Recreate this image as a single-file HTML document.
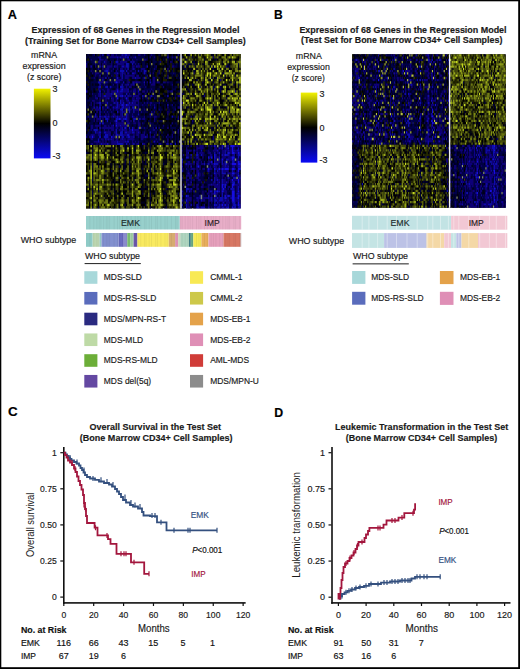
<!DOCTYPE html>
<html><head><meta charset="utf-8"><style>
html,body{margin:0;padding:0;background:#fff;width:520px;height:669px;overflow:hidden}
svg{display:block}
text{font-family:"Liberation Sans", sans-serif}
</style></head><body>
<svg width="520" height="669" viewBox="0 0 520 669" font-family="'Liberation Sans', sans-serif" fill="#1a1a1a" shape-rendering="auto">
<defs><linearGradient id="cb" x1="0" y1="0" x2="0" y2="1">
<stop offset="0" stop-color="#f2f200"/><stop offset="0.5" stop-color="#000"/><stop offset="1" stop-color="#0a0af5"/>
</linearGradient></defs>
<rect width="520" height="669" fill="#fff"/>
<text x="7.8" y="18.7" font-size="13.4" font-weight="bold" fill="#000" textLength="9.2" lengthAdjust="spacingAndGlyphs" stroke="#000" stroke-width="0.16">A</text>
<text x="31.6" y="33.1" font-size="9" font-weight="bold" textLength="207.8" lengthAdjust="spacingAndGlyphs" stroke="#1a1a1a" stroke-width="0.16">Expression of 68 Genes in the Regression Model</text>
<text x="24.9" y="43.5" font-size="9" font-weight="bold" textLength="220.8" lengthAdjust="spacingAndGlyphs" stroke="#1a1a1a" stroke-width="0.16">(Training Set for Bone Marrow CD34+ Cell Samples)</text>
<text x="31.1" y="57.9" font-size="8.85" textLength="26" lengthAdjust="spacingAndGlyphs" stroke="#1a1a1a" stroke-width="0.16">mRNA</text>
<text x="22.5" y="68.7" font-size="8.85" textLength="43.1" lengthAdjust="spacingAndGlyphs" stroke="#1a1a1a" stroke-width="0.16">expression</text>
<text x="27" y="79.8" font-size="8.85" textLength="34.4" lengthAdjust="spacingAndGlyphs" stroke="#1a1a1a" stroke-width="0.16">(z score)</text>
<rect x="33.9" y="88.7" width="16.6" height="69.7" fill="url(#cb)"/>
<text x="52.5" y="92.4" font-size="9" stroke="#1a1a1a" stroke-width="0.16">3</text>
<text x="52.5" y="126.3" font-size="9" stroke="#1a1a1a" stroke-width="0.16">0</text>
<text x="52.5" y="159.2" font-size="9" stroke="#1a1a1a" stroke-width="0.16">-3</text>
<filter id="hb11" x="0" y="0" width="1" height="1"><feGaussianBlur stdDeviation="0.5"/></filter>
<g filter="url(#hb11)">
<rect x="86.00" y="54.00" width="154.70" height="154.40" fill="#000"/>
<path d="M86.0 55.1h1.48M89.0 55.1h2.95M103.7 55.1h1.48M109.6 55.1h1.48M130.3 55.1h1.48M136.2 55.1h1.48M146.5 55.1h1.48M159.8 55.1h1.48M174.6 55.1h1.48M179.0 55.1h1.48M87.5 57.4h1.48M128.8 57.4h1.48M145.1 57.4h1.48M151.0 57.4h1.48M155.4 57.4h1.48M158.4 57.4h2.95M162.8 57.4h4.43M168.7 57.4h1.48M177.5 57.4h1.48M86.0 59.7h1.48M89.0 59.7h1.48M97.8 59.7h1.48M114.1 59.7h1.48M120.0 59.7h1.48M149.5 59.7h2.95M155.4 59.7h1.48M158.4 59.7h1.48M164.3 59.7h1.48M168.7 59.7h1.48M89.0 62.0h1.48M127.3 62.0h2.95M137.7 62.0h4.43M145.1 62.0h1.48M156.9 62.0h1.48M164.3 62.0h1.48M89.0 64.2h2.95M100.8 64.2h1.48M112.6 64.2h1.48M145.1 64.2h1.48M156.9 64.2h1.48M168.7 64.2h1.48M174.6 64.2h1.48M177.5 64.2h1.48M87.5 66.5h2.95M96.3 66.5h1.48M130.3 66.5h1.48M149.5 66.5h1.48M152.4 66.5h1.48M161.3 66.5h1.48M167.2 66.5h1.48M177.5 66.5h1.48M87.5 68.8h1.48M93.4 68.8h2.95M100.8 68.8h1.48M114.1 68.8h1.48M118.5 68.8h1.48M128.8 68.8h1.48M136.2 68.8h1.48M139.2 68.8h1.48M151.0 68.8h1.48M158.4 68.8h1.48M168.7 68.8h1.48M171.6 68.8h1.48M174.6 68.8h1.48M179.0 68.8h1.48M86.0 71.1h1.48M89.0 71.1h1.48M97.8 71.1h1.48M136.2 71.1h1.48M146.5 71.1h1.48M151.0 71.1h1.48M174.6 71.1h1.48M90.4 73.3h1.48M125.9 73.3h1.48M130.3 73.3h1.48M148.0 73.3h1.48M151.0 73.3h1.48M153.9 73.3h1.48M168.7 73.3h1.48M176.1 73.3h2.95M87.5 75.6h1.48M90.4 75.6h1.48M108.1 75.6h2.95M134.7 75.6h1.48M142.1 75.6h2.95M151.0 75.6h1.48M153.9 75.6h1.48M161.3 75.6h2.95M170.2 75.6h1.48M173.1 75.6h1.48M179.0 75.6h1.48M87.5 77.9h1.48M96.3 77.9h1.48M106.7 77.9h1.48M111.1 77.9h1.48M130.3 77.9h1.48M140.6 77.9h1.48M149.5 77.9h1.48M159.8 77.9h1.48M165.7 77.9h1.48M171.6 77.9h2.95M177.5 77.9h1.48M87.5 80.2h5.91M96.3 80.2h1.48M130.3 80.2h4.43M137.7 80.2h1.48M140.6 80.2h1.48M151.0 80.2h1.48M155.4 80.2h1.48M159.8 80.2h1.48M167.2 80.2h1.48M171.6 80.2h2.95M177.5 80.2h2.95M89.0 82.4h1.48M124.4 82.4h1.48M145.1 82.4h1.48M159.8 82.4h1.48M174.6 82.4h1.48M89.0 84.7h1.48M91.9 84.7h1.48M94.9 84.7h4.43M108.1 84.7h2.95M114.1 84.7h1.48M118.5 84.7h1.48M139.2 84.7h1.48M145.1 84.7h1.48M158.4 84.7h1.48M162.8 84.7h4.43M168.7 84.7h1.48M174.6 84.7h1.48M179.0 84.7h1.48M86.0 87.0h1.48M89.0 87.0h1.48M108.1 87.0h1.48M131.8 87.0h1.48M134.7 87.0h1.48M146.5 87.0h2.95M155.4 87.0h2.95M161.3 87.0h1.48M165.7 87.0h5.91M173.1 87.0h1.48M89.0 89.3h1.48M93.4 89.3h1.48M112.6 89.3h2.95M128.8 89.3h1.48M142.1 89.3h1.48M155.4 89.3h1.48M164.3 89.3h1.48M167.2 89.3h1.48M179.0 89.3h1.48M87.5 91.5h4.43M94.9 91.5h1.48M100.8 91.5h1.48M140.6 91.5h1.48M148.0 91.5h1.48M151.0 91.5h1.48M153.9 91.5h1.48M174.6 91.5h2.95M86.0 93.8h1.48M90.4 93.8h1.48M136.2 93.8h1.48M142.1 93.8h1.48M156.9 93.8h1.48M164.3 93.8h1.48M173.1 93.8h1.48M87.5 96.1h1.48M90.4 96.1h1.48M140.6 96.1h1.48M148.0 96.1h1.48M159.8 96.1h1.48M165.7 96.1h1.48M170.2 96.1h1.48M176.1 96.1h1.48M97.8 98.4h1.48M109.6 98.4h1.48M118.5 98.4h1.48M128.8 98.4h2.95M143.6 98.4h1.48M151.0 98.4h1.48M162.8 98.4h1.48M165.7 98.4h2.95M171.6 98.4h1.48M177.5 98.4h2.95M118.5 100.6h1.48M139.2 100.6h1.48M143.6 100.6h1.48M149.5 100.6h2.95M153.9 100.6h1.48M161.3 100.6h1.48M168.7 100.6h1.48M87.5 102.9h2.95M91.9 102.9h1.48M142.1 102.9h1.48M159.8 102.9h1.48M162.8 102.9h4.43M168.7 102.9h4.43M174.6 102.9h2.95M87.5 105.2h1.48M91.9 105.2h1.48M94.9 105.2h1.48M97.8 105.2h1.48M161.3 105.2h2.95M168.7 105.2h1.48M176.1 105.2h2.95M109.6 107.5h1.48M130.3 107.5h1.48M136.2 107.5h1.48M140.6 107.5h1.48M145.1 107.5h1.48M148.0 107.5h1.48M152.4 107.5h1.48M161.3 107.5h1.48M168.7 107.5h2.95M86.0 109.7h1.48M89.0 109.7h1.48M106.7 109.7h1.48M170.2 109.7h2.95M97.8 112.0h1.48M114.1 112.0h1.48M139.2 112.0h1.48M148.0 112.0h2.95M162.8 112.0h1.48M165.7 112.0h1.48M176.1 112.0h1.48M91.9 114.3h1.48M97.8 114.3h1.48M100.8 114.3h1.48M103.7 114.3h1.48M109.6 114.3h1.48M115.5 114.3h1.48M118.5 114.3h1.48M122.9 114.3h1.48M140.6 114.3h2.95M146.5 114.3h2.95M155.4 114.3h1.48M159.8 114.3h1.48M164.3 114.3h1.48M177.5 114.3h2.95M97.8 116.6h1.48M145.1 116.6h1.48M161.3 116.6h1.48M165.7 116.6h1.48M170.2 116.6h1.48M94.9 118.8h1.48M103.7 118.8h1.48M109.6 118.8h1.48M114.1 118.8h1.48M146.5 118.8h1.48M151.0 118.8h1.48M156.9 118.8h1.48M162.8 118.8h1.48M168.7 118.8h4.43M94.9 121.1h1.48M108.1 121.1h1.48M131.8 121.1h1.48M140.6 121.1h2.95M151.0 121.1h2.95M167.2 121.1h1.48M171.6 121.1h5.91M93.4 123.4h1.48M111.1 123.4h1.48M140.6 123.4h1.48M145.1 123.4h2.95M153.9 123.4h2.95M159.8 123.4h2.95M164.3 123.4h5.91M173.1 123.4h1.48M86.0 125.7h1.48M89.0 125.7h1.48M100.8 125.7h1.48M114.1 125.7h1.48M131.8 125.7h1.48M136.2 125.7h1.48M140.6 125.7h1.48M143.6 125.7h2.95M148.0 125.7h1.48M156.9 125.7h1.48M159.8 125.7h2.95M164.3 125.7h2.95M173.1 125.7h2.95M177.5 125.7h2.95M87.5 127.9h1.48M127.3 127.9h1.48M130.3 127.9h1.48M134.7 127.9h2.95M148.0 127.9h1.48M153.9 127.9h1.48M159.8 127.9h1.48M164.3 127.9h2.95M176.1 127.9h2.95M100.8 130.2h1.48M140.6 130.2h2.95M146.5 130.2h1.48M158.4 130.2h1.48M164.3 130.2h2.95M168.7 130.2h2.95M179.0 130.2h1.48M90.4 132.5h1.48M111.1 132.5h1.48M118.5 132.5h1.48M146.5 132.5h2.95M164.3 132.5h4.43M176.1 132.5h1.48M179.0 132.5h1.48M100.8 134.8h1.48M111.1 134.8h1.48M145.1 134.8h1.48M152.4 134.8h1.48M162.8 134.8h2.95M170.2 134.8h1.48M179.0 134.8h1.48M87.5 137.0h1.48M100.8 137.0h1.48M134.7 137.0h1.48M148.0 137.0h1.48M155.4 137.0h2.95M161.3 137.0h1.48M173.1 137.0h1.48M176.1 137.0h1.48M118.5 139.3h1.48M139.2 139.3h1.48M146.5 139.3h2.95M161.3 139.3h5.91M171.6 139.3h2.95M176.1 139.3h1.48M179.0 139.3h1.48M106.7 141.6h1.48M143.6 141.6h1.48M148.0 141.6h1.48M159.8 141.6h1.48M165.7 141.6h1.48M87.5 143.9h2.95M139.2 143.9h1.48M152.4 143.9h1.48M162.8 143.9h1.48M168.7 143.9h1.48M187.4 55.1h1.48M211.1 55.1h2.96M215.5 55.1h1.48M222.9 55.1h1.48M227.4 55.1h1.48M231.8 55.1h1.48M196.3 57.4h1.48M203.7 57.4h1.48M218.5 57.4h1.48M225.9 57.4h1.48M184.5 59.7h1.48M211.1 59.7h1.48M214.1 59.7h1.48M228.9 59.7h2.96M237.7 59.7h1.48M183.0 62.0h1.48M191.9 62.0h1.48M196.3 62.0h1.48M208.1 62.0h1.48M221.5 62.0h1.48M234.8 62.0h1.48M190.4 64.2h1.48M196.3 64.2h1.48M202.2 64.2h2.96M208.1 64.2h1.48M221.5 64.2h1.48M187.4 66.5h1.48M227.4 66.5h1.48M237.7 66.5h1.48M183.0 68.8h1.48M188.9 68.8h4.44M196.3 68.8h1.48M200.7 68.8h1.48M203.7 68.8h1.48M208.1 68.8h1.48M215.5 68.8h1.48M220.0 68.8h1.48M224.4 68.8h1.48M228.9 68.8h1.48M237.7 68.8h1.48M194.8 71.1h1.48M199.3 71.1h1.48M205.2 71.1h1.48M211.1 71.1h1.48M217.0 71.1h1.48M227.4 71.1h1.48M221.5 73.3h1.48M234.8 73.3h2.96M181.5 75.6h1.48M188.9 75.6h1.48M203.7 75.6h1.48M185.9 77.9h1.48M188.9 77.9h1.48M193.3 77.9h1.48M203.7 77.9h1.48M224.4 77.9h1.48M181.5 80.2h4.44M191.9 80.2h1.48M203.7 80.2h1.48M208.1 80.2h2.96M212.6 80.2h1.48M218.5 80.2h1.48M222.9 80.2h1.48M237.7 80.2h1.48M183.0 82.4h1.48M228.9 82.4h1.48M234.8 82.4h1.48M193.3 84.7h1.48M202.2 84.7h1.48M208.1 84.7h1.48M214.1 84.7h1.48M221.5 84.7h2.96M193.3 87.0h1.48M202.2 87.0h1.48M205.2 87.0h1.48M208.1 87.0h1.48M221.5 87.0h1.48M227.4 87.0h1.48M230.3 87.0h1.48M237.7 87.0h1.48M193.3 89.3h1.48M196.3 89.3h1.48M215.5 89.3h1.48M218.5 89.3h1.48M221.5 89.3h1.48M228.9 89.3h1.48M236.3 89.3h1.48M183.0 91.5h1.48M197.8 91.5h1.48M225.9 91.5h1.48M237.7 91.5h1.48M221.5 93.8h1.48M230.3 93.8h2.96M187.4 96.1h1.48M193.3 96.1h1.48M202.2 96.1h1.48M209.6 96.1h1.48M212.6 96.1h1.48M227.4 96.1h1.48M185.9 98.4h2.96M212.6 98.4h1.48M215.5 98.4h1.48M237.7 98.4h1.48M197.8 100.6h1.48M205.2 100.6h1.48M212.6 100.6h1.48M222.9 100.6h1.48M227.4 100.6h1.48M208.1 102.9h2.96M200.7 105.2h1.48M212.6 105.2h1.48M237.7 105.2h1.48M185.9 107.5h1.48M190.4 107.5h1.48M203.7 107.5h1.48M214.1 107.5h2.96M220.0 107.5h1.48M222.9 107.5h1.48M239.2 107.5h1.48M183.0 109.7h1.48M190.4 109.7h2.96M199.3 109.7h1.48M228.9 109.7h1.48M214.1 112.0h1.48M218.5 112.0h1.48M214.1 114.3h1.48M230.3 114.3h1.48M237.7 114.3h1.48M208.1 116.6h1.48M212.6 116.6h1.48M218.5 116.6h2.96M225.9 116.6h1.48M231.8 116.6h1.48M197.8 118.8h1.48M218.5 118.8h1.48M193.3 121.1h1.48M200.7 121.1h1.48M211.1 121.1h1.48M221.5 121.1h1.48M224.4 121.1h1.48M183.0 123.4h1.48M190.4 123.4h1.48M193.3 123.4h1.48M205.2 123.4h1.48M208.1 123.4h1.48M217.0 123.4h1.48M184.5 125.7h1.48M190.4 125.7h1.48M218.5 125.7h1.48M193.3 127.9h1.48M212.6 127.9h1.48M215.5 127.9h1.48M220.0 127.9h1.48M230.3 127.9h1.48M233.3 127.9h2.96M190.4 130.2h1.48M193.3 130.2h1.48M196.3 130.2h1.48M200.7 130.2h1.48M211.1 130.2h2.96M225.9 130.2h1.48M188.9 132.5h1.48M202.2 132.5h2.96M225.9 132.5h1.48M187.4 134.8h1.48M193.3 134.8h1.48M212.6 134.8h2.96M185.9 137.0h1.48M194.8 137.0h1.48M202.2 137.0h1.48M234.8 137.0h1.48M184.5 139.3h1.48M193.3 139.3h1.48M199.3 139.3h1.48M211.1 139.3h1.48M234.8 139.3h2.96M181.5 141.6h1.48M185.9 141.6h1.48M191.9 141.6h1.48M196.3 141.6h1.48M202.2 141.6h1.48M208.1 141.6h1.48M214.1 141.6h1.48M218.5 141.6h1.48M224.4 141.6h1.48M194.8 143.9h1.48M212.6 143.9h1.48M225.9 143.9h1.48" stroke="rgb(2, 1, 30)" stroke-width="2.32" fill="none"/>
<path d="M118.5 146.1h1.48M124.4 146.1h2.95M134.7 146.1h1.48M140.6 146.1h2.95M151.0 146.1h1.48M91.9 148.4h1.48M114.1 148.4h1.48M118.5 148.4h1.48M124.4 148.4h1.48M133.2 148.4h2.95M142.1 148.4h1.48M145.1 148.4h2.95M165.7 148.4h1.48M105.2 150.7h1.48M111.1 150.7h1.48M133.2 150.7h2.95M145.1 150.7h1.48M149.5 150.7h1.48M87.5 152.9h1.48M91.9 152.9h1.48M97.8 152.9h1.48M103.7 152.9h1.48M109.6 152.9h2.95M118.5 152.9h1.48M125.9 152.9h1.48M142.1 152.9h2.95M146.5 152.9h1.48M149.5 152.9h1.48M153.9 152.9h2.95M164.3 152.9h2.95M91.9 155.2h1.48M111.1 155.2h1.48M114.1 155.2h1.48M140.6 155.2h1.48M145.1 155.2h1.48M149.5 155.2h1.48M153.9 155.2h1.48M156.9 155.2h1.48M165.7 155.2h1.48M179.0 155.2h1.48M124.4 157.5h2.95M128.8 157.5h1.48M134.7 157.5h1.48M142.1 157.5h1.48M109.6 159.7h1.48M142.1 159.7h1.48M164.3 159.7h2.95M91.9 162.0h1.48M149.5 162.0h1.48M162.8 162.0h4.43M174.6 162.0h1.48M97.8 164.2h1.48M109.6 164.2h2.95M114.1 164.2h1.48M117.0 164.2h1.48M122.9 164.2h1.48M142.1 164.2h2.95M164.3 164.2h1.48M170.2 164.2h2.95M89.0 166.5h1.48M97.8 166.5h1.48M111.1 166.5h1.48M114.1 166.5h1.48M120.0 166.5h1.48M122.9 166.5h2.95M128.8 166.5h1.48M142.1 166.5h1.48M149.5 166.5h1.48M153.9 166.5h1.48M162.8 166.5h1.48M89.0 168.8h1.48M91.9 168.8h1.48M100.8 168.8h1.48M114.1 168.8h1.48M122.9 168.8h2.95M128.8 168.8h1.48M140.6 168.8h1.48M145.1 168.8h1.48M153.9 168.8h1.48M170.2 168.8h1.48M91.9 171.0h1.48M118.5 171.0h1.48M121.4 171.0h1.48M128.8 171.0h2.95M134.7 171.0h1.48M142.1 171.0h1.48M145.1 171.0h1.48M153.9 171.0h1.48M91.9 173.3h1.48M114.1 173.3h1.48M142.1 173.3h1.48M145.1 173.3h1.48M149.5 173.3h1.48M164.3 173.3h1.48M91.9 175.6h1.48M105.2 175.6h1.48M125.9 175.6h1.48M128.8 175.6h1.48M143.6 175.6h1.48M149.5 175.6h1.48M164.3 175.6h1.48M86.0 177.8h1.48M103.7 177.8h1.48M114.1 177.8h1.48M120.0 177.8h1.48M133.2 177.8h2.95M140.6 177.8h1.48M143.6 177.8h2.95M153.9 177.8h1.48M162.8 177.8h4.43M170.2 177.8h2.95M177.5 177.8h2.95M114.1 180.1h1.48M124.4 180.1h1.48M133.2 180.1h1.48M142.1 180.1h1.48M145.1 180.1h1.48M149.5 180.1h1.48M162.8 180.1h1.48M165.7 180.1h1.48M179.0 180.1h1.48M91.9 182.4h1.48M103.7 182.4h1.48M111.1 182.4h1.48M114.1 182.4h1.48M117.0 182.4h1.48M125.9 182.4h1.48M128.8 182.4h1.48M131.8 182.4h1.48M139.2 182.4h4.43M149.5 182.4h1.48M167.2 182.4h1.48M89.0 184.6h1.48M122.9 184.6h1.48M134.7 184.6h1.48M145.1 184.6h1.48M149.5 184.6h1.48M162.8 184.6h1.48M86.0 186.9h1.48M89.0 186.9h1.48M91.9 186.9h1.48M97.8 186.9h1.48M103.7 186.9h1.48M111.1 186.9h1.48M142.1 186.9h1.48M149.5 186.9h1.48M153.9 186.9h1.48M162.8 186.9h2.95M177.5 186.9h2.95M91.9 189.2h1.48M97.8 189.2h1.48M111.1 189.2h1.48M114.1 189.2h1.48M118.5 189.2h1.48M128.8 189.2h1.48M140.6 189.2h4.43M146.5 189.2h1.48M149.5 189.2h1.48M167.2 189.2h1.48M86.0 191.4h2.95M114.1 191.4h1.48M142.1 191.4h1.48M149.5 191.4h1.48M153.9 191.4h1.48M162.8 191.4h2.95M109.6 193.7h1.48M114.1 193.7h1.48M117.0 193.7h1.48M122.9 193.7h1.48M152.4 193.7h2.95M162.8 193.7h1.48M91.9 195.9h1.48M103.7 195.9h1.48M118.5 195.9h1.48M124.4 195.9h1.48M134.7 195.9h1.48M145.1 195.9h1.48M165.7 195.9h1.48M91.9 198.2h1.48M105.2 198.2h1.48M111.1 198.2h1.48M115.5 198.2h1.48M124.4 198.2h1.48M128.8 198.2h1.48M140.6 198.2h1.48M145.1 198.2h1.48M91.9 200.5h1.48M128.8 200.5h1.48M145.1 200.5h1.48M149.5 200.5h1.48M162.8 200.5h2.95M177.5 200.5h1.48M91.9 202.7h1.48M118.5 202.7h1.48M124.4 202.7h1.48M140.6 202.7h4.43M156.9 202.7h1.48M164.3 202.7h1.48M177.5 202.7h1.48M118.5 205.0h1.48M149.5 205.0h1.48M165.7 205.0h1.48M89.0 207.3h1.48M114.1 207.3h1.48M118.5 207.3h1.48M124.4 207.3h1.48M130.3 207.3h1.48M134.7 207.3h1.48M142.1 207.3h1.48M145.1 207.3h1.48M153.9 207.3h1.48M164.3 207.3h1.48M183.0 146.1h2.96M188.9 146.1h1.48M194.8 146.1h1.48M203.7 146.1h1.48M183.0 148.4h1.48M187.4 148.4h2.96M217.0 148.4h1.48M236.3 148.4h1.48M183.0 150.7h2.96M191.9 150.7h1.48M183.0 152.9h1.48M205.2 152.9h1.48M206.7 155.2h1.48M212.6 155.2h1.48M220.0 155.2h1.48M234.8 155.2h1.48M183.0 157.5h2.96M199.3 157.5h1.48M203.7 157.5h1.48M206.7 157.5h1.48M220.0 157.5h1.48M183.0 159.7h1.48M187.4 159.7h2.96M193.3 159.7h1.48M203.7 159.7h1.48M212.6 159.7h1.48M194.8 162.0h1.48M202.2 162.0h1.48M205.2 162.0h1.48M220.0 164.2h1.48M188.9 166.5h1.48M191.9 166.5h1.48M194.8 166.5h1.48M200.7 166.5h2.96M205.2 166.5h1.48M220.0 166.5h1.48M184.5 168.8h1.48M200.7 168.8h1.48M205.2 168.8h1.48M212.6 168.8h1.48M236.3 168.8h1.48M184.5 171.0h1.48M205.2 171.0h1.48M212.6 171.0h1.48M234.8 171.0h1.48M181.5 173.3h1.48M184.5 173.3h1.48M190.4 173.3h1.48M205.2 173.3h1.48M209.6 173.3h1.48M239.2 173.3h1.48M191.9 175.6h1.48M205.2 175.6h2.96M224.4 175.6h1.48M187.4 177.8h1.48M203.7 177.8h2.96M209.6 177.8h1.48M212.6 177.8h1.48M183.0 180.1h2.96M194.8 180.1h1.48M212.6 180.1h1.48M181.5 182.4h2.96M228.9 182.4h1.48M181.5 184.6h1.48M194.8 184.6h1.48M203.7 184.6h2.96M227.4 184.6h1.48M183.0 186.9h1.48M188.9 186.9h2.96M194.8 186.9h1.48M199.3 186.9h1.48M209.6 186.9h1.48M212.6 186.9h1.48M225.9 186.9h1.48M183.0 189.2h2.96M193.3 189.2h2.96M199.3 189.2h1.48M205.2 189.2h1.48M215.5 189.2h1.48M228.9 189.2h1.48M191.9 191.4h1.48M185.9 193.7h1.48M188.9 193.7h1.48M199.3 193.7h1.48M205.2 193.7h1.48M228.9 193.7h1.48M183.0 195.9h1.48M191.9 195.9h1.48M206.7 195.9h1.48M212.6 195.9h1.48M220.0 195.9h1.48M191.9 198.2h1.48M191.9 200.5h1.48M206.7 200.5h1.48M200.7 202.7h1.48M203.7 202.7h1.48M206.7 202.7h1.48M209.6 202.7h1.48M212.6 202.7h1.48M191.9 205.0h1.48M194.8 205.0h1.48M206.7 205.0h1.48" stroke="rgb(2, 1, 30)" stroke-width="2.31" fill="none"/>
<path d="M87.5 55.1h1.48M91.9 55.1h1.48M96.3 55.1h1.48M100.8 55.1h1.48M114.1 55.1h1.48M117.0 55.1h4.43M131.8 55.1h4.43M140.6 55.1h2.95M145.1 55.1h1.48M149.5 55.1h1.48M152.4 55.1h2.95M158.4 55.1h1.48M171.6 55.1h1.48M86.0 57.4h1.48M89.0 57.4h8.86M100.8 57.4h5.91M108.1 57.4h1.48M131.8 57.4h1.48M136.2 57.4h8.86M146.5 57.4h1.48M152.4 57.4h1.48M170.2 57.4h1.48M173.1 57.4h1.48M91.9 59.7h5.91M103.7 59.7h1.48M106.7 59.7h1.48M109.6 59.7h4.43M115.5 59.7h1.48M118.5 59.7h1.48M124.4 59.7h2.95M133.2 59.7h2.95M137.7 59.7h4.43M146.5 59.7h1.48M152.4 59.7h2.95M162.8 59.7h1.48M167.2 59.7h1.48M171.6 59.7h1.48M174.6 59.7h1.48M86.0 62.0h2.95M90.4 62.0h2.95M100.8 62.0h2.95M106.7 62.0h2.95M112.6 62.0h1.48M118.5 62.0h1.48M134.7 62.0h2.95M142.1 62.0h2.95M149.5 62.0h1.48M152.4 62.0h4.43M158.4 62.0h1.48M167.2 62.0h1.48M171.6 62.0h1.48M179.0 62.0h1.48M91.9 64.2h2.95M96.3 64.2h2.95M103.7 64.2h1.48M106.7 64.2h4.43M114.1 64.2h2.95M124.4 64.2h1.48M128.8 64.2h1.48M133.2 64.2h1.48M136.2 64.2h1.48M139.2 64.2h1.48M142.1 64.2h2.95M146.5 64.2h1.48M149.5 64.2h1.48M152.4 64.2h2.95M158.4 64.2h1.48M167.2 64.2h1.48M171.6 64.2h2.95M176.1 64.2h1.48M179.0 64.2h1.48M91.9 66.5h1.48M100.8 66.5h1.48M105.2 66.5h1.48M112.6 66.5h1.48M118.5 66.5h2.95M128.8 66.5h1.48M134.7 66.5h1.48M142.1 66.5h4.43M151.0 66.5h1.48M153.9 66.5h1.48M164.3 66.5h1.48M168.7 66.5h1.48M174.6 66.5h2.95M179.0 66.5h1.48M90.4 68.8h2.95M96.3 68.8h1.48M99.3 68.8h1.48M103.7 68.8h1.48M109.6 68.8h2.95M115.5 68.8h1.48M122.9 68.8h1.48M125.9 68.8h1.48M130.3 68.8h1.48M134.7 68.8h1.48M137.7 68.8h1.48M145.1 68.8h1.48M149.5 68.8h1.48M152.4 68.8h1.48M155.4 68.8h1.48M162.8 68.8h1.48M91.9 71.1h2.95M96.3 71.1h1.48M100.8 71.1h2.95M109.6 71.1h1.48M112.6 71.1h1.48M117.0 71.1h2.95M124.4 71.1h1.48M127.3 71.1h2.95M131.8 71.1h2.95M139.2 71.1h1.48M142.1 71.1h1.48M149.5 71.1h1.48M152.4 71.1h2.95M162.8 71.1h1.48M171.6 71.1h1.48M87.5 73.3h2.95M93.4 73.3h1.48M99.3 73.3h1.48M103.7 73.3h2.95M109.6 73.3h4.43M118.5 73.3h1.48M128.8 73.3h1.48M136.2 73.3h1.48M139.2 73.3h1.48M142.1 73.3h1.48M156.9 73.3h1.48M161.3 73.3h1.48M164.3 73.3h1.48M167.2 73.3h1.48M170.2 73.3h2.95M174.6 73.3h1.48M179.0 73.3h1.48M89.0 75.6h1.48M93.4 75.6h1.48M96.3 75.6h2.95M102.2 75.6h4.43M112.6 75.6h1.48M122.9 75.6h1.48M140.6 75.6h1.48M145.1 75.6h1.48M152.4 75.6h1.48M156.9 75.6h1.48M171.6 75.6h1.48M174.6 75.6h1.48M177.5 75.6h1.48M86.0 77.9h1.48M90.4 77.9h2.95M94.9 77.9h1.48M97.8 77.9h1.48M100.8 77.9h1.48M103.7 77.9h1.48M109.6 77.9h1.48M112.6 77.9h2.95M118.5 77.9h2.95M122.9 77.9h1.48M128.8 77.9h1.48M142.1 77.9h1.48M146.5 77.9h2.95M155.4 77.9h1.48M158.4 77.9h1.48M164.3 77.9h1.48M176.1 77.9h1.48M179.0 77.9h1.48M86.0 80.2h1.48M93.4 80.2h2.95M97.8 80.2h1.48M100.8 80.2h1.48M103.7 80.2h1.48M106.7 80.2h2.95M111.1 80.2h2.95M122.9 80.2h4.43M134.7 80.2h2.95M142.1 80.2h4.43M87.5 82.4h1.48M90.4 82.4h7.38M108.1 82.4h2.95M112.6 82.4h1.48M120.0 82.4h2.95M125.9 82.4h1.48M140.6 82.4h2.95M151.0 82.4h1.48M155.4 82.4h1.48M165.7 82.4h1.48M168.7 82.4h4.43M176.1 82.4h4.43M86.0 84.7h1.48M90.4 84.7h1.48M93.4 84.7h1.48M100.8 84.7h2.95M105.2 84.7h2.95M111.1 84.7h1.48M115.5 84.7h1.48M120.0 84.7h1.48M122.9 84.7h1.48M128.8 84.7h1.48M137.7 84.7h1.48M140.6 84.7h2.95M146.5 84.7h1.48M149.5 84.7h1.48M159.8 84.7h1.48M167.2 84.7h1.48M170.2 84.7h1.48M87.5 87.0h1.48M90.4 87.0h7.38M102.2 87.0h2.95M112.6 87.0h4.43M124.4 87.0h1.48M127.3 87.0h1.48M133.2 87.0h1.48M136.2 87.0h1.48M140.6 87.0h4.43M149.5 87.0h5.91M158.4 87.0h1.48M171.6 87.0h1.48M174.6 87.0h2.95M179.0 87.0h1.48M86.0 89.3h1.48M90.4 89.3h2.95M94.9 89.3h1.48M100.8 89.3h1.48M103.7 89.3h2.95M109.6 89.3h2.95M118.5 89.3h1.48M130.3 89.3h2.95M136.2 89.3h1.48M140.6 89.3h1.48M143.6 89.3h7.38M152.4 89.3h2.95M156.9 89.3h2.95M165.7 89.3h1.48M171.6 89.3h4.43M91.9 91.5h1.48M96.3 91.5h2.95M102.2 91.5h1.48M105.2 91.5h1.48M109.6 91.5h1.48M128.8 91.5h1.48M131.8 91.5h1.48M136.2 91.5h1.48M139.2 91.5h1.48M145.1 91.5h1.48M158.4 91.5h1.48M168.7 91.5h1.48M177.5 91.5h2.95M89.0 93.8h1.48M93.4 93.8h4.43M100.8 93.8h1.48M122.9 93.8h2.95M127.3 93.8h1.48M130.3 93.8h2.95M140.6 93.8h1.48M143.6 93.8h1.48M151.0 93.8h1.48M153.9 93.8h1.48M158.4 93.8h1.48M162.8 93.8h1.48M167.2 93.8h1.48M174.6 93.8h1.48M86.0 96.1h1.48M91.9 96.1h2.95M96.3 96.1h1.48M100.8 96.1h1.48M112.6 96.1h2.95M125.9 96.1h1.48M131.8 96.1h1.48M139.2 96.1h1.48M146.5 96.1h1.48M152.4 96.1h4.43M164.3 96.1h1.48M171.6 96.1h1.48M174.6 96.1h1.48M86.0 98.4h1.48M89.0 98.4h5.91M100.8 98.4h1.48M103.7 98.4h1.48M114.1 98.4h1.48M120.0 98.4h1.48M122.9 98.4h1.48M134.7 98.4h1.48M145.1 98.4h1.48M155.4 98.4h1.48M158.4 98.4h4.43M86.0 100.6h5.91M94.9 100.6h4.43M103.7 100.6h1.48M106.7 100.6h4.43M114.1 100.6h1.48M117.0 100.6h1.48M124.4 100.6h1.48M128.8 100.6h2.95M142.1 100.6h1.48M146.5 100.6h2.95M158.4 100.6h1.48M171.6 100.6h1.48M177.5 100.6h1.48M86.0 102.9h1.48M94.9 102.9h1.48M100.8 102.9h1.48M103.7 102.9h1.48M108.1 102.9h4.43M118.5 102.9h1.48M124.4 102.9h2.95M136.2 102.9h1.48M139.2 102.9h2.95M145.1 102.9h1.48M148.0 102.9h1.48M152.4 102.9h5.91M161.3 102.9h1.48M167.2 102.9h1.48M173.1 102.9h1.48M177.5 102.9h2.95M86.0 105.2h1.48M89.0 105.2h1.48M96.3 105.2h1.48M100.8 105.2h1.48M103.7 105.2h1.48M108.1 105.2h1.48M112.6 105.2h2.95M139.2 105.2h2.95M143.6 105.2h4.43M151.0 105.2h2.95M155.4 105.2h1.48M158.4 105.2h1.48M164.3 105.2h1.48M170.2 105.2h1.48M174.6 105.2h1.48M179.0 105.2h1.48M86.0 107.5h2.95M90.4 107.5h2.95M94.9 107.5h1.48M97.8 107.5h1.48M103.7 107.5h2.95M111.1 107.5h1.48M120.0 107.5h1.48M139.2 107.5h1.48M142.1 107.5h2.95M146.5 107.5h1.48M149.5 107.5h2.95M155.4 107.5h1.48M158.4 107.5h2.95M164.3 107.5h1.48M171.6 107.5h4.43M90.4 109.7h1.48M103.7 109.7h1.48M108.1 109.7h1.48M111.1 109.7h1.48M114.1 109.7h1.48M118.5 109.7h1.48M122.9 109.7h1.48M131.8 109.7h1.48M140.6 109.7h2.95M145.1 109.7h1.48M149.5 109.7h1.48M152.4 109.7h4.43M159.8 109.7h2.95M164.3 109.7h1.48M167.2 109.7h2.95M173.1 109.7h1.48M86.0 112.0h1.48M93.4 112.0h1.48M100.8 112.0h2.95M105.2 112.0h1.48M108.1 112.0h2.95M112.6 112.0h1.48M118.5 112.0h1.48M127.3 112.0h1.48M130.3 112.0h2.95M134.7 112.0h2.95M142.1 112.0h5.91M152.4 112.0h1.48M156.9 112.0h1.48M159.8 112.0h1.48M168.7 112.0h1.48M171.6 112.0h2.95M179.0 112.0h1.48M89.0 114.3h2.95M96.3 114.3h1.48M102.2 114.3h1.48M106.7 114.3h1.48M111.1 114.3h1.48M117.0 114.3h1.48M128.8 114.3h2.95M133.2 114.3h4.43M139.2 114.3h1.48M143.6 114.3h1.48M153.9 114.3h1.48M158.4 114.3h1.48M86.0 116.6h1.48M89.0 116.6h1.48M109.6 116.6h1.48M128.8 116.6h2.95M134.7 116.6h1.48M137.7 116.6h5.91M146.5 116.6h2.95M151.0 116.6h2.95M156.9 116.6h2.95M167.2 116.6h1.48M173.1 116.6h2.95M86.0 118.8h1.48M89.0 118.8h4.43M100.8 118.8h1.48M111.1 118.8h2.95M128.8 118.8h1.48M131.8 118.8h1.48M137.7 118.8h1.48M140.6 118.8h1.48M145.1 118.8h1.48M149.5 118.8h1.48M155.4 118.8h1.48M165.7 118.8h2.95M174.6 118.8h1.48M90.4 121.1h2.95M97.8 121.1h1.48M105.2 121.1h1.48M109.6 121.1h4.43M118.5 121.1h2.95M124.4 121.1h1.48M128.8 121.1h1.48M134.7 121.1h2.95M139.2 121.1h1.48M143.6 121.1h2.95M148.0 121.1h2.95M155.4 121.1h1.48M158.4 121.1h4.43M86.0 123.4h1.48M89.0 123.4h4.43M94.9 123.4h2.95M100.8 123.4h1.48M103.7 123.4h5.91M112.6 123.4h2.95M125.9 123.4h1.48M130.3 123.4h2.95M136.2 123.4h1.48M143.6 123.4h1.48M151.0 123.4h2.95M156.9 123.4h1.48M174.6 123.4h2.95M87.5 125.7h1.48M93.4 125.7h1.48M102.2 125.7h1.48M106.7 125.7h1.48M109.6 125.7h1.48M128.8 125.7h2.95M133.2 125.7h2.95M142.1 125.7h1.48M146.5 125.7h1.48M151.0 125.7h5.91M158.4 125.7h1.48M167.2 125.7h1.48M176.1 125.7h1.48M86.0 127.9h1.48M93.4 127.9h2.95M100.8 127.9h1.48M114.1 127.9h1.48M118.5 127.9h1.48M122.9 127.9h1.48M142.1 127.9h1.48M145.1 127.9h2.95M149.5 127.9h2.95M161.3 127.9h2.95M170.2 127.9h5.91M179.0 127.9h1.48M86.0 130.2h1.48M89.0 130.2h1.48M91.9 130.2h1.48M97.8 130.2h1.48M102.2 130.2h1.48M105.2 130.2h2.95M109.6 130.2h1.48M114.1 130.2h1.48M117.0 130.2h1.48M127.3 130.2h1.48M139.2 130.2h1.48M143.6 130.2h2.95M148.0 130.2h4.43M155.4 130.2h2.95M171.6 130.2h1.48M174.6 130.2h1.48M87.5 132.5h2.95M91.9 132.5h2.95M100.8 132.5h2.95M112.6 132.5h1.48M117.0 132.5h1.48M122.9 132.5h1.48M134.7 132.5h1.48M142.1 132.5h1.48M145.1 132.5h1.48M151.0 132.5h4.43M158.4 132.5h2.95M162.8 132.5h1.48M171.6 132.5h1.48M86.0 134.8h4.43M94.9 134.8h2.95M102.2 134.8h2.95M114.1 134.8h1.48M130.3 134.8h2.95M134.7 134.8h1.48M139.2 134.8h1.48M155.4 134.8h1.48M158.4 134.8h1.48M161.3 134.8h1.48M174.6 134.8h1.48M177.5 134.8h1.48M94.9 137.0h4.43M102.2 137.0h1.48M109.6 137.0h1.48M120.0 137.0h1.48M124.4 137.0h1.48M136.2 137.0h1.48M139.2 137.0h1.48M151.0 137.0h1.48M162.8 137.0h1.48M167.2 137.0h4.43M174.6 137.0h1.48M177.5 137.0h1.48M93.4 139.3h4.43M99.3 139.3h1.48M103.7 139.3h1.48M114.1 139.3h1.48M125.9 139.3h1.48M134.7 139.3h4.43M143.6 139.3h2.95M149.5 139.3h5.91M156.9 139.3h1.48M170.2 139.3h1.48M174.6 139.3h1.48M177.5 139.3h1.48M89.0 141.6h4.43M100.8 141.6h1.48M103.7 141.6h1.48M108.1 141.6h2.95M128.8 141.6h2.95M133.2 141.6h1.48M136.2 141.6h1.48M139.2 141.6h4.43M145.1 141.6h2.95M149.5 141.6h1.48M155.4 141.6h1.48M158.4 141.6h1.48M161.3 141.6h1.48M173.1 141.6h2.95M93.4 143.9h2.95M97.8 143.9h1.48M109.6 143.9h1.48M124.4 143.9h1.48M127.3 143.9h1.48M130.3 143.9h1.48M134.7 143.9h1.48M145.1 143.9h1.48M149.5 143.9h2.95M153.9 143.9h2.95M161.3 143.9h1.48M171.6 143.9h1.48M177.5 143.9h1.48M188.9 55.1h1.48M199.3 55.1h1.48M181.5 57.4h1.48M191.9 57.4h1.48M185.9 59.7h1.48M203.7 59.7h1.48M215.5 59.7h1.48M193.3 62.0h1.48M184.5 64.2h1.48M187.4 64.2h2.96M227.4 64.2h1.48M237.7 64.2h1.48M183.0 66.5h1.48M185.9 66.5h1.48M194.8 66.5h1.48M209.6 66.5h1.48M212.6 66.5h1.48M228.9 66.5h1.48M184.5 68.8h1.48M212.6 68.8h1.48M193.3 71.1h1.48M222.9 73.3h1.48M224.4 75.6h1.48M234.8 75.6h1.48M211.1 77.9h1.48M215.5 77.9h1.48M196.3 80.2h1.48M202.2 82.4h1.48M212.6 82.4h1.48M230.3 82.4h1.48M188.9 84.7h1.48M191.9 84.7h1.48M224.4 84.7h1.48M233.3 84.7h1.48M237.7 84.7h1.48M185.9 87.0h1.48M212.6 87.0h2.96M220.0 87.0h1.48M187.4 89.3h1.48M212.6 89.3h1.48M220.0 89.3h1.48M188.9 91.5h1.48M220.0 91.5h1.48M181.5 93.8h2.96M193.3 93.8h1.48M203.7 93.8h1.48M225.9 98.4h1.48M208.1 100.6h1.48M196.3 102.9h1.48M181.5 107.5h1.48M187.4 107.5h1.48M212.6 107.5h1.48M225.9 107.5h1.48M228.9 112.0h1.48M184.5 114.3h1.48M193.3 114.3h1.48M193.3 116.6h1.48M221.5 118.8h1.48M191.9 123.4h1.48M214.1 123.4h1.48M185.9 125.7h1.48M215.5 125.7h1.48M228.9 125.7h1.48M200.7 127.9h1.48M211.1 127.9h1.48M193.3 132.5h1.48M206.7 132.5h1.48M217.0 132.5h1.48M237.7 132.5h1.48M188.9 134.8h1.48M191.9 134.8h1.48M194.8 139.3h2.96M183.0 141.6h1.48M188.9 141.6h1.48M193.3 141.6h1.48M200.7 141.6h1.48M205.2 141.6h1.48M225.9 141.6h1.48M237.7 141.6h1.48M227.4 143.9h1.48" stroke="rgb(6, 3, 69)" stroke-width="2.32" fill="none"/>
<path d="M128.8 146.1h1.48M145.1 146.1h1.48M149.5 146.1h1.48M111.1 148.4h1.48M125.9 148.4h1.48M149.5 148.4h1.48M177.5 148.4h1.48M91.9 150.7h1.48M86.0 152.9h1.48M124.4 152.9h1.48M145.1 152.9h1.48M128.8 155.2h1.48M171.6 155.2h1.48M91.9 157.5h1.48M149.5 157.5h1.48M124.4 159.7h1.48M145.1 159.7h1.48M149.5 159.7h1.48M97.8 162.0h1.48M105.2 162.0h1.48M124.4 162.0h1.48M128.8 162.0h1.48M142.1 162.0h1.48M145.1 162.0h1.48M91.9 164.2h1.48M124.4 164.2h1.48M128.8 164.2h1.48M145.1 164.2h1.48M149.5 164.2h1.48M162.8 164.2h1.48M91.9 166.5h1.48M118.5 166.5h1.48M142.1 168.8h1.48M149.5 168.8h1.48M105.2 171.0h1.48M111.1 171.0h1.48M149.5 171.0h1.48M165.7 171.0h1.48M145.1 175.6h2.95M91.9 177.8h1.48M118.5 177.8h1.48M149.5 177.8h1.48M152.4 177.8h1.48M91.9 180.1h1.48M165.7 182.4h1.48M145.1 186.9h1.48M165.7 189.2h1.48M91.9 191.4h1.48M97.8 191.4h1.48M91.9 193.7h1.48M142.1 193.7h1.48M149.5 193.7h1.48M164.3 193.7h1.48M177.5 193.7h1.48M149.5 195.9h1.48M149.5 198.2h1.48M149.5 202.7h1.48M124.4 205.0h1.48M145.1 205.0h1.48M91.9 207.3h1.48M97.8 207.3h1.48M149.5 207.3h1.48M165.7 207.3h1.48M185.9 146.1h1.48M197.8 146.1h1.48M209.6 146.1h1.48M212.6 146.1h1.48M215.5 146.1h1.48M218.5 146.1h2.96M228.9 146.1h1.48M181.5 148.4h1.48M193.3 148.4h1.48M203.7 148.4h1.48M208.1 148.4h4.44M222.9 148.4h1.48M228.9 148.4h1.48M234.8 148.4h1.48M239.2 148.4h1.48M194.8 150.7h1.48M197.8 150.7h2.96M202.2 150.7h1.48M205.2 150.7h2.96M209.6 150.7h2.96M218.5 150.7h2.96M181.5 152.9h1.48M197.8 152.9h1.48M203.7 152.9h1.48M206.7 152.9h1.48M211.1 152.9h2.96M215.5 152.9h1.48M220.0 152.9h1.48M225.9 152.9h1.48M181.5 155.2h1.48M188.9 155.2h1.48M193.3 155.2h1.48M199.3 155.2h1.48M203.7 155.2h2.96M208.1 155.2h1.48M217.0 155.2h1.48M230.3 155.2h1.48M181.5 157.5h1.48M188.9 157.5h1.48M194.8 157.5h1.48M205.2 157.5h1.48M225.9 157.5h1.48M234.8 157.5h2.96M239.2 157.5h1.48M184.5 159.7h2.96M190.4 159.7h1.48M194.8 159.7h2.96M200.7 159.7h2.96M205.2 159.7h1.48M211.1 159.7h1.48M220.0 159.7h1.48M224.4 159.7h1.48M239.2 159.7h1.48M185.9 162.0h1.48M190.4 162.0h1.48M199.3 162.0h1.48M206.7 162.0h1.48M220.0 162.0h1.48M222.9 162.0h1.48M227.4 162.0h1.48M230.3 162.0h1.48M234.8 162.0h1.48M191.9 164.2h1.48M199.3 164.2h1.48M205.2 164.2h1.48M209.6 164.2h1.48M218.5 164.2h1.48M228.9 164.2h1.48M184.5 166.5h2.96M193.3 166.5h1.48M203.7 166.5h1.48M208.1 166.5h1.48M211.1 166.5h1.48M217.0 166.5h1.48M228.9 166.5h2.96M234.8 166.5h1.48M183.0 168.8h1.48M187.4 168.8h2.96M194.8 168.8h1.48M197.8 168.8h1.48M228.9 168.8h1.48M183.0 171.0h1.48M185.9 171.0h1.48M188.9 171.0h2.96M199.3 171.0h5.92M209.6 171.0h2.96M215.5 171.0h1.48M220.0 171.0h1.48M230.3 171.0h1.48M239.2 171.0h1.48M185.9 173.3h1.48M191.9 173.3h1.48M200.7 173.3h1.48M211.1 173.3h2.96M220.0 173.3h1.48M225.9 173.3h1.48M181.5 175.6h1.48M193.3 175.6h1.48M200.7 175.6h1.48M203.7 175.6h1.48M208.1 175.6h2.96M217.0 175.6h1.48M220.0 175.6h1.48M234.8 175.6h1.48M193.3 177.8h2.96M199.3 177.8h4.44M211.1 177.8h1.48M218.5 177.8h2.96M222.9 177.8h1.48M225.9 177.8h1.48M230.3 177.8h2.96M181.5 180.1h1.48M188.9 180.1h1.48M191.9 180.1h1.48M196.3 180.1h1.48M200.7 180.1h4.44M206.7 180.1h4.44M220.0 180.1h1.48M225.9 180.1h1.48M228.9 180.1h1.48M187.4 182.4h2.96M193.3 182.4h1.48M196.3 182.4h4.44M205.2 182.4h7.40M215.5 182.4h1.48M220.0 182.4h1.48M234.8 182.4h2.96M185.9 184.6h1.48M200.7 184.6h1.48M206.7 184.6h1.48M220.0 184.6h1.48M230.3 184.6h1.48M181.5 186.9h1.48M187.4 186.9h1.48M191.9 186.9h1.48M197.8 186.9h1.48M203.7 186.9h4.44M211.1 186.9h1.48M220.0 186.9h1.48M230.3 186.9h1.48M234.8 186.9h1.48M181.5 189.2h1.48M191.9 189.2h1.48M200.7 189.2h2.96M209.6 189.2h4.44M220.0 189.2h1.48M225.9 189.2h1.48M234.8 189.2h1.48M239.2 189.2h1.48M183.0 191.4h1.48M187.4 191.4h1.48M196.3 191.4h5.92M203.7 191.4h1.48M212.6 191.4h1.48M220.0 191.4h1.48M227.4 191.4h4.44M234.8 191.4h1.48M183.0 193.7h1.48M187.4 193.7h1.48M190.4 193.7h1.48M193.3 193.7h5.92M200.7 193.7h1.48M203.7 193.7h1.48M209.6 193.7h1.48M218.5 193.7h2.96M222.9 193.7h1.48M227.4 193.7h1.48M230.3 193.7h1.48M234.8 193.7h1.48M184.5 195.9h1.48M188.9 195.9h2.96M194.8 195.9h4.44M203.7 195.9h2.96M209.6 195.9h1.48M217.0 195.9h1.48M222.9 195.9h1.48M234.8 195.9h1.48M184.5 198.2h1.48M193.3 198.2h2.96M212.6 198.2h1.48M228.9 198.2h1.48M183.0 200.5h2.96M194.8 200.5h1.48M199.3 200.5h1.48M205.2 200.5h1.48M212.6 200.5h1.48M228.9 200.5h2.96M181.5 202.7h2.96M190.4 202.7h1.48M199.3 202.7h1.48M205.2 202.7h1.48M215.5 202.7h1.48M220.0 202.7h1.48M224.4 202.7h1.48M230.3 202.7h1.48M236.3 202.7h1.48M184.5 205.0h1.48M188.9 205.0h1.48M199.3 205.0h1.48M202.2 205.0h1.48M209.6 205.0h4.44M228.9 205.0h2.96M181.5 207.3h2.96M190.4 207.3h1.48M193.3 207.3h2.96M205.2 207.3h2.96M209.6 207.3h1.48M212.6 207.3h1.48M228.9 207.3h2.96M236.3 207.3h1.48" stroke="rgb(6, 3, 69)" stroke-width="2.31" fill="none"/>
<path d="M93.4 55.1h1.48M99.3 55.1h1.48M106.7 55.1h2.95M111.1 55.1h2.95M115.5 55.1h1.48M122.9 55.1h1.48M127.3 55.1h2.95M137.7 55.1h2.95M143.6 55.1h1.48M151.0 55.1h1.48M167.2 55.1h1.48M177.5 55.1h1.48M97.8 57.4h1.48M109.6 57.4h7.38M118.5 57.4h1.48M121.4 57.4h2.95M125.9 57.4h1.48M130.3 57.4h1.48M133.2 57.4h1.48M149.5 57.4h1.48M153.9 57.4h1.48M171.6 57.4h1.48M174.6 57.4h1.48M90.4 59.7h1.48M100.8 59.7h2.95M105.2 59.7h1.48M117.0 59.7h1.48M121.4 59.7h1.48M127.3 59.7h2.95M131.8 59.7h1.48M136.2 59.7h1.48M143.6 59.7h2.95M177.5 59.7h1.48M93.4 62.0h1.48M97.8 62.0h2.95M105.2 62.0h1.48M111.1 62.0h1.48M120.0 62.0h7.38M131.8 62.0h1.48M159.8 62.0h1.48M170.2 62.0h1.48M86.0 64.2h1.48M94.9 64.2h1.48M99.3 64.2h1.48M102.2 64.2h1.48M105.2 64.2h1.48M111.1 64.2h1.48M117.0 64.2h7.38M134.7 64.2h1.48M137.7 64.2h1.48M86.0 66.5h1.48M94.9 66.5h1.48M106.7 66.5h5.91M115.5 66.5h2.95M124.4 66.5h1.48M131.8 66.5h2.95M137.7 66.5h2.95M155.4 66.5h1.48M171.6 66.5h2.95M97.8 68.8h1.48M102.2 68.8h1.48M105.2 68.8h4.43M112.6 68.8h1.48M117.0 68.8h1.48M120.0 68.8h2.95M124.4 68.8h1.48M131.8 68.8h1.48M140.6 68.8h4.43M153.9 68.8h1.48M167.2 68.8h1.48M90.4 71.1h1.48M103.7 71.1h1.48M108.1 71.1h1.48M111.1 71.1h1.48M115.5 71.1h1.48M130.3 71.1h1.48M134.7 71.1h1.48M140.6 71.1h1.48M158.4 71.1h1.48M167.2 71.1h1.48M91.9 73.3h1.48M94.9 73.3h4.43M100.8 73.3h1.48M114.1 73.3h2.95M120.0 73.3h1.48M122.9 73.3h2.95M134.7 73.3h1.48M145.1 73.3h1.48M149.5 73.3h1.48M152.4 73.3h1.48M158.4 73.3h1.48M173.1 73.3h1.48M94.9 75.6h1.48M106.7 75.6h1.48M111.1 75.6h1.48M115.5 75.6h2.95M120.0 75.6h1.48M124.4 75.6h10.34M136.2 75.6h2.95M146.5 75.6h1.48M167.2 75.6h1.48M93.4 77.9h1.48M99.3 77.9h1.48M102.2 77.9h1.48M108.1 77.9h1.48M115.5 77.9h1.48M124.4 77.9h4.43M131.8 77.9h2.95M136.2 77.9h4.43M152.4 77.9h2.95M167.2 77.9h1.48M115.5 80.2h7.38M127.3 80.2h1.48M149.5 80.2h1.48M152.4 80.2h2.95M100.8 82.4h2.95M106.7 82.4h1.48M111.1 82.4h1.48M114.1 82.4h1.48M118.5 82.4h1.48M127.3 82.4h2.95M131.8 82.4h1.48M134.7 82.4h1.48M137.7 82.4h2.95M146.5 82.4h1.48M152.4 82.4h2.95M156.9 82.4h2.95M162.8 82.4h2.95M167.2 82.4h1.48M103.7 84.7h1.48M112.6 84.7h1.48M117.0 84.7h1.48M124.4 84.7h2.95M130.3 84.7h2.95M143.6 84.7h1.48M151.0 84.7h4.43M161.3 84.7h1.48M171.6 84.7h1.48M97.8 87.0h1.48M111.1 87.0h1.48M117.0 87.0h1.48M122.9 87.0h1.48M125.9 87.0h1.48M128.8 87.0h2.95M139.2 87.0h1.48M145.1 87.0h1.48M162.8 87.0h1.48M97.8 89.3h2.95M102.2 89.3h1.48M106.7 89.3h2.95M115.5 89.3h1.48M120.0 89.3h1.48M122.9 89.3h4.43M133.2 89.3h2.95M137.7 89.3h1.48M151.0 89.3h1.48M103.7 91.5h1.48M106.7 91.5h2.95M111.1 91.5h5.91M118.5 91.5h1.48M122.9 91.5h4.43M130.3 91.5h1.48M134.7 91.5h1.48M142.1 91.5h2.95M146.5 91.5h1.48M149.5 91.5h1.48M152.4 91.5h1.48M167.2 91.5h1.48M170.2 91.5h2.95M91.9 93.8h1.48M97.8 93.8h1.48M102.2 93.8h1.48M105.2 93.8h5.91M112.6 93.8h1.48M117.0 93.8h5.91M128.8 93.8h1.48M134.7 93.8h1.48M137.7 93.8h2.95M145.1 93.8h1.48M94.9 96.1h1.48M97.8 96.1h1.48M102.2 96.1h1.48M106.7 96.1h5.91M118.5 96.1h1.48M122.9 96.1h1.48M128.8 96.1h2.95M134.7 96.1h4.43M143.6 96.1h1.48M149.5 96.1h1.48M177.5 96.1h2.95M94.9 98.4h1.48M99.3 98.4h1.48M102.2 98.4h1.48M105.2 98.4h2.95M112.6 98.4h1.48M115.5 98.4h1.48M121.4 98.4h1.48M124.4 98.4h1.48M127.3 98.4h1.48M131.8 98.4h2.95M137.7 98.4h2.95M142.1 98.4h1.48M146.5 98.4h1.48M149.5 98.4h1.48M153.9 98.4h1.48M174.6 98.4h1.48M91.9 100.6h2.95M99.3 100.6h1.48M105.2 100.6h1.48M111.1 100.6h2.95M115.5 100.6h1.48M121.4 100.6h2.95M125.9 100.6h1.48M131.8 100.6h1.48M134.7 100.6h4.43M165.7 100.6h1.48M90.4 102.9h1.48M93.4 102.9h1.48M96.3 102.9h2.95M102.2 102.9h1.48M105.2 102.9h1.48M112.6 102.9h1.48M115.5 102.9h1.48M121.4 102.9h1.48M127.3 102.9h1.48M130.3 102.9h1.48M133.2 102.9h2.95M137.7 102.9h1.48M143.6 102.9h1.48M146.5 102.9h1.48M149.5 102.9h2.95M158.4 102.9h1.48M90.4 105.2h1.48M93.4 105.2h1.48M106.7 105.2h1.48M109.6 105.2h2.95M115.5 105.2h1.48M118.5 105.2h2.95M124.4 105.2h1.48M128.8 105.2h10.34M142.1 105.2h1.48M149.5 105.2h1.48M153.9 105.2h1.48M171.6 105.2h1.48M108.1 107.5h1.48M114.1 107.5h1.48M118.5 107.5h1.48M124.4 107.5h4.43M137.7 107.5h1.48M167.2 107.5h1.48M177.5 107.5h2.95M91.9 109.7h1.48M94.9 109.7h4.43M102.2 109.7h1.48M105.2 109.7h1.48M109.6 109.7h1.48M112.6 109.7h1.48M115.5 109.7h2.95M124.4 109.7h1.48M130.3 109.7h1.48M134.7 109.7h4.43M143.6 109.7h1.48M158.4 109.7h1.48M174.6 109.7h1.48M96.3 112.0h1.48M103.7 112.0h1.48M106.7 112.0h1.48M111.1 112.0h1.48M120.0 112.0h1.48M122.9 112.0h2.95M137.7 112.0h1.48M140.6 112.0h1.48M151.0 112.0h1.48M153.9 112.0h1.48M167.2 112.0h1.48M105.2 114.3h1.48M108.1 114.3h1.48M112.6 114.3h2.95M120.0 114.3h1.48M127.3 114.3h1.48M131.8 114.3h1.48M152.4 114.3h1.48M167.2 114.3h1.48M87.5 116.6h1.48M90.4 116.6h1.48M93.4 116.6h1.48M96.3 116.6h1.48M100.8 116.6h2.95M106.7 116.6h1.48M111.1 116.6h1.48M114.1 116.6h2.95M118.5 116.6h2.95M122.9 116.6h2.95M127.3 116.6h1.48M133.2 116.6h1.48M136.2 116.6h1.48M143.6 116.6h1.48M149.5 116.6h1.48M153.9 116.6h2.95M177.5 116.6h1.48M93.4 118.8h1.48M96.3 118.8h2.95M102.2 118.8h1.48M108.1 118.8h1.48M121.4 118.8h1.48M127.3 118.8h1.48M142.1 118.8h2.95M153.9 118.8h1.48M177.5 118.8h1.48M93.4 121.1h1.48M96.3 121.1h1.48M99.3 121.1h1.48M114.1 121.1h1.48M117.0 121.1h1.48M122.9 121.1h1.48M125.9 121.1h2.95M130.3 121.1h1.48M137.7 121.1h1.48M153.9 121.1h1.48M109.6 123.4h1.48M117.0 123.4h7.38M128.8 123.4h1.48M133.2 123.4h2.95M137.7 123.4h2.95M142.1 123.4h1.48M149.5 123.4h1.48M171.6 123.4h1.48M90.4 125.7h2.95M94.9 125.7h5.91M103.7 125.7h2.95M108.1 125.7h1.48M111.1 125.7h1.48M117.0 125.7h2.95M121.4 125.7h4.43M137.7 125.7h2.95M162.8 125.7h1.48M170.2 125.7h1.48M90.4 127.9h2.95M96.3 127.9h1.48M102.2 127.9h11.81M115.5 127.9h2.95M120.0 127.9h1.48M125.9 127.9h1.48M133.2 127.9h1.48M140.6 127.9h1.48M143.6 127.9h1.48M152.4 127.9h1.48M158.4 127.9h1.48M167.2 127.9h1.48M90.4 130.2h1.48M99.3 130.2h1.48M103.7 130.2h1.48M108.1 130.2h1.48M111.1 130.2h2.95M118.5 130.2h2.95M122.9 130.2h4.43M128.8 130.2h2.95M133.2 130.2h5.91M152.4 130.2h2.95M177.5 130.2h1.48M96.3 132.5h2.95M106.7 132.5h4.43M114.1 132.5h1.48M127.3 132.5h4.43M136.2 132.5h1.48M139.2 132.5h1.48M143.6 132.5h1.48M155.4 132.5h1.48M173.1 132.5h1.48M177.5 132.5h1.48M90.4 134.8h4.43M97.8 134.8h1.48M108.1 134.8h2.95M112.6 134.8h1.48M118.5 134.8h1.48M122.9 134.8h4.43M128.8 134.8h1.48M133.2 134.8h1.48M136.2 134.8h2.95M140.6 134.8h4.43M146.5 134.8h1.48M149.5 134.8h1.48M153.9 134.8h1.48M167.2 134.8h1.48M171.6 134.8h1.48M86.0 137.0h1.48M89.0 137.0h2.95M93.4 137.0h1.48M108.1 137.0h1.48M112.6 137.0h2.95M117.0 137.0h1.48M125.9 137.0h1.48M130.3 137.0h2.95M137.7 137.0h1.48M140.6 137.0h4.43M146.5 137.0h1.48M149.5 137.0h1.48M152.4 137.0h2.95M158.4 137.0h1.48M165.7 137.0h1.48M171.6 137.0h1.48M90.4 139.3h2.95M100.8 139.3h2.95M106.7 139.3h1.48M109.6 139.3h1.48M112.6 139.3h1.48M115.5 139.3h2.95M120.0 139.3h1.48M122.9 139.3h2.95M127.3 139.3h7.38M140.6 139.3h2.95M155.4 139.3h1.48M158.4 139.3h1.48M167.2 139.3h1.48M93.4 141.6h4.43M99.3 141.6h1.48M102.2 141.6h1.48M105.2 141.6h1.48M111.1 141.6h5.91M118.5 141.6h5.91M125.9 141.6h1.48M131.8 141.6h1.48M134.7 141.6h1.48M137.7 141.6h1.48M152.4 141.6h1.48M156.9 141.6h1.48M164.3 141.6h1.48M167.2 141.6h1.48M177.5 141.6h1.48M90.4 143.9h2.95M96.3 143.9h1.48M99.3 143.9h1.48M102.2 143.9h4.43M108.1 143.9h1.48M111.1 143.9h5.91M122.9 143.9h1.48M128.8 143.9h1.48M131.8 143.9h1.48M136.2 143.9h2.95M143.6 143.9h1.48M158.4 143.9h2.95M165.7 143.9h1.48M212.6 57.4h1.48M193.3 64.2h1.48M225.9 66.5h1.48M193.3 73.3h1.48M220.0 80.2h1.48M199.3 87.0h1.48M234.8 91.5h1.48M203.7 96.1h1.48M181.5 102.9h1.48M181.5 116.6h1.48M190.4 116.6h1.48M191.9 121.1h1.48M203.7 121.1h1.48M212.6 137.0h1.48M212.6 139.3h1.48" stroke="rgb(11, 6, 121)" stroke-width="2.32" fill="none"/>
<path d="M181.5 146.1h1.48M187.4 146.1h1.48M190.4 146.1h1.48M196.3 146.1h1.48M199.3 146.1h4.44M205.2 146.1h1.48M208.1 146.1h1.48M211.1 146.1h1.48M222.9 146.1h1.48M225.9 146.1h1.48M234.8 146.1h1.48M237.7 146.1h2.96M185.9 148.4h1.48M196.3 148.4h7.40M214.1 148.4h2.96M220.0 148.4h1.48M224.4 148.4h2.96M230.3 148.4h1.48M233.3 148.4h1.48M181.5 150.7h1.48M185.9 150.7h5.92M196.3 150.7h1.48M208.1 150.7h1.48M212.6 150.7h4.44M221.5 150.7h2.96M225.9 150.7h1.48M228.9 150.7h2.96M234.8 150.7h1.48M239.2 150.7h1.48M185.9 152.9h1.48M193.3 152.9h1.48M199.3 152.9h4.44M208.1 152.9h2.96M217.0 152.9h1.48M221.5 152.9h2.96M230.3 152.9h1.48M234.8 152.9h2.96M183.0 155.2h1.48M185.9 155.2h2.96M197.8 155.2h1.48M202.2 155.2h1.48M209.6 155.2h2.96M215.5 155.2h1.48M218.5 155.2h1.48M222.9 155.2h1.48M228.9 155.2h1.48M231.8 155.2h1.48M236.3 155.2h1.48M190.4 157.5h1.48M193.3 157.5h1.48M197.8 157.5h1.48M202.2 157.5h1.48M209.6 157.5h1.48M215.5 157.5h2.96M221.5 157.5h4.44M227.4 157.5h2.96M197.8 159.7h2.96M208.1 159.7h1.48M215.5 159.7h1.48M222.9 159.7h1.48M228.9 159.7h2.96M236.3 159.7h2.96M187.4 162.0h2.96M196.3 162.0h2.96M200.7 162.0h1.48M203.7 162.0h1.48M208.1 162.0h2.96M215.5 162.0h4.44M228.9 162.0h1.48M236.3 162.0h1.48M181.5 164.2h1.48M184.5 164.2h1.48M187.4 164.2h4.44M193.3 164.2h1.48M197.8 164.2h1.48M200.7 164.2h2.96M206.7 164.2h1.48M211.1 164.2h2.96M222.9 164.2h1.48M227.4 164.2h1.48M230.3 164.2h1.48M236.3 164.2h1.48M187.4 166.5h1.48M199.3 166.5h1.48M209.6 166.5h1.48M212.6 166.5h1.48M215.5 166.5h1.48M218.5 166.5h1.48M221.5 166.5h2.96M225.9 166.5h1.48M231.8 166.5h1.48M236.3 166.5h1.48M181.5 168.8h1.48M185.9 168.8h1.48M190.4 168.8h4.44M196.3 168.8h1.48M199.3 168.8h1.48M202.2 168.8h2.96M206.7 168.8h1.48M209.6 168.8h2.96M215.5 168.8h2.96M220.0 168.8h1.48M230.3 168.8h1.48M234.8 168.8h1.48M187.4 171.0h1.48M193.3 171.0h1.48M196.3 171.0h2.96M206.7 171.0h1.48M218.5 171.0h1.48M222.9 171.0h5.92M233.3 171.0h1.48M236.3 171.0h1.48M188.9 173.3h1.48M193.3 173.3h1.48M196.3 173.3h1.48M199.3 173.3h1.48M202.2 173.3h1.48M208.1 173.3h1.48M215.5 173.3h4.44M228.9 173.3h2.96M234.8 173.3h2.96M185.9 175.6h4.44M196.3 175.6h1.48M199.3 175.6h1.48M202.2 175.6h1.48M211.1 175.6h1.48M214.1 175.6h2.96M218.5 175.6h1.48M221.5 175.6h2.96M225.9 175.6h1.48M230.3 175.6h1.48M233.3 175.6h1.48M236.3 175.6h1.48M239.2 175.6h1.48M181.5 177.8h1.48M185.9 177.8h1.48M188.9 177.8h2.96M196.3 177.8h2.96M208.1 177.8h1.48M215.5 177.8h2.96M221.5 177.8h1.48M224.4 177.8h1.48M228.9 177.8h1.48M237.7 177.8h1.48M185.9 180.1h2.96M190.4 180.1h1.48M193.3 180.1h1.48M197.8 180.1h2.96M215.5 180.1h1.48M218.5 180.1h1.48M222.9 180.1h2.96M227.4 180.1h1.48M230.3 180.1h1.48M233.3 180.1h4.44M239.2 180.1h1.48M185.9 182.4h1.48M200.7 182.4h1.48M203.7 182.4h1.48M212.6 182.4h1.48M217.0 182.4h1.48M222.9 182.4h2.96M227.4 182.4h1.48M230.3 182.4h1.48M239.2 182.4h1.48M183.0 184.6h1.48M188.9 184.6h2.96M193.3 184.6h1.48M196.3 184.6h2.96M202.2 184.6h1.48M208.1 184.6h2.96M212.6 184.6h4.44M218.5 184.6h1.48M225.9 184.6h1.48M234.8 184.6h5.92M185.9 186.9h1.48M193.3 186.9h1.48M196.3 186.9h1.48M200.7 186.9h2.96M208.1 186.9h1.48M214.1 186.9h5.92M222.9 186.9h1.48M227.4 186.9h2.96M233.3 186.9h1.48M236.3 186.9h1.48M239.2 186.9h1.48M188.9 189.2h1.48M196.3 189.2h2.96M208.1 189.2h1.48M217.0 189.2h2.96M224.4 189.2h1.48M227.4 189.2h1.48M236.3 189.2h1.48M190.4 191.4h1.48M202.2 191.4h1.48M205.2 191.4h1.48M208.1 191.4h1.48M224.4 191.4h2.96M236.3 191.4h1.48M239.2 191.4h1.48M181.5 193.7h1.48M202.2 193.7h1.48M206.7 193.7h2.96M211.1 193.7h2.96M215.5 193.7h2.96M224.4 193.7h2.96M239.2 193.7h1.48M193.3 195.9h1.48M202.2 195.9h1.48M211.1 195.9h1.48M218.5 195.9h1.48M225.9 195.9h1.48M230.3 195.9h1.48M236.3 195.9h1.48M181.5 198.2h1.48M185.9 198.2h5.92M197.8 198.2h1.48M202.2 198.2h5.92M209.6 198.2h1.48M215.5 198.2h1.48M218.5 198.2h1.48M222.9 198.2h1.48M227.4 198.2h1.48M234.8 198.2h1.48M239.2 198.2h1.48M187.4 200.5h4.44M193.3 200.5h1.48M196.3 200.5h2.96M202.2 200.5h2.96M208.1 200.5h2.96M217.0 200.5h1.48M222.9 200.5h1.48M225.9 200.5h1.48M234.8 200.5h2.96M239.2 200.5h1.48M185.9 202.7h2.96M193.3 202.7h1.48M197.8 202.7h1.48M208.1 202.7h1.48M211.1 202.7h1.48M218.5 202.7h1.48M221.5 202.7h1.48M225.9 202.7h4.44M234.8 202.7h1.48M239.2 202.7h1.48M187.4 205.0h1.48M193.3 205.0h1.48M197.8 205.0h1.48M203.7 205.0h1.48M208.1 205.0h1.48M217.0 205.0h1.48M220.0 205.0h1.48M222.9 205.0h1.48M225.9 205.0h1.48M231.8 205.0h1.48M236.3 205.0h1.48M187.4 207.3h2.96M199.3 207.3h1.48M211.1 207.3h1.48M215.5 207.3h1.48M220.0 207.3h1.48M224.4 207.3h1.48" stroke="rgb(11, 6, 121)" stroke-width="2.31" fill="none"/>
<path d="M97.8 55.1h1.48M162.8 55.1h1.48M156.9 57.4h1.48M179.0 57.4h1.48M87.5 59.7h1.48M156.9 59.7h1.48M159.8 59.7h1.48M179.0 59.7h1.48M114.1 62.0h1.48M161.3 62.0h1.48M165.7 62.0h1.48M174.6 62.0h1.48M161.3 64.2h2.95M170.2 64.2h1.48M140.6 66.5h1.48M170.2 66.5h1.48M159.8 68.8h2.95M170.2 68.8h1.48M173.1 68.8h1.48M87.5 71.1h1.48M156.9 71.1h1.48M159.8 71.1h1.48M164.3 71.1h1.48M173.1 71.1h1.48M177.5 71.1h2.95M155.4 73.3h1.48M159.8 73.3h1.48M165.7 73.3h1.48M86.0 75.6h1.48M114.1 75.6h1.48M155.4 75.6h1.48M165.7 75.6h1.48M176.1 75.6h1.48M89.0 77.9h1.48M156.9 77.9h1.48M162.8 77.9h1.48M128.8 80.2h1.48M162.8 80.2h4.43M86.0 82.4h1.48M87.5 84.7h1.48M100.8 87.0h1.48M159.8 87.0h1.48M177.5 87.0h1.48M96.3 89.3h1.48M156.9 91.5h1.48M164.3 91.5h2.95M103.7 93.8h1.48M159.8 93.8h2.95M170.2 93.8h1.48M176.1 93.8h2.95M156.9 98.4h1.48M168.7 98.4h2.95M173.1 98.4h1.48M176.1 98.4h1.48M152.4 100.6h1.48M159.8 100.6h1.48M170.2 100.6h1.48M179.0 100.6h1.48M148.0 105.2h1.48M93.4 109.7h1.48M165.7 109.7h1.48M155.4 112.0h1.48M170.2 112.0h1.48M156.9 114.3h1.48M168.7 114.3h1.48M173.1 114.3h1.48M176.1 114.3h1.48M176.1 116.6h1.48M156.9 121.1h1.48M164.3 121.1h1.48M162.8 123.4h1.48M177.5 123.4h1.48M87.5 130.2h1.48M161.3 132.5h1.48M159.8 137.0h1.48M151.0 141.6h1.48M183.0 55.1h1.48M193.3 55.1h1.48M225.9 55.1h1.48M228.9 55.1h1.48M184.5 57.4h1.48M187.4 57.4h1.48M193.3 57.4h1.48M202.2 57.4h1.48M205.2 57.4h1.48M236.3 57.4h1.48M196.3 59.7h1.48M205.2 59.7h2.96M233.3 59.7h1.48M187.4 62.0h2.96M199.3 62.0h1.48M212.6 62.0h2.96M225.9 62.0h1.48M228.9 62.0h2.96M194.8 64.2h1.48M209.6 64.2h2.96M230.3 64.2h1.48M218.5 66.5h1.48M185.9 68.8h1.48M194.8 68.8h1.48M233.3 68.8h1.48M239.2 68.8h1.48M184.5 71.1h1.48M188.9 71.1h1.48M202.2 71.1h1.48M209.6 71.1h1.48M214.1 71.1h1.48M225.9 71.1h1.48M231.8 71.1h1.48M184.5 73.3h2.96M194.8 73.3h1.48M199.3 73.3h1.48M203.7 73.3h2.96M212.6 73.3h1.48M231.8 73.3h1.48M237.7 73.3h2.96M193.3 75.6h1.48M211.1 75.6h1.48M220.0 75.6h1.48M227.4 75.6h1.48M181.5 77.9h1.48M196.3 77.9h1.48M206.7 77.9h1.48M225.9 77.9h1.48M193.3 80.2h1.48M214.1 80.2h1.48M224.4 80.2h1.48M227.4 80.2h1.48M233.3 80.2h1.48M184.5 82.4h1.48M188.9 82.4h1.48M194.8 82.4h1.48M197.8 82.4h1.48M200.7 82.4h1.48M211.1 82.4h1.48M224.4 82.4h1.48M227.4 82.4h1.48M190.4 84.7h1.48M200.7 84.7h1.48M203.7 84.7h1.48M215.5 84.7h1.48M187.4 87.0h1.48M196.3 87.0h1.48M203.7 87.0h1.48M225.9 87.0h1.48M231.8 87.0h2.96M188.9 89.3h1.48M202.2 89.3h1.48M222.9 89.3h1.48M237.7 89.3h1.48M184.5 91.5h1.48M191.9 91.5h1.48M196.3 91.5h1.48M214.1 91.5h2.96M184.5 93.8h1.48M197.8 93.8h1.48M200.7 93.8h1.48M205.2 93.8h1.48M208.1 93.8h1.48M214.1 93.8h1.48M224.4 93.8h1.48M237.7 93.8h1.48M190.4 96.1h2.96M194.8 96.1h1.48M200.7 96.1h1.48M205.2 96.1h1.48M233.3 96.1h2.96M239.2 96.1h1.48M188.9 98.4h1.48M194.8 98.4h1.48M217.0 98.4h1.48M181.5 100.6h1.48M188.9 100.6h1.48M193.3 100.6h1.48M202.2 100.6h1.48M218.5 100.6h1.48M236.3 100.6h1.48M194.8 102.9h1.48M211.1 102.9h1.48M225.9 102.9h1.48M230.3 102.9h1.48M233.3 102.9h1.48M181.5 105.2h1.48M196.3 105.2h2.96M221.5 105.2h1.48M227.4 105.2h2.96M231.8 105.2h1.48M188.9 107.5h1.48M194.8 107.5h1.48M217.0 107.5h1.48M228.9 107.5h1.48M181.5 109.7h1.48M197.8 109.7h1.48M215.5 109.7h1.48M222.9 109.7h1.48M225.9 109.7h1.48M197.8 112.0h1.48M200.7 112.0h1.48M203.7 112.0h1.48M208.1 112.0h1.48M190.4 114.3h1.48M194.8 114.3h1.48M197.8 114.3h1.48M212.6 114.3h1.48M217.0 114.3h1.48M224.4 114.3h1.48M188.9 116.6h1.48M202.2 116.6h1.48M215.5 116.6h1.48M228.9 116.6h2.96M239.2 116.6h1.48M187.4 118.8h2.96M191.9 118.8h1.48M203.7 118.8h1.48M183.0 121.1h1.48M187.4 121.1h1.48M199.3 121.1h1.48M202.2 121.1h1.48M220.0 121.1h1.48M228.9 121.1h2.96M237.7 121.1h1.48M197.8 123.4h1.48M200.7 123.4h1.48M212.6 123.4h1.48M230.3 123.4h2.96M236.3 123.4h2.96M187.4 125.7h1.48M236.3 125.7h2.96M203.7 127.9h1.48M209.6 127.9h1.48M217.0 127.9h1.48M221.5 127.9h1.48M227.4 127.9h2.96M236.3 127.9h1.48M183.0 130.2h1.48M187.4 130.2h1.48M215.5 130.2h1.48M228.9 130.2h1.48M233.3 130.2h1.48M237.7 130.2h1.48M200.7 132.5h1.48M205.2 132.5h1.48M215.5 132.5h1.48M220.0 132.5h1.48M234.8 132.5h1.48M185.9 134.8h1.48M183.0 137.0h1.48M187.4 137.0h1.48M200.7 137.0h1.48M205.2 137.0h1.48M208.1 137.0h2.96M214.1 137.0h1.48M227.4 137.0h2.96M185.9 139.3h1.48M188.9 139.3h1.48M203.7 139.3h1.48M214.1 139.3h1.48M227.4 139.3h1.48M197.8 141.6h2.96M233.3 141.6h1.48M200.7 143.9h1.48M218.5 143.9h1.48M231.8 143.9h2.96" stroke="rgb(27, 29, 4)" stroke-width="2.32" fill="none"/>
<path d="M100.8 146.1h1.48M122.9 146.1h1.48M127.3 146.1h1.48M146.5 146.1h2.95M155.4 146.1h1.48M168.7 146.1h1.48M177.5 146.1h1.48M90.4 148.4h1.48M97.8 148.4h2.95M105.2 148.4h1.48M112.6 148.4h1.48M117.0 148.4h1.48M130.3 148.4h1.48M139.2 148.4h1.48M151.0 148.4h1.48M155.4 148.4h1.48M162.8 148.4h1.48M167.2 148.4h1.48M89.0 150.7h1.48M97.8 150.7h1.48M103.7 150.7h1.48M109.6 150.7h1.48M125.9 150.7h1.48M165.7 150.7h1.48M174.6 150.7h1.48M177.5 150.7h1.48M102.2 152.9h1.48M108.1 152.9h1.48M112.6 152.9h1.48M122.9 152.9h1.48M133.2 152.9h2.95M140.6 152.9h1.48M159.8 152.9h4.43M167.2 152.9h1.48M177.5 152.9h1.48M97.8 155.2h1.48M105.2 155.2h1.48M112.6 155.2h1.48M124.4 155.2h1.48M133.2 155.2h1.48M136.2 155.2h1.48M142.1 155.2h2.95M148.0 155.2h1.48M168.7 155.2h1.48M177.5 155.2h1.48M97.8 157.5h1.48M111.1 157.5h1.48M117.0 157.5h1.48M130.3 157.5h1.48M145.1 157.5h1.48M153.9 157.5h1.48M162.8 157.5h2.95M168.7 157.5h1.48M103.7 159.7h1.48M108.1 159.7h1.48M111.1 159.7h1.48M122.9 159.7h1.48M130.3 159.7h1.48M134.7 159.7h1.48M146.5 159.7h1.48M151.0 159.7h2.95M155.4 159.7h1.48M170.2 159.7h1.48M179.0 159.7h1.48M87.5 162.0h1.48M93.4 162.0h1.48M96.3 162.0h1.48M100.8 162.0h1.48M103.7 162.0h1.48M120.0 162.0h1.48M125.9 162.0h1.48M131.8 162.0h1.48M139.2 162.0h1.48M156.9 162.0h2.95M170.2 162.0h1.48M177.5 162.0h2.95M89.0 164.2h1.48M100.8 164.2h2.95M115.5 164.2h1.48M121.4 164.2h1.48M125.9 164.2h2.95M156.9 164.2h1.48M177.5 164.2h2.95M100.8 166.5h1.48M108.1 166.5h1.48M133.2 166.5h1.48M136.2 166.5h1.48M143.6 166.5h1.48M146.5 166.5h1.48M161.3 166.5h1.48M170.2 166.5h1.48M103.7 168.8h1.48M111.1 168.8h1.48M134.7 168.8h1.48M164.3 168.8h2.95M168.7 168.8h1.48M177.5 168.8h2.95M97.8 171.0h1.48M112.6 171.0h1.48M133.2 171.0h1.48M139.2 171.0h2.95M143.6 171.0h1.48M161.3 171.0h1.48M164.3 171.0h1.48M168.7 171.0h1.48M171.6 171.0h1.48M97.8 173.3h1.48M108.1 173.3h1.48M121.4 173.3h1.48M124.4 173.3h2.95M143.6 173.3h1.48M162.8 173.3h1.48M165.7 173.3h1.48M168.7 173.3h2.95M97.8 175.6h1.48M108.1 175.6h1.48M115.5 175.6h1.48M133.2 175.6h1.48M139.2 175.6h1.48M152.4 175.6h1.48M155.4 175.6h1.48M171.6 175.6h1.48M174.6 175.6h1.48M94.9 177.8h1.48M97.8 177.8h1.48M105.2 177.8h5.91M112.6 177.8h1.48M124.4 177.8h2.95M142.1 177.8h1.48M89.0 180.1h1.48M109.6 180.1h2.95M121.4 180.1h2.95M125.9 180.1h1.48M130.3 180.1h1.48M139.2 180.1h1.48M146.5 180.1h1.48M176.1 180.1h1.48M86.0 182.4h1.48M89.0 182.4h1.48M100.8 182.4h1.48M108.1 182.4h1.48M121.4 182.4h1.48M148.0 182.4h1.48M155.4 182.4h1.48M162.8 182.4h1.48M170.2 182.4h1.48M176.1 182.4h1.48M179.0 182.4h1.48M97.8 184.6h1.48M111.1 184.6h1.48M118.5 184.6h2.95M125.9 184.6h1.48M143.6 184.6h1.48M164.3 184.6h2.95M171.6 184.6h1.48M177.5 184.6h1.48M102.2 186.9h1.48M105.2 186.9h1.48M109.6 186.9h1.48M112.6 186.9h1.48M134.7 186.9h1.48M143.6 186.9h1.48M165.7 186.9h1.48M94.9 189.2h1.48M103.7 189.2h2.95M109.6 189.2h1.48M122.9 189.2h1.48M164.3 189.2h1.48M168.7 189.2h2.95M89.0 191.4h1.48M108.1 191.4h1.48M128.8 191.4h2.95M143.6 191.4h1.48M146.5 191.4h1.48M156.9 191.4h1.48M165.7 191.4h2.95M89.0 193.7h1.48M103.7 193.7h1.48M108.1 193.7h1.48M115.5 193.7h1.48M120.0 193.7h1.48M145.1 193.7h1.48M151.0 193.7h1.48M156.9 193.7h1.48M171.6 193.7h1.48M89.0 195.9h1.48M94.9 195.9h2.95M105.2 195.9h1.48M109.6 195.9h2.95M115.5 195.9h1.48M120.0 195.9h1.48M128.8 195.9h2.95M133.2 195.9h1.48M146.5 195.9h1.48M151.0 195.9h1.48M164.3 195.9h1.48M167.2 195.9h1.48M87.5 198.2h1.48M106.7 198.2h1.48M109.6 198.2h1.48M130.3 198.2h2.95M148.0 198.2h1.48M168.7 198.2h1.48M171.6 198.2h1.48M89.0 200.5h1.48M103.7 200.5h1.48M114.1 200.5h2.95M118.5 200.5h1.48M124.4 200.5h1.48M130.3 200.5h1.48M134.7 200.5h1.48M139.2 200.5h1.48M165.7 200.5h1.48M176.1 200.5h1.48M112.6 202.7h1.48M115.5 202.7h2.95M125.9 202.7h1.48M136.2 202.7h1.48M139.2 202.7h1.48M152.4 202.7h1.48M171.6 202.7h1.48M174.6 202.7h1.48M179.0 202.7h1.48M100.8 205.0h1.48M122.9 205.0h1.48M134.7 205.0h1.48M164.3 205.0h1.48M177.5 205.0h1.48M86.0 207.3h2.95M96.3 207.3h1.48M105.2 207.3h1.48M112.6 207.3h1.48M120.0 207.3h1.48M139.2 207.3h1.48M146.5 207.3h1.48M152.4 207.3h1.48M156.9 207.3h1.48M161.3 207.3h1.48M167.2 207.3h1.48M170.2 207.3h1.48M173.1 207.3h1.48M193.3 146.1h1.48M206.7 146.1h1.48M203.7 150.7h1.48M184.5 155.2h1.48M191.9 155.2h1.48M194.8 155.2h1.48M191.9 157.5h1.48M191.9 159.7h1.48M209.6 159.7h1.48M183.0 162.0h2.96M191.9 162.0h1.48M203.7 173.3h1.48M206.7 173.3h1.48M183.0 175.6h1.48M183.0 177.8h2.96M191.9 177.8h1.48M205.2 180.1h1.48M184.5 182.4h1.48M202.2 182.4h1.48M184.5 184.6h1.48M191.9 184.6h1.48M206.7 189.2h1.48M184.5 193.7h1.48M188.9 202.7h1.48M194.8 202.7h1.48" stroke="rgb(27, 29, 4)" stroke-width="2.31" fill="none"/>
<path d="M102.2 55.1h1.48M121.4 55.1h1.48M124.4 55.1h2.95M99.3 57.4h1.48M117.0 57.4h1.48M120.0 57.4h1.48M124.4 57.4h1.48M134.7 57.4h1.48M167.2 57.4h1.48M99.3 59.7h1.48M103.7 62.0h1.48M115.5 62.0h2.95M130.3 62.0h1.48M133.2 62.0h1.48M125.9 64.2h2.95M131.8 64.2h1.48M90.4 66.5h1.48M99.3 66.5h1.48M102.2 66.5h1.48M114.1 66.5h1.48M121.4 66.5h2.95M125.9 66.5h2.95M136.2 66.5h1.48M146.5 66.5h1.48M127.3 68.8h1.48M133.2 68.8h1.48M105.2 71.1h2.95M120.0 71.1h4.43M125.9 71.1h1.48M137.7 71.1h1.48M143.6 71.1h2.95M106.7 73.3h1.48M117.0 73.3h1.48M121.4 73.3h1.48M127.3 73.3h1.48M131.8 73.3h2.95M143.6 73.3h1.48M99.3 75.6h1.48M121.4 75.6h1.48M105.2 77.9h1.48M117.0 77.9h1.48M121.4 77.9h1.48M134.7 77.9h1.48M143.6 77.9h1.48M102.2 80.2h1.48M97.8 82.4h2.95M105.2 82.4h1.48M117.0 82.4h1.48M122.9 82.4h1.48M133.2 82.4h1.48M136.2 82.4h1.48M143.6 82.4h1.48M149.5 82.4h1.48M99.3 84.7h1.48M121.4 84.7h1.48M127.3 84.7h1.48M133.2 84.7h1.48M105.2 87.0h2.95M109.6 87.0h1.48M120.0 87.0h2.95M117.0 89.3h1.48M127.3 89.3h1.48M86.0 91.5h1.48M120.0 91.5h2.95M127.3 91.5h1.48M133.2 91.5h1.48M137.7 91.5h1.48M99.3 93.8h1.48M111.1 93.8h1.48M115.5 93.8h1.48M125.9 93.8h1.48M99.3 96.1h1.48M103.7 96.1h2.95M117.0 96.1h1.48M120.0 96.1h1.48M124.4 96.1h1.48M127.3 96.1h1.48M133.2 96.1h1.48M142.1 96.1h1.48M151.0 96.1h1.48M167.2 96.1h1.48M96.3 98.4h1.48M108.1 98.4h1.48M111.1 98.4h1.48M136.2 98.4h1.48M120.0 100.6h1.48M127.3 100.6h1.48M133.2 100.6h1.48M106.7 102.9h1.48M114.1 102.9h1.48M117.0 102.9h1.48M120.0 102.9h1.48M122.9 102.9h1.48M128.8 102.9h1.48M131.8 102.9h1.48M99.3 105.2h1.48M117.0 105.2h1.48M122.9 105.2h1.48M127.3 105.2h1.48M167.2 105.2h1.48M93.4 107.5h1.48M96.3 107.5h1.48M102.2 107.5h1.48M106.7 107.5h1.48M112.6 107.5h1.48M115.5 107.5h2.95M121.4 107.5h2.95M128.8 107.5h1.48M131.8 107.5h2.95M153.9 107.5h1.48M99.3 109.7h1.48M120.0 109.7h1.48M127.3 109.7h2.95M133.2 109.7h1.48M99.3 112.0h1.48M117.0 112.0h1.48M121.4 112.0h1.48M128.8 112.0h1.48M133.2 112.0h1.48M94.9 114.3h1.48M99.3 114.3h1.48M121.4 114.3h1.48M125.9 114.3h1.48M137.7 114.3h1.48M149.5 114.3h1.48M94.9 116.6h1.48M103.7 116.6h2.95M108.1 116.6h1.48M112.6 116.6h1.48M117.0 116.6h1.48M121.4 116.6h1.48M125.9 116.6h1.48M131.8 116.6h1.48M171.6 116.6h1.48M99.3 118.8h1.48M105.2 118.8h2.95M115.5 118.8h2.95M120.0 118.8h1.48M122.9 118.8h1.48M125.9 118.8h1.48M133.2 118.8h2.95M139.2 118.8h1.48M102.2 121.1h1.48M106.7 121.1h1.48M121.4 121.1h1.48M133.2 121.1h1.48M115.5 123.4h1.48M127.3 123.4h1.48M112.6 125.7h1.48M120.0 125.7h1.48M125.9 125.7h1.48M99.3 127.9h1.48M121.4 127.9h1.48M128.8 127.9h1.48M131.8 127.9h1.48M137.7 127.9h1.48M155.4 127.9h1.48M93.4 130.2h4.43M115.5 130.2h1.48M121.4 130.2h1.48M94.9 132.5h1.48M103.7 132.5h2.95M115.5 132.5h1.48M120.0 132.5h2.95M124.4 132.5h2.95M131.8 132.5h2.95M137.7 132.5h1.48M149.5 132.5h1.48M99.3 134.8h1.48M106.7 134.8h1.48M115.5 134.8h2.95M120.0 134.8h2.95M103.7 137.0h4.43M121.4 137.0h2.95M127.3 137.0h2.95M133.2 137.0h1.48M145.1 137.0h1.48M97.8 139.3h1.48M105.2 139.3h1.48M108.1 139.3h1.48M111.1 139.3h1.48M121.4 139.3h1.48M97.8 141.6h1.48M117.0 141.6h1.48M124.4 141.6h1.48M153.9 141.6h1.48M100.8 143.9h1.48M106.7 143.9h1.48M117.0 143.9h5.91M125.9 143.9h1.48M133.2 143.9h1.48M142.1 143.9h1.48M167.2 143.9h1.48M170.2 143.9h1.48M174.6 143.9h1.48" stroke="rgb(16, 9, 173)" stroke-width="2.32" fill="none"/>
<path d="M221.5 146.1h1.48M227.4 146.1h1.48M236.3 146.1h1.48M218.5 148.4h1.48M221.5 148.4h1.48M237.7 148.4h1.48M193.3 150.7h1.48M200.7 150.7h1.48M217.0 150.7h1.48M224.4 150.7h1.48M227.4 150.7h1.48M233.3 150.7h1.48M236.3 150.7h2.96M187.4 152.9h1.48M196.3 152.9h1.48M214.1 152.9h1.48M218.5 152.9h1.48M224.4 152.9h1.48M228.9 152.9h1.48M239.2 152.9h1.48M190.4 155.2h1.48M200.7 155.2h1.48M221.5 155.2h1.48M225.9 155.2h2.96M233.3 155.2h1.48M237.7 155.2h2.96M185.9 157.5h2.96M196.3 157.5h1.48M218.5 157.5h1.48M230.3 157.5h1.48M237.7 157.5h1.48M214.1 159.7h1.48M218.5 159.7h1.48M225.9 159.7h2.96M233.3 159.7h1.48M181.5 162.0h1.48M193.3 162.0h1.48M214.1 162.0h1.48M221.5 162.0h1.48M224.4 162.0h1.48M231.8 162.0h2.96M239.2 162.0h1.48M185.9 164.2h1.48M196.3 164.2h1.48M203.7 164.2h1.48M208.1 164.2h1.48M215.5 164.2h2.96M221.5 164.2h1.48M224.4 164.2h2.96M181.5 166.5h1.48M190.4 166.5h1.48M196.3 166.5h1.48M214.1 166.5h1.48M224.4 166.5h1.48M227.4 166.5h1.48M233.3 166.5h1.48M237.7 166.5h2.96M222.9 168.8h1.48M181.5 171.0h1.48M208.1 171.0h1.48M214.1 171.0h1.48M217.0 171.0h1.48M221.5 171.0h1.48M231.8 171.0h1.48M187.4 173.3h1.48M197.8 173.3h1.48M221.5 173.3h4.44M227.4 173.3h1.48M237.7 173.3h1.48M190.4 175.6h1.48M197.8 175.6h1.48M231.8 175.6h1.48M214.1 177.8h1.48M227.4 177.8h1.48M234.8 177.8h1.48M239.2 177.8h1.48M211.1 180.1h1.48M214.1 180.1h1.48M217.0 180.1h1.48M221.5 180.1h1.48M190.4 182.4h1.48M214.1 182.4h1.48M218.5 182.4h1.48M221.5 182.4h1.48M225.9 182.4h1.48M231.8 182.4h1.48M187.4 184.6h1.48M211.1 184.6h1.48M217.0 184.6h1.48M222.9 184.6h1.48M237.7 186.9h1.48M185.9 189.2h2.96M190.4 189.2h1.48M221.5 189.2h1.48M230.3 189.2h4.44M237.7 189.2h1.48M181.5 191.4h1.48M185.9 191.4h1.48M188.9 191.4h1.48M193.3 191.4h1.48M209.6 191.4h2.96M215.5 191.4h1.48M218.5 191.4h1.48M222.9 191.4h1.48M221.5 193.7h1.48M236.3 193.7h2.96M181.5 195.9h1.48M187.4 195.9h1.48M199.3 195.9h1.48M208.1 195.9h1.48M215.5 195.9h1.48M221.5 195.9h1.48M228.9 195.9h1.48M239.2 195.9h1.48M196.3 198.2h1.48M199.3 198.2h1.48M208.1 198.2h1.48M211.1 198.2h1.48M214.1 198.2h1.48M217.0 198.2h1.48M220.0 198.2h2.96M225.9 198.2h1.48M230.3 198.2h1.48M236.3 198.2h1.48M181.5 200.5h1.48M200.7 200.5h1.48M211.1 200.5h1.48M214.1 200.5h2.96M218.5 200.5h4.44M224.4 200.5h1.48M227.4 200.5h1.48M237.7 200.5h1.48M214.1 202.7h1.48M217.0 202.7h1.48M222.9 202.7h1.48M231.8 202.7h1.48M181.5 205.0h1.48M185.9 205.0h1.48M190.4 205.0h1.48M196.3 205.0h1.48M215.5 205.0h1.48M218.5 205.0h1.48M227.4 205.0h1.48M234.8 205.0h1.48M239.2 205.0h1.48M185.9 207.3h1.48M196.3 207.3h2.96M200.7 207.3h4.44M208.1 207.3h1.48M214.1 207.3h1.48M217.0 207.3h2.96M221.5 207.3h2.96M225.9 207.3h1.48M233.3 207.3h2.96M237.7 207.3h2.96" stroke="rgb(16, 9, 173)" stroke-width="2.31" fill="none"/>
<path d="M161.3 55.1h1.48M165.7 55.1h1.48M165.7 59.7h1.48M96.3 62.0h1.48M176.1 62.0h1.48M159.8 64.2h1.48M148.0 71.1h1.48M165.7 71.1h1.48M168.7 71.1h1.48M164.3 75.6h1.48M145.1 77.9h1.48M168.7 77.9h2.95M177.5 84.7h1.48M148.0 93.8h1.48M179.0 93.8h1.48M148.0 98.4h1.48M156.9 100.6h1.48M162.8 100.6h1.48M87.5 114.3h1.48M161.3 114.3h1.48M162.8 116.6h1.48M86.0 121.1h1.48M148.0 123.4h1.48M156.9 134.8h1.48M159.8 139.3h1.48M87.5 141.6h1.48M148.0 143.9h1.48M203.7 55.1h1.48M209.6 55.1h1.48M217.0 55.1h1.48M220.0 55.1h1.48M234.8 55.1h1.48M237.7 55.1h2.96M188.9 57.4h2.96M200.7 57.4h1.48M208.1 57.4h1.48M214.1 57.4h2.96M230.3 57.4h1.48M239.2 57.4h1.48M187.4 59.7h1.48M190.4 59.7h2.96M194.8 59.7h1.48M197.8 59.7h1.48M200.7 59.7h1.48M218.5 59.7h2.96M222.9 59.7h1.48M227.4 59.7h1.48M231.8 59.7h1.48M181.5 62.0h1.48M200.7 62.0h2.96M215.5 62.0h2.96M220.0 62.0h1.48M236.3 62.0h1.48M185.9 64.2h1.48M191.9 64.2h1.48M200.7 64.2h1.48M215.5 64.2h1.48M220.0 64.2h1.48M225.9 64.2h1.48M231.8 64.2h1.48M190.4 66.5h1.48M193.3 66.5h1.48M197.8 66.5h2.96M202.2 66.5h1.48M205.2 66.5h1.48M215.5 66.5h1.48M221.5 66.5h1.48M224.4 66.5h1.48M230.3 66.5h2.96M234.8 66.5h1.48M197.8 68.8h2.96M206.7 68.8h1.48M222.9 68.8h1.48M231.8 68.8h1.48M185.9 71.1h1.48M191.9 71.1h1.48M221.5 71.1h1.48M237.7 71.1h1.48M187.4 73.3h1.48M202.2 73.3h1.48M211.1 73.3h1.48M217.0 73.3h2.96M184.5 75.6h2.96M190.4 75.6h2.96M202.2 75.6h1.48M215.5 75.6h2.96M230.3 75.6h1.48M233.3 75.6h1.48M237.7 75.6h1.48M208.1 77.9h1.48M212.6 77.9h1.48M220.0 77.9h4.44M234.8 77.9h2.96M197.8 80.2h1.48M202.2 80.2h1.48M215.5 80.2h1.48M221.5 80.2h1.48M234.8 80.2h2.96M187.4 82.4h1.48M199.3 82.4h1.48M209.6 82.4h1.48M214.1 82.4h1.48M220.0 82.4h2.96M225.9 82.4h1.48M233.3 82.4h1.48M184.5 84.7h2.96M209.6 84.7h1.48M212.6 84.7h1.48M217.0 84.7h2.96M227.4 84.7h2.96M239.2 84.7h1.48M183.0 87.0h1.48M218.5 87.0h1.48M190.4 89.3h2.96M194.8 89.3h1.48M200.7 89.3h1.48M203.7 89.3h1.48M208.1 89.3h2.96M230.3 89.3h2.96M181.5 91.5h1.48M185.9 91.5h1.48M190.4 91.5h1.48M202.2 91.5h1.48M205.2 91.5h1.48M209.6 91.5h2.96M239.2 91.5h1.48M188.9 93.8h1.48M212.6 93.8h1.48M215.5 93.8h2.96M222.9 93.8h1.48M225.9 93.8h1.48M184.5 96.1h2.96M188.9 96.1h1.48M208.1 96.1h1.48M221.5 96.1h1.48M228.9 96.1h1.48M231.8 96.1h1.48M181.5 98.4h1.48M196.3 98.4h1.48M200.7 98.4h1.48M221.5 98.4h4.44M230.3 98.4h1.48M184.5 100.6h1.48M191.9 100.6h1.48M211.1 100.6h1.48M224.4 100.6h1.48M228.9 100.6h2.96M184.5 102.9h1.48M188.9 102.9h1.48M191.9 102.9h1.48M197.8 102.9h1.48M202.2 102.9h1.48M214.1 102.9h2.96M222.9 102.9h1.48M227.4 102.9h1.48M184.5 105.2h1.48M187.4 105.2h1.48M206.7 105.2h2.96M215.5 105.2h1.48M220.0 105.2h1.48M222.9 105.2h1.48M233.3 105.2h1.48M183.0 107.5h1.48M196.3 107.5h1.48M199.3 107.5h1.48M202.2 107.5h1.48M234.8 107.5h2.96M187.4 109.7h2.96M193.3 109.7h1.48M217.0 109.7h1.48M220.0 109.7h2.96M224.4 109.7h1.48M188.9 112.0h1.48M194.8 112.0h1.48M199.3 112.0h1.48M202.2 112.0h1.48M205.2 112.0h1.48M211.1 112.0h1.48M215.5 112.0h2.96M227.4 112.0h1.48M234.8 112.0h1.48M185.9 114.3h1.48M188.9 114.3h1.48M191.9 114.3h1.48M200.7 114.3h2.96M220.0 114.3h1.48M227.4 114.3h2.96M233.3 114.3h1.48M187.4 116.6h1.48M197.8 116.6h4.44M203.7 116.6h1.48M206.7 116.6h1.48M217.0 116.6h1.48M222.9 116.6h1.48M234.8 116.6h2.96M200.7 118.8h1.48M215.5 118.8h1.48M220.0 118.8h1.48M227.4 118.8h1.48M230.3 118.8h1.48M237.7 118.8h1.48M188.9 121.1h1.48M206.7 121.1h2.96M217.0 121.1h1.48M233.3 121.1h2.96M181.5 123.4h1.48M187.4 123.4h2.96M194.8 123.4h1.48M203.7 123.4h1.48M211.1 123.4h1.48M215.5 123.4h1.48M197.8 125.7h1.48M202.2 125.7h1.48M206.7 125.7h8.88M220.0 125.7h1.48M231.8 125.7h1.48M234.8 125.7h1.48M185.9 127.9h1.48M188.9 127.9h1.48M196.3 127.9h1.48M222.9 127.9h1.48M231.8 127.9h1.48M237.7 127.9h1.48M214.1 130.2h1.48M218.5 130.2h1.48M221.5 130.2h1.48M234.8 130.2h1.48M183.0 132.5h4.44M197.8 132.5h1.48M208.1 132.5h1.48M211.1 132.5h1.48M218.5 132.5h1.48M224.4 132.5h1.48M231.8 132.5h1.48M181.5 134.8h2.96M200.7 134.8h1.48M205.2 134.8h2.96M220.0 134.8h2.96M227.4 134.8h2.96M233.3 134.8h1.48M190.4 137.0h1.48M196.3 137.0h1.48M203.7 137.0h1.48M206.7 137.0h1.48M215.5 137.0h1.48M218.5 137.0h1.48M225.9 137.0h1.48M237.7 137.0h1.48M191.9 139.3h1.48M206.7 139.3h4.44M222.9 139.3h1.48M225.9 139.3h1.48M231.8 139.3h1.48M184.5 141.6h1.48M194.8 141.6h1.48M203.7 141.6h1.48M220.0 141.6h4.44M228.9 141.6h4.44M181.5 143.9h1.48M184.5 143.9h1.48M190.4 143.9h2.96M199.3 143.9h1.48M202.2 143.9h1.48M211.1 143.9h1.48M215.5 143.9h2.96M221.5 143.9h1.48M228.9 143.9h2.96M236.3 143.9h1.48" stroke="rgb(61, 67, 10)" stroke-width="2.32" fill="none"/>
<path d="M86.0 146.1h1.48M94.9 146.1h2.95M115.5 146.1h1.48M130.3 146.1h1.48M136.2 146.1h1.48M143.6 146.1h1.48M152.4 146.1h1.48M161.3 146.1h1.48M170.2 146.1h1.48M174.6 146.1h2.95M179.0 146.1h1.48M86.0 148.4h1.48M102.2 148.4h2.95M120.0 148.4h1.48M136.2 148.4h1.48M143.6 148.4h1.48M148.0 148.4h1.48M152.4 148.4h1.48M164.3 148.4h1.48M168.7 148.4h1.48M173.1 148.4h2.95M179.0 148.4h1.48M87.5 150.7h1.48M93.4 150.7h1.48M112.6 150.7h1.48M115.5 150.7h2.95M151.0 150.7h2.95M162.8 150.7h2.95M168.7 150.7h1.48M179.0 150.7h1.48M90.4 152.9h1.48M96.3 152.9h1.48M100.8 152.9h1.48M106.7 152.9h1.48M121.4 152.9h1.48M173.1 152.9h2.95M179.0 152.9h1.48M86.0 155.2h1.48M115.5 155.2h1.48M121.4 155.2h2.95M131.8 155.2h1.48M137.7 155.2h2.95M146.5 155.2h1.48M152.4 155.2h1.48M158.4 155.2h1.48M162.8 155.2h1.48M176.1 155.2h1.48M89.0 157.5h1.48M103.7 157.5h1.48M109.6 157.5h1.48M120.0 157.5h1.48M122.9 157.5h1.48M127.3 157.5h1.48M131.8 157.5h1.48M140.6 157.5h1.48M143.6 157.5h1.48M152.4 157.5h1.48M156.9 157.5h2.95M177.5 157.5h2.95M86.0 159.7h4.43M99.3 159.7h1.48M105.2 159.7h1.48M112.6 159.7h2.95M125.9 159.7h1.48M133.2 159.7h1.48M136.2 159.7h1.48M140.6 159.7h1.48M143.6 159.7h1.48M153.9 159.7h1.48M161.3 159.7h1.48M167.2 159.7h1.48M176.1 159.7h2.95M90.4 162.0h1.48M102.2 162.0h1.48M106.7 162.0h4.43M118.5 162.0h1.48M122.9 162.0h1.48M130.3 162.0h1.48M136.2 162.0h1.48M140.6 162.0h1.48M146.5 162.0h2.95M151.0 162.0h4.43M161.3 162.0h1.48M167.2 162.0h2.95M176.1 162.0h1.48M86.0 164.2h2.95M112.6 164.2h1.48M120.0 164.2h1.48M133.2 164.2h4.43M139.2 164.2h1.48M153.9 164.2h1.48M161.3 164.2h1.48M168.7 164.2h1.48M173.1 164.2h1.48M87.5 166.5h1.48M106.7 166.5h1.48M115.5 166.5h2.95M139.2 166.5h1.48M145.1 166.5h1.48M158.4 166.5h1.48M164.3 166.5h1.48M168.7 166.5h1.48M177.5 166.5h2.95M87.5 168.8h1.48M94.9 168.8h1.48M97.8 168.8h1.48M105.2 168.8h1.48M117.0 168.8h1.48M120.0 168.8h1.48M125.9 168.8h1.48M133.2 168.8h1.48M143.6 168.8h1.48M146.5 168.8h2.95M152.4 168.8h1.48M155.4 168.8h4.43M167.2 168.8h1.48M173.1 168.8h2.95M87.5 171.0h1.48M99.3 171.0h1.48M103.7 171.0h1.48M106.7 171.0h2.95M114.1 171.0h1.48M117.0 171.0h1.48M124.4 171.0h2.95M131.8 171.0h1.48M151.0 171.0h1.48M156.9 171.0h2.95M170.2 171.0h1.48M87.5 173.3h2.95M99.3 173.3h1.48M103.7 173.3h4.43M115.5 173.3h1.48M120.0 173.3h1.48M127.3 173.3h1.48M134.7 173.3h1.48M140.6 173.3h1.48M153.9 173.3h1.48M158.4 173.3h1.48M161.3 173.3h1.48M167.2 173.3h1.48M171.6 173.3h1.48M176.1 173.3h1.48M94.9 175.6h1.48M100.8 175.6h2.95M117.0 175.6h1.48M121.4 175.6h1.48M127.3 175.6h1.48M130.3 175.6h2.95M136.2 175.6h1.48M156.9 175.6h1.48M162.8 175.6h1.48M165.7 175.6h1.48M176.1 175.6h2.95M89.0 177.8h1.48M96.3 177.8h1.48M100.8 177.8h2.95M122.9 177.8h1.48M136.2 177.8h1.48M151.0 177.8h1.48M156.9 177.8h2.95M94.9 180.1h1.48M100.8 180.1h1.48M103.7 180.1h2.95M108.1 180.1h1.48M115.5 180.1h2.95M127.3 180.1h2.95M148.0 180.1h1.48M151.0 180.1h1.48M153.9 180.1h1.48M156.9 180.1h1.48M161.3 180.1h1.48M177.5 180.1h1.48M87.5 182.4h1.48M93.4 182.4h4.43M99.3 182.4h1.48M106.7 182.4h1.48M109.6 182.4h1.48M124.4 182.4h1.48M130.3 182.4h1.48M133.2 182.4h1.48M143.6 182.4h1.48M146.5 182.4h1.48M152.4 182.4h1.48M156.9 182.4h1.48M164.3 182.4h1.48M168.7 182.4h1.48M174.6 182.4h1.48M91.9 184.6h2.95M100.8 184.6h1.48M103.7 184.6h2.95M127.3 184.6h1.48M130.3 184.6h1.48M133.2 184.6h1.48M140.6 184.6h1.48M146.5 184.6h1.48M151.0 184.6h1.48M153.9 184.6h1.48M179.0 184.6h1.48M87.5 186.9h1.48M94.9 186.9h1.48M106.7 186.9h2.95M115.5 186.9h2.95M120.0 186.9h1.48M130.3 186.9h1.48M133.2 186.9h1.48M136.2 186.9h1.48M148.0 186.9h1.48M151.0 186.9h2.95M155.4 186.9h1.48M167.2 186.9h1.48M173.1 186.9h1.48M90.4 189.2h1.48M102.2 189.2h1.48M106.7 189.2h1.48M112.6 189.2h1.48M115.5 189.2h2.95M124.4 189.2h4.43M162.8 189.2h1.48M171.6 189.2h1.48M176.1 189.2h2.95M93.4 191.4h2.95M99.3 191.4h1.48M103.7 191.4h1.48M106.7 191.4h1.48M109.6 191.4h4.43M117.0 191.4h1.48M121.4 191.4h1.48M133.2 191.4h4.43M145.1 191.4h1.48M148.0 191.4h1.48M155.4 191.4h1.48M170.2 191.4h1.48M86.0 193.7h2.95M97.8 193.7h1.48M100.8 193.7h2.95M111.1 193.7h1.48M125.9 193.7h5.91M134.7 193.7h1.48M143.6 193.7h1.48M155.4 193.7h1.48M161.3 193.7h1.48M167.2 193.7h1.48M176.1 193.7h1.48M179.0 193.7h1.48M86.0 195.9h2.95M99.3 195.9h1.48M102.2 195.9h1.48M112.6 195.9h1.48M137.7 195.9h1.48M143.6 195.9h1.48M152.4 195.9h1.48M155.4 195.9h1.48M179.0 195.9h1.48M89.0 198.2h1.48M94.9 198.2h1.48M99.3 198.2h5.91M117.0 198.2h1.48M122.9 198.2h1.48M133.2 198.2h1.48M153.9 198.2h5.91M161.3 198.2h1.48M164.3 198.2h1.48M167.2 198.2h1.48M177.5 198.2h1.48M86.0 200.5h2.95M90.4 200.5h1.48M97.8 200.5h1.48M117.0 200.5h1.48M120.0 200.5h1.48M125.9 200.5h1.48M146.5 200.5h2.95M86.0 202.7h1.48M93.4 202.7h4.43M102.2 202.7h1.48M111.1 202.7h1.48M114.1 202.7h1.48M120.0 202.7h1.48M134.7 202.7h1.48M146.5 202.7h1.48M151.0 202.7h1.48M153.9 202.7h1.48M161.3 202.7h1.48M167.2 202.7h4.43M176.1 202.7h1.48M96.3 205.0h1.48M105.2 205.0h1.48M109.6 205.0h4.43M115.5 205.0h1.48M128.8 205.0h2.95M153.9 205.0h2.95M162.8 205.0h1.48M167.2 205.0h1.48M171.6 205.0h1.48M179.0 205.0h1.48M99.3 207.3h1.48M108.1 207.3h1.48M111.1 207.3h1.48M115.5 207.3h1.48M125.9 207.3h4.43M131.8 207.3h1.48M136.2 207.3h1.48M140.6 207.3h1.48M143.6 207.3h1.48M168.7 207.3h1.48M171.6 207.3h1.48M177.5 207.3h2.95M194.8 175.6h1.48M194.8 191.4h1.48M184.5 202.7h1.48" stroke="rgb(61, 67, 10)" stroke-width="2.31" fill="none"/>
<path d="M164.3 55.1h1.48M106.7 57.4h1.48M176.1 57.4h1.48M122.9 59.7h1.48M142.1 59.7h1.48M94.9 62.0h1.48M151.0 64.2h1.48M97.8 66.5h1.48M103.7 66.5h1.48M164.3 68.8h1.48M94.9 71.1h1.48M99.3 71.1h1.48M102.2 73.3h1.48M108.1 73.3h1.48M149.5 75.6h1.48M99.3 80.2h1.48M109.6 80.2h1.48M114.1 80.2h1.48M156.9 80.2h1.48M103.7 82.4h1.48M136.2 84.7h1.48M137.7 87.0h1.48M139.2 89.3h1.48M155.4 91.5h1.48M114.1 93.8h1.48M133.2 93.8h1.48M152.4 93.8h1.48M171.6 93.8h1.48M115.5 96.1h1.48M145.1 96.1h1.48M156.9 96.1h2.95M102.2 100.6h1.48M105.2 105.2h1.48M134.7 107.5h1.48M87.5 109.7h1.48M125.9 109.7h1.48M139.2 109.7h1.48M146.5 109.7h1.48M90.4 112.0h1.48M125.9 112.0h1.48M177.5 112.0h1.48M124.4 114.3h1.48M151.0 114.3h1.48M91.9 116.6h1.48M136.2 118.8h1.48M100.8 121.1h1.48M162.8 121.1h1.48M177.5 121.1h1.48M124.4 123.4h1.48M127.3 125.7h1.48M149.5 125.7h1.48M139.2 127.9h1.48M174.6 132.5h1.48M115.5 137.0h1.48M118.5 137.0h1.48M162.8 141.6h1.48M171.6 141.6h1.48M179.0 141.6h1.48" stroke="rgb(125, 130, 65)" stroke-width="2.32" fill="none"/>
<path d="M127.3 57.4h1.48M115.5 82.4h1.48M99.3 87.0h1.48M121.4 89.3h1.48M99.3 91.5h1.48M117.0 91.5h1.48M121.4 96.1h1.48M117.0 98.4h1.48M125.9 98.4h1.48M99.3 102.9h1.48M121.4 105.2h1.48M125.9 105.2h1.48M99.3 107.5h1.48M121.4 109.7h1.48M99.3 116.6h1.48M118.5 118.8h1.48M124.4 118.8h1.48M115.5 121.1h1.48M99.3 123.4h1.48M102.2 123.4h1.48M115.5 125.7h1.48M124.4 127.9h1.48M131.8 130.2h1.48M99.3 132.5h1.48M105.2 134.8h1.48M127.3 134.8h1.48M91.9 137.0h1.48M99.3 137.0h1.48M111.1 137.0h1.48M127.3 141.6h1.48" stroke="rgb(22, 12, 225)" stroke-width="2.32" fill="none"/>
<path d="M214.1 146.1h1.48M230.3 146.1h4.44M227.4 148.4h1.48M231.8 148.4h1.48M231.8 150.7h1.48M227.4 152.9h1.48M231.8 152.9h2.96M237.7 152.9h1.48M196.3 155.2h1.48M214.1 155.2h1.48M224.4 155.2h1.48M208.1 157.5h1.48M211.1 157.5h1.48M214.1 157.5h1.48M231.8 157.5h2.96M181.5 159.7h1.48M221.5 159.7h1.48M231.8 159.7h1.48M211.1 162.0h1.48M237.7 162.0h1.48M214.1 164.2h1.48M231.8 164.2h4.44M237.7 164.2h2.96M197.8 166.5h1.48M208.1 168.8h1.48M214.1 168.8h1.48M218.5 168.8h1.48M221.5 168.8h1.48M224.4 168.8h4.44M231.8 168.8h2.96M237.7 168.8h2.96M237.7 171.0h1.48M214.1 173.3h1.48M231.8 173.3h2.96M237.7 175.6h1.48M233.3 177.8h1.48M231.8 180.1h1.48M237.7 180.1h1.48M233.3 182.4h1.48M237.7 182.4h1.48M221.5 184.6h1.48M224.4 184.6h1.48M231.8 184.6h2.96M221.5 186.9h1.48M224.4 186.9h1.48M231.8 186.9h1.48M222.9 189.2h1.48M214.1 191.4h1.48M217.0 191.4h1.48M221.5 191.4h1.48M231.8 191.4h2.96M237.7 191.4h1.48M214.1 193.7h1.48M231.8 193.7h2.96M185.9 195.9h1.48M224.4 195.9h1.48M227.4 195.9h1.48M231.8 195.9h2.96M237.7 195.9h1.48M224.4 198.2h1.48M231.8 198.2h2.96M237.7 198.2h1.48M185.9 200.5h1.48M231.8 200.5h2.96M233.3 202.7h1.48M237.7 202.7h1.48M214.1 205.0h1.48M221.5 205.0h1.48M224.4 205.0h1.48M233.3 205.0h1.48M237.7 205.0h1.48M227.4 207.3h1.48M231.8 207.3h1.48" stroke="rgb(22, 12, 225)" stroke-width="2.31" fill="none"/>
<path d="M159.8 130.2h1.48M194.8 55.1h1.48M197.8 55.1h1.48M200.7 55.1h1.48M205.2 55.1h1.48M208.1 55.1h1.48M214.1 55.1h1.48M218.5 55.1h1.48M230.3 55.1h1.48M233.3 55.1h1.48M236.3 55.1h1.48M197.8 57.4h1.48M209.6 57.4h2.96M217.0 57.4h1.48M221.5 57.4h4.44M227.4 57.4h1.48M234.8 57.4h1.48M181.5 59.7h2.96M188.9 59.7h1.48M199.3 59.7h1.48M208.1 59.7h1.48M224.4 59.7h2.96M239.2 59.7h1.48M185.9 62.0h1.48M197.8 62.0h1.48M206.7 62.0h1.48M218.5 62.0h1.48M222.9 62.0h2.96M237.7 62.0h1.48M181.5 64.2h2.96M206.7 64.2h1.48M233.3 64.2h2.96M239.2 64.2h1.48M184.5 66.5h1.48M188.9 66.5h1.48M191.9 66.5h1.48M200.7 66.5h1.48M206.7 66.5h2.96M222.9 66.5h1.48M233.3 66.5h1.48M239.2 66.5h1.48M202.2 68.8h1.48M205.2 68.8h1.48M218.5 68.8h1.48M225.9 68.8h2.96M234.8 68.8h2.96M183.0 71.1h1.48M197.8 71.1h1.48M203.7 71.1h1.48M206.7 71.1h1.48M220.0 71.1h1.48M224.4 71.1h1.48M234.8 71.1h1.48M190.4 73.3h1.48M200.7 73.3h1.48M214.1 73.3h1.48M228.9 73.3h1.48M194.8 75.6h7.40M205.2 75.6h1.48M212.6 75.6h1.48M218.5 75.6h1.48M225.9 75.6h1.48M228.9 75.6h1.48M239.2 75.6h1.48M184.5 77.9h1.48M190.4 77.9h1.48M194.8 77.9h1.48M202.2 77.9h1.48M218.5 77.9h1.48M230.3 77.9h1.48M233.3 77.9h1.48M237.7 77.9h1.48M200.7 80.2h1.48M206.7 80.2h1.48M228.9 80.2h1.48M208.1 82.4h1.48M215.5 82.4h2.96M231.8 82.4h1.48M237.7 82.4h1.48M194.8 84.7h2.96M199.3 84.7h1.48M230.3 84.7h2.96M236.3 84.7h1.48M190.4 87.0h1.48M200.7 87.0h1.48M206.7 87.0h1.48M209.6 87.0h1.48M215.5 87.0h1.48M228.9 87.0h1.48M236.3 87.0h1.48M239.2 87.0h1.48M181.5 89.3h2.96M197.8 89.3h1.48M205.2 89.3h1.48M214.1 89.3h1.48M217.0 89.3h1.48M233.3 89.3h1.48M194.8 91.5h1.48M203.7 91.5h1.48M221.5 91.5h1.48M227.4 91.5h2.96M236.3 91.5h1.48M185.9 93.8h1.48M196.3 93.8h1.48M199.3 93.8h1.48M206.7 93.8h1.48M211.1 93.8h1.48M227.4 93.8h1.48M233.3 93.8h1.48M239.2 93.8h1.48M197.8 96.1h2.96M206.7 96.1h1.48M211.1 96.1h1.48M214.1 96.1h1.48M217.0 96.1h1.48M224.4 96.1h1.48M236.3 96.1h2.96M184.5 98.4h1.48M191.9 98.4h2.96M199.3 98.4h1.48M205.2 98.4h1.48M208.1 98.4h1.48M211.1 98.4h1.48M214.1 98.4h1.48M218.5 98.4h1.48M183.0 100.6h1.48M190.4 100.6h1.48M194.8 100.6h1.48M200.7 100.6h1.48M206.7 100.6h1.48M209.6 100.6h1.48M214.1 100.6h4.44M225.9 100.6h1.48M231.8 100.6h1.48M237.7 100.6h2.96M212.6 102.9h1.48M218.5 102.9h1.48M224.4 102.9h1.48M239.2 102.9h1.48M183.0 105.2h1.48M185.9 105.2h1.48M188.9 105.2h1.48M194.8 105.2h1.48M199.3 105.2h1.48M209.6 105.2h1.48M214.1 105.2h1.48M230.3 105.2h1.48M236.3 105.2h1.48M184.5 107.5h1.48M191.9 107.5h1.48M197.8 107.5h1.48M200.7 107.5h1.48M208.1 107.5h4.44M218.5 107.5h1.48M233.3 107.5h1.48M194.8 109.7h2.96M205.2 109.7h1.48M211.1 109.7h1.48M218.5 109.7h1.48M227.4 109.7h1.48M231.8 109.7h1.48M239.2 109.7h1.48M183.0 112.0h1.48M191.9 112.0h2.96M206.7 112.0h1.48M212.6 112.0h1.48M231.8 112.0h1.48M237.7 112.0h2.96M187.4 114.3h1.48M196.3 114.3h1.48M199.3 114.3h1.48M206.7 114.3h1.48M209.6 114.3h1.48M231.8 114.3h1.48M236.3 114.3h1.48M239.2 114.3h1.48M194.8 116.6h2.96M205.2 116.6h1.48M224.4 116.6h1.48M227.4 116.6h1.48M237.7 116.6h1.48M183.0 118.8h4.44M190.4 118.8h1.48M193.3 118.8h2.96M208.1 118.8h1.48M212.6 118.8h2.96M222.9 118.8h2.96M231.8 118.8h1.48M234.8 118.8h1.48M181.5 121.1h1.48M184.5 121.1h1.48M197.8 121.1h1.48M209.6 121.1h1.48M214.1 121.1h2.96M222.9 121.1h1.48M231.8 121.1h1.48M185.9 123.4h1.48M221.5 123.4h1.48M228.9 123.4h1.48M234.8 123.4h1.48M181.5 125.7h1.48M191.9 125.7h2.96M196.3 125.7h1.48M199.3 125.7h2.96M203.7 125.7h1.48M221.5 125.7h1.48M225.9 125.7h2.96M183.0 127.9h2.96M187.4 127.9h1.48M191.9 127.9h1.48M199.3 127.9h1.48M205.2 127.9h1.48M214.1 127.9h1.48M218.5 127.9h1.48M224.4 127.9h1.48M239.2 127.9h1.48M181.5 130.2h1.48M184.5 130.2h1.48M194.8 130.2h1.48M197.8 130.2h2.96M203.7 130.2h1.48M209.6 130.2h1.48M220.0 130.2h1.48M227.4 130.2h1.48M230.3 130.2h1.48M236.3 130.2h1.48M181.5 132.5h1.48M196.3 132.5h1.48M209.6 132.5h1.48M212.6 132.5h1.48M221.5 132.5h1.48M227.4 132.5h2.96M190.4 134.8h1.48M197.8 134.8h2.96M208.1 134.8h2.96M225.9 134.8h1.48M230.3 134.8h2.96M236.3 134.8h1.48M184.5 137.0h1.48M220.0 137.0h1.48M181.5 139.3h2.96M187.4 139.3h1.48M197.8 139.3h1.48M200.7 139.3h2.96M218.5 139.3h4.44M230.3 139.3h1.48M233.3 139.3h1.48M211.1 141.6h2.96M215.5 141.6h2.96M227.4 141.6h1.48M234.8 141.6h2.96M239.2 141.6h1.48M187.4 143.9h1.48M193.3 143.9h1.48M203.7 143.9h1.48M209.6 143.9h1.48M214.1 143.9h1.48M220.0 143.9h1.48" stroke="rgb(107, 117, 18)" stroke-width="2.32" fill="none"/>
<path d="M87.5 146.1h1.48M93.4 146.1h1.48M99.3 146.1h1.48M102.2 146.1h1.48M105.2 146.1h5.91M120.0 146.1h2.95M131.8 146.1h1.48M156.9 146.1h2.95M165.7 146.1h2.95M87.5 148.4h1.48M93.4 148.4h2.95M100.8 148.4h1.48M115.5 148.4h1.48M121.4 148.4h2.95M137.7 148.4h1.48M153.9 148.4h1.48M158.4 148.4h2.95M102.2 150.7h1.48M106.7 150.7h2.95M120.0 150.7h2.95M127.3 150.7h1.48M139.2 150.7h1.48M158.4 150.7h1.48M161.3 150.7h1.48M167.2 150.7h1.48M170.2 150.7h2.95M176.1 150.7h1.48M93.4 152.9h2.95M99.3 152.9h1.48M115.5 152.9h1.48M120.0 152.9h1.48M136.2 152.9h2.95M148.0 152.9h1.48M151.0 152.9h1.48M158.4 152.9h1.48M168.7 152.9h1.48M176.1 152.9h1.48M87.5 155.2h2.95M93.4 155.2h1.48M96.3 155.2h1.48M108.1 155.2h1.48M117.0 155.2h1.48M127.3 155.2h1.48M170.2 155.2h1.48M174.6 155.2h1.48M86.0 157.5h2.95M96.3 157.5h1.48M99.3 157.5h1.48M121.4 157.5h1.48M133.2 157.5h1.48M146.5 157.5h2.95M151.0 157.5h1.48M155.4 157.5h1.48M167.2 157.5h1.48M170.2 157.5h2.95M176.1 157.5h1.48M93.4 159.7h1.48M96.3 159.7h1.48M100.8 159.7h2.95M106.7 159.7h1.48M117.0 159.7h1.48M120.0 159.7h2.95M127.3 159.7h1.48M139.2 159.7h1.48M158.4 159.7h1.48M173.1 159.7h2.95M99.3 162.0h1.48M115.5 162.0h1.48M127.3 162.0h1.48M133.2 162.0h1.48M155.4 162.0h1.48M159.8 162.0h1.48M173.1 162.0h1.48M90.4 164.2h1.48M93.4 164.2h2.95M106.7 164.2h2.95M131.8 164.2h1.48M137.7 164.2h1.48M148.0 164.2h1.48M152.4 164.2h1.48M158.4 164.2h2.95M167.2 164.2h1.48M174.6 164.2h2.95M93.4 166.5h2.95M99.3 166.5h1.48M112.6 166.5h1.48M121.4 166.5h1.48M127.3 166.5h1.48M134.7 166.5h1.48M137.7 166.5h1.48M148.0 166.5h1.48M152.4 166.5h1.48M155.4 166.5h1.48M165.7 166.5h2.95M174.6 166.5h1.48M93.4 168.8h1.48M96.3 168.8h1.48M99.3 168.8h1.48M102.2 168.8h1.48M106.7 168.8h2.95M112.6 168.8h1.48M115.5 168.8h1.48M121.4 168.8h1.48M127.3 168.8h1.48M131.8 168.8h1.48M136.2 168.8h4.43M151.0 168.8h1.48M171.6 168.8h1.48M176.1 168.8h1.48M89.0 171.0h1.48M93.4 171.0h1.48M96.3 171.0h1.48M115.5 171.0h1.48M127.3 171.0h1.48M152.4 171.0h1.48M159.8 171.0h1.48M167.2 171.0h1.48M86.0 173.3h1.48M96.3 173.3h1.48M100.8 173.3h1.48M112.6 173.3h1.48M122.9 173.3h1.48M133.2 173.3h1.48M136.2 173.3h1.48M139.2 173.3h1.48M148.0 173.3h1.48M152.4 173.3h1.48M155.4 173.3h1.48M174.6 173.3h1.48M93.4 175.6h1.48M96.3 175.6h1.48M106.7 175.6h1.48M112.6 175.6h1.48M120.0 175.6h1.48M148.0 175.6h1.48M158.4 175.6h4.43M168.7 175.6h2.95M173.1 175.6h1.48M93.4 177.8h1.48M115.5 177.8h2.95M121.4 177.8h1.48M131.8 177.8h1.48M137.7 177.8h2.95M155.4 177.8h1.48M167.2 177.8h1.48M173.1 177.8h4.43M87.5 180.1h1.48M93.4 180.1h1.48M97.8 180.1h2.95M106.7 180.1h1.48M120.0 180.1h1.48M131.8 180.1h1.48M134.7 180.1h4.43M143.6 180.1h1.48M152.4 180.1h1.48M155.4 180.1h1.48M168.7 180.1h1.48M171.6 180.1h1.48M120.0 182.4h1.48M122.9 182.4h1.48M127.3 182.4h1.48M136.2 182.4h1.48M86.0 184.6h2.95M94.9 184.6h1.48M99.3 184.6h1.48M102.2 184.6h1.48M108.1 184.6h2.95M112.6 184.6h1.48M117.0 184.6h1.48M121.4 184.6h1.48M137.7 184.6h2.95M148.0 184.6h1.48M155.4 184.6h1.48M167.2 184.6h2.95M90.4 186.9h1.48M96.3 186.9h1.48M127.3 186.9h1.48M131.8 186.9h1.48M139.2 186.9h1.48M156.9 186.9h4.43M170.2 186.9h2.95M174.6 186.9h2.95M93.4 189.2h1.48M100.8 189.2h1.48M108.1 189.2h1.48M120.0 189.2h2.95M131.8 189.2h1.48M134.7 189.2h1.48M148.0 189.2h1.48M151.0 189.2h1.48M153.9 189.2h1.48M156.9 189.2h1.48M173.1 189.2h2.95M90.4 191.4h1.48M96.3 191.4h1.48M100.8 191.4h2.95M105.2 191.4h1.48M127.3 191.4h1.48M168.7 191.4h1.48M173.1 191.4h2.95M90.4 193.7h1.48M93.4 193.7h1.48M96.3 193.7h1.48M99.3 193.7h1.48M106.7 193.7h1.48M112.6 193.7h1.48M136.2 193.7h2.95M148.0 193.7h1.48M168.7 193.7h2.95M173.1 193.7h2.95M90.4 195.9h1.48M108.1 195.9h1.48M117.0 195.9h1.48M122.9 195.9h1.48M136.2 195.9h1.48M148.0 195.9h1.48M156.9 195.9h2.95M161.3 195.9h1.48M170.2 195.9h2.95M174.6 195.9h2.95M93.4 198.2h1.48M96.3 198.2h1.48M112.6 198.2h1.48M121.4 198.2h1.48M127.3 198.2h1.48M136.2 198.2h1.48M152.4 198.2h1.48M170.2 198.2h1.48M173.1 198.2h1.48M94.9 200.5h1.48M100.8 200.5h2.95M105.2 200.5h2.95M111.1 200.5h2.95M122.9 200.5h1.48M127.3 200.5h1.48M133.2 200.5h1.48M137.7 200.5h1.48M152.4 200.5h1.48M155.4 200.5h1.48M167.2 200.5h1.48M170.2 200.5h2.95M174.6 200.5h1.48M87.5 202.7h1.48M100.8 202.7h1.48M103.7 202.7h4.43M109.6 202.7h1.48M121.4 202.7h2.95M127.3 202.7h1.48M131.8 202.7h2.95M137.7 202.7h1.48M148.0 202.7h1.48M158.4 202.7h1.48M86.0 205.0h2.95M90.4 205.0h1.48M93.4 205.0h1.48M99.3 205.0h1.48M117.0 205.0h1.48M120.0 205.0h1.48M127.3 205.0h1.48M136.2 205.0h4.43M146.5 205.0h2.95M152.4 205.0h1.48M156.9 205.0h2.95M168.7 205.0h2.95M174.6 205.0h2.95M93.4 207.3h2.95M100.8 207.3h4.43M106.7 207.3h1.48M117.0 207.3h1.48M121.4 207.3h2.95M148.0 207.3h1.48M155.4 207.3h1.48M159.8 207.3h1.48M174.6 207.3h1.48" stroke="rgb(107, 117, 18)" stroke-width="2.31" fill="none"/>
<path d="M90.4 146.1h1.48M137.7 146.1h1.48M159.8 146.1h1.48M127.3 148.4h1.48M131.8 148.4h1.48M99.3 150.7h1.48M122.9 150.7h1.48M136.2 150.7h1.48M94.9 155.2h1.48M102.2 155.2h1.48M159.8 155.2h1.48M173.1 155.2h1.48M102.2 157.5h1.48M106.7 157.5h1.48M159.8 157.5h2.95M148.0 159.7h1.48M159.8 159.7h1.48M159.8 168.8h1.48M90.4 171.0h1.48M173.1 171.0h1.48M90.4 173.3h1.48M93.4 173.3h1.48M159.8 173.3h1.48M173.1 173.3h1.48M90.4 175.6h1.48M167.2 175.6h1.48M90.4 177.8h1.48M159.8 177.8h1.48M102.2 180.1h1.48M159.8 180.1h1.48M173.1 182.4h1.48M131.8 184.6h1.48M173.1 184.6h2.95M93.4 186.9h1.48M96.3 189.2h1.48M159.8 189.2h1.48M121.4 193.7h1.48M159.8 193.7h1.48M90.4 198.2h1.48M137.7 198.2h1.48M159.8 198.2h1.48M159.8 200.5h1.48M173.1 200.5h1.48M173.1 202.7h1.48M108.1 205.0h1.48M121.4 205.0h1.48M176.1 207.3h1.48" stroke="rgb(198, 218, 35)" stroke-width="2.31" fill="none"/>
<path d="M206.7 57.4h1.48M231.8 57.4h1.48M184.5 62.0h1.48M205.2 62.0h1.48M233.3 62.0h1.48M197.8 64.2h1.48M218.5 64.2h1.48M224.4 64.2h1.48M214.1 66.5h1.48M217.0 66.5h1.48M193.3 68.8h1.48M209.6 68.8h1.48M221.5 68.8h1.48M196.3 71.1h1.48M228.9 71.1h1.48M183.0 73.3h1.48M206.7 73.3h1.48M209.6 73.3h1.48M215.5 73.3h1.48M220.0 73.3h1.48M206.7 75.6h1.48M209.6 75.6h1.48M222.9 75.6h1.48M231.8 75.6h1.48M236.3 75.6h1.48M187.4 77.9h1.48M239.2 77.9h1.48M205.2 80.2h1.48M211.1 80.2h1.48M225.9 80.2h1.48M231.8 80.2h1.48M239.2 80.2h1.48M206.7 82.4h1.48M236.3 82.4h1.48M239.2 82.4h1.48M197.8 84.7h1.48M205.2 84.7h1.48M197.8 87.0h1.48M217.0 87.0h1.48M224.4 87.0h1.48M199.3 89.3h1.48M222.9 91.5h1.48M231.8 91.5h1.48M194.8 93.8h1.48M196.3 96.1h1.48M206.7 98.4h1.48M209.6 98.4h1.48M231.8 98.4h1.48M236.3 98.4h1.48M239.2 98.4h1.48M185.9 100.6h2.96M183.0 102.9h1.48M203.7 102.9h1.48M217.0 102.9h1.48M234.8 102.9h1.48M191.9 105.2h1.48M239.2 105.2h1.48M206.7 107.5h1.48M231.8 107.5h1.48M200.7 109.7h1.48M206.7 109.7h4.44M233.3 109.7h1.48M236.3 109.7h2.96M181.5 112.0h1.48M209.6 112.0h1.48M220.0 112.0h1.48M222.9 112.0h1.48M236.3 112.0h1.48M181.5 114.3h1.48M209.6 116.6h1.48M214.1 116.6h1.48M196.3 118.8h1.48M199.3 118.8h1.48M205.2 118.8h1.48M209.6 118.8h1.48M233.3 118.8h1.48M209.6 123.4h1.48M239.2 123.4h1.48M181.5 127.9h1.48M206.7 127.9h1.48M224.4 130.2h1.48M187.4 132.5h1.48M194.8 134.8h1.48M203.7 134.8h1.48M217.0 134.8h1.48M191.9 137.0h1.48M199.3 137.0h1.48M217.0 137.0h1.48M222.9 137.0h2.96M230.3 137.0h1.48M228.9 139.3h1.48M196.3 143.9h1.48M205.2 143.9h2.96M222.9 143.9h1.48M234.8 143.9h1.48M237.7 143.9h2.96" stroke="rgb(198, 218, 35)" stroke-width="2.32" fill="none"/>
<path d="M112.6 146.1h1.48M173.1 146.1h1.48M96.3 148.4h1.48M161.3 148.4h1.48M90.4 150.7h1.48M94.9 150.7h2.95M131.8 150.7h1.48M137.7 150.7h1.48M148.0 150.7h1.48M156.9 150.7h1.48M159.8 150.7h1.48M173.1 150.7h1.48M105.2 152.9h1.48M131.8 152.9h1.48M152.4 152.9h1.48M170.2 152.9h1.48M90.4 155.2h1.48M99.3 155.2h2.95M106.7 155.2h1.48M167.2 155.2h1.48M90.4 157.5h1.48M93.4 157.5h2.95M100.8 157.5h1.48M112.6 157.5h1.48M136.2 157.5h4.43M173.1 157.5h2.95M90.4 159.7h1.48M94.9 159.7h1.48M115.5 159.7h1.48M131.8 159.7h1.48M137.7 159.7h1.48M117.0 162.0h1.48M121.4 162.0h1.48M137.7 162.0h1.48M90.4 166.5h1.48M96.3 166.5h1.48M102.2 166.5h1.48M131.8 166.5h1.48M159.8 166.5h1.48M173.1 166.5h1.48M176.1 166.5h1.48M90.4 168.8h1.48M100.8 171.0h2.95M120.0 171.0h1.48M136.2 171.0h2.95M146.5 171.0h1.48M176.1 171.0h1.48M94.9 173.3h1.48M102.2 173.3h1.48M131.8 173.3h1.48M137.7 173.3h1.48M156.9 173.3h1.48M99.3 175.6h1.48M137.7 175.6h1.48M87.5 177.8h1.48M99.3 177.8h1.48M127.3 177.8h1.48M148.0 177.8h1.48M161.3 177.8h1.48M90.4 180.1h1.48M96.3 180.1h1.48M158.4 180.1h1.48M170.2 180.1h1.48M173.1 180.1h2.95M90.4 182.4h1.48M102.2 182.4h1.48M137.7 182.4h1.48M159.8 182.4h1.48M90.4 184.6h1.48M96.3 184.6h1.48M106.7 184.6h1.48M115.5 184.6h1.48M152.4 184.6h1.48M156.9 184.6h4.43M170.2 184.6h1.48M176.1 184.6h1.48M99.3 186.9h2.95M121.4 186.9h1.48M137.7 186.9h1.48M168.7 186.9h1.48M87.5 189.2h1.48M99.3 189.2h1.48M136.2 189.2h1.48M158.4 189.2h1.48M131.8 191.4h1.48M137.7 191.4h2.95M158.4 191.4h2.95M171.6 191.4h1.48M94.9 193.7h1.48M131.8 193.7h1.48M139.2 193.7h1.48M93.4 195.9h1.48M100.8 195.9h1.48M131.8 195.9h1.48M159.8 195.9h1.48M173.1 195.9h1.48M139.2 198.2h1.48M174.6 198.2h2.95M93.4 200.5h1.48M99.3 200.5h1.48M121.4 200.5h1.48M131.8 200.5h1.48M136.2 200.5h1.48M158.4 200.5h1.48M161.3 200.5h1.48M179.0 200.5h1.48M90.4 202.7h1.48M99.3 202.7h1.48M155.4 202.7h1.48M159.8 202.7h1.48M94.9 205.0h1.48M102.2 205.0h1.48M106.7 205.0h1.48M131.8 205.0h1.48M151.0 205.0h1.48M159.8 205.0h2.95M173.1 205.0h1.48M90.4 207.3h1.48M137.7 207.3h1.48M158.4 207.3h1.48" stroke="rgb(152, 168, 26)" stroke-width="2.31" fill="none"/>
<path d="M184.5 55.1h1.48M190.4 55.1h1.48M206.7 55.1h1.48M224.4 55.1h1.48M185.9 57.4h1.48M199.3 57.4h1.48M228.9 57.4h1.48M233.3 57.4h1.48M202.2 59.7h1.48M209.6 59.7h1.48M190.4 62.0h1.48M227.4 62.0h1.48M231.8 62.0h1.48M239.2 62.0h1.48M205.2 64.2h1.48M212.6 64.2h1.48M217.0 64.2h1.48M236.3 64.2h1.48M196.3 66.5h1.48M211.1 66.5h1.48M220.0 66.5h1.48M236.3 66.5h1.48M217.0 68.8h1.48M200.7 71.1h1.48M212.6 71.1h1.48M218.5 71.1h1.48M230.3 71.1h1.48M236.3 71.1h1.48M239.2 71.1h1.48M191.9 73.3h1.48M196.3 73.3h2.96M208.1 73.3h1.48M224.4 73.3h4.44M230.3 73.3h1.48M233.3 73.3h1.48M214.1 75.6h1.48M191.9 77.9h1.48M200.7 77.9h1.48M205.2 77.9h1.48M209.6 77.9h1.48M217.0 77.9h1.48M231.8 77.9h1.48M188.9 80.2h2.96M217.0 80.2h1.48M193.3 82.4h1.48M196.3 82.4h1.48M205.2 82.4h1.48M222.9 82.4h1.48M187.4 84.7h1.48M220.0 84.7h1.48M211.1 87.0h1.48M222.9 87.0h1.48M184.5 89.3h1.48M206.7 89.3h1.48M211.1 89.3h1.48M224.4 89.3h1.48M239.2 89.3h1.48M200.7 91.5h1.48M206.7 91.5h1.48M217.0 91.5h1.48M224.4 91.5h1.48M230.3 91.5h1.48M233.3 91.5h1.48M187.4 93.8h1.48M190.4 93.8h1.48M202.2 93.8h1.48M218.5 93.8h1.48M228.9 93.8h1.48M234.8 93.8h2.96M183.0 96.1h1.48M222.9 96.1h1.48M230.3 96.1h1.48M183.0 98.4h1.48M190.4 98.4h1.48M227.4 98.4h2.96M233.3 98.4h2.96M199.3 100.6h1.48M233.3 100.6h2.96M187.4 102.9h1.48M206.7 102.9h1.48M236.3 102.9h2.96M202.2 105.2h1.48M205.2 105.2h1.48M211.1 105.2h1.48M217.0 105.2h1.48M224.4 105.2h2.96M205.2 107.5h1.48M227.4 107.5h1.48M230.3 107.5h1.48M202.2 109.7h1.48M230.3 109.7h1.48M187.4 112.0h1.48M190.4 112.0h1.48M224.4 112.0h2.96M230.3 112.0h1.48M233.3 112.0h1.48M205.2 114.3h1.48M211.1 114.3h1.48M218.5 114.3h1.48M221.5 114.3h2.96M225.9 114.3h1.48M185.9 116.6h1.48M221.5 116.6h1.48M233.3 116.6h1.48M181.5 118.8h1.48M206.7 118.8h1.48M211.1 118.8h1.48M217.0 118.8h1.48M228.9 118.8h1.48M236.3 118.8h1.48M239.2 118.8h1.48M194.8 121.1h1.48M205.2 121.1h1.48M227.4 121.1h1.48M236.3 121.1h1.48M184.5 123.4h1.48M196.3 123.4h1.48M206.7 123.4h1.48M218.5 123.4h1.48M222.9 123.4h5.92M233.3 123.4h1.48M205.2 125.7h1.48M217.0 125.7h1.48M230.3 125.7h1.48M239.2 125.7h1.48M197.8 127.9h1.48M202.2 127.9h1.48M188.9 130.2h1.48M191.9 130.2h1.48M205.2 130.2h2.96M217.0 130.2h1.48M222.9 130.2h1.48M231.8 130.2h1.48M239.2 130.2h1.48M190.4 132.5h1.48M222.9 132.5h1.48M230.3 132.5h1.48M239.2 132.5h1.48M196.3 134.8h1.48M211.1 134.8h1.48M218.5 134.8h1.48M222.9 134.8h1.48M234.8 134.8h1.48M239.2 134.8h1.48M233.3 137.0h1.48M239.2 137.0h1.48M190.4 139.3h1.48M205.2 139.3h1.48M215.5 139.3h2.96M224.4 139.3h1.48M237.7 139.3h2.96M187.4 141.6h1.48M190.4 141.6h1.48M209.6 141.6h1.48M224.4 143.9h1.48" stroke="rgb(152, 168, 26)" stroke-width="2.32" fill="none"/>
<path d="M217.0 146.1h1.48M224.4 146.1h1.48M217.0 159.7h1.48M234.8 159.7h1.48M225.9 162.0h1.48M206.7 166.5h1.48M227.4 175.6h1.48M236.3 177.8h1.48M184.5 186.9h1.48M214.1 189.2h1.48M200.7 195.9h1.48M214.1 195.9h1.48M200.7 198.2h1.48" stroke="rgb(130, 140, 125)" stroke-width="2.31" fill="none"/>
</g>
<rect x="180.30" y="54.00" width="1.40" height="154.40" fill="#eeeef2"/>
<rect x="86.00" y="216.00" width="93.80" height="13.50" fill="#98d0cc"/>
<rect x="179.80" y="216.00" width="61.40" height="13.50" fill="#e8aec8"/>
<path d="M89.9 216.0v13.5M93.8 216.0v13.5M96.9 216.0v13.5M99.2 216.0v13.5M100.9 216.0v13.5M103.6 216.0v13.5M106.3 216.0v13.5M107.9 216.0v13.5M109.6 216.0v13.5M114.1 216.0v13.5M117.5 216.0v13.5M119.7 216.0v13.5M122.5 216.0v13.5M126.9 216.0v13.5M131.1 216.0v13.5M135.2 216.0v13.5M137.9 216.0v13.5M140.8 216.0v13.5M144.4 216.0v13.5M146.0 216.0v13.5M149.2 216.0v13.5M151.5 216.0v13.5M155.7 216.0v13.5M157.4 216.0v13.5M160.9 216.0v13.5M165.0 216.0v13.5M167.2 216.0v13.5M171.4 216.0v13.5M175.5 216.0v13.5M177.0 216.0v13.5M180.7 216.0v13.5M182.2 216.0v13.5M185.2 216.0v13.5M188.0 216.0v13.5M190.1 216.0v13.5M192.6 216.0v13.5M196.5 216.0v13.5M198.9 216.0v13.5M200.9 216.0v13.5M204.5 216.0v13.5M207.3 216.0v13.5M211.2 216.0v13.5M213.4 216.0v13.5M215.9 216.0v13.5M219.8 216.0v13.5M222.8 216.0v13.5M225.8 216.0v13.5M228.0 216.0v13.5M229.6 216.0v13.5M233.9 216.0v13.5M235.6 216.0v13.5M239.7 216.0v13.5" stroke="#000" stroke-opacity="0.07" stroke-width="0.7"/>
<text x="121" y="226.2" font-size="8.7" fill="#1d2d2d" textLength="19" lengthAdjust="spacingAndGlyphs" stroke="#1d2d2d" stroke-width="0.16">EMK</text>
<text x="204.6" y="226.2" font-size="8.6" fill="#2a1a22" textLength="15" lengthAdjust="spacingAndGlyphs" stroke="#2a1a22" stroke-width="0.16">IMP</text>
<rect x="86.00" y="233.00" width="6.70" height="13.80" fill="#8ecac6"/>
<rect x="92.70" y="233.00" width="6.90" height="13.80" fill="#bcd6b0"/>
<rect x="99.60" y="233.00" width="1.90" height="13.80" fill="#96cdc8"/>
<rect x="101.50" y="233.00" width="17.10" height="13.80" fill="#8290cf"/>
<rect x="118.60" y="233.00" width="5.20" height="13.80" fill="#6a6cc0"/>
<rect x="123.80" y="233.00" width="3.50" height="13.80" fill="#8a8ccc"/>
<rect x="127.30" y="233.00" width="2.90" height="13.80" fill="#78bc6e"/>
<rect x="130.20" y="233.00" width="3.40" height="13.80" fill="#a0cca4"/>
<rect x="133.60" y="233.00" width="3.80" height="13.80" fill="#6c58aa"/>
<rect x="137.40" y="233.00" width="31.40" height="13.80" fill="#f9ea60"/>
<rect x="168.80" y="233.00" width="6.40" height="13.80" fill="#d6ac70"/>
<rect x="175.20" y="233.00" width="2.90" height="13.80" fill="#e396b8"/>
<rect x="178.10" y="233.00" width="2.30" height="13.80" fill="#cdd6bc"/>
<rect x="180.40" y="233.00" width="8.60" height="13.80" fill="#afd6c0"/>
<rect x="189.00" y="233.00" width="1.80" height="13.80" fill="#3f7f88"/>
<rect x="190.80" y="233.00" width="2.50" height="13.80" fill="#6caa86"/>
<rect x="193.30" y="233.00" width="8.20" height="13.80" fill="#f6ea58"/>
<rect x="201.50" y="233.00" width="7.00" height="13.80" fill="#e8ae5c"/>
<rect x="208.50" y="233.00" width="15.00" height="13.80" fill="#e6a0bc"/>
<rect x="223.50" y="233.00" width="17.10" height="13.80" fill="#d87864"/>
<rect x="240.60" y="233.00" width="0.60" height="13.80" fill="#b0a0a8"/>
<path d="M89.9 233.0v13.8M93.8 233.0v13.8M96.9 233.0v13.8M99.2 233.0v13.8M100.9 233.0v13.8M103.6 233.0v13.8M106.3 233.0v13.8M107.9 233.0v13.8M109.6 233.0v13.8M114.1 233.0v13.8M117.5 233.0v13.8M119.7 233.0v13.8M122.5 233.0v13.8M126.9 233.0v13.8M131.1 233.0v13.8M135.2 233.0v13.8M137.9 233.0v13.8M140.8 233.0v13.8M144.4 233.0v13.8M146.0 233.0v13.8M149.2 233.0v13.8M151.5 233.0v13.8M155.7 233.0v13.8M157.4 233.0v13.8M160.9 233.0v13.8M165.0 233.0v13.8M167.2 233.0v13.8M171.4 233.0v13.8M175.5 233.0v13.8M177.0 233.0v13.8M180.7 233.0v13.8M182.2 233.0v13.8M185.2 233.0v13.8M188.0 233.0v13.8M190.1 233.0v13.8M192.6 233.0v13.8M196.5 233.0v13.8M198.9 233.0v13.8M200.9 233.0v13.8M204.5 233.0v13.8M207.3 233.0v13.8M211.2 233.0v13.8M213.4 233.0v13.8M215.9 233.0v13.8M219.8 233.0v13.8M222.8 233.0v13.8M225.8 233.0v13.8M228.0 233.0v13.8M229.6 233.0v13.8M233.9 233.0v13.8M235.6 233.0v13.8M239.7 233.0v13.8" stroke="#000" stroke-opacity="0.08" stroke-width="0.7"/>
<text x="20.7" y="243.2" font-size="8.9" textLength="55.6" lengthAdjust="spacingAndGlyphs" stroke="#1a1a1a" stroke-width="0.16">WHO subtype</text>
<text x="84.9" y="258.5" font-size="8.9" textLength="55.1" lengthAdjust="spacingAndGlyphs" stroke="#1a1a1a" stroke-width="0.16">WHO subtype</text>
<rect x="84.60" y="263.00" width="56.20" height="1.10" fill="#333"/>
<rect x="84.30" y="271.20" width="13.10" height="12.60" fill="#a8d8da"/>
<text x="103.8" y="280.4" font-size="8.45" stroke="#1a1a1a" stroke-width="0.16">MDS-SLD</text>
<rect x="84.30" y="291.95" width="13.10" height="12.60" fill="#5a6cbc"/>
<text x="103.8" y="301.15" font-size="8.45" stroke="#1a1a1a" stroke-width="0.16">MDS-RS-SLD</text>
<rect x="84.30" y="312.70" width="13.10" height="12.60" fill="#2a2a80"/>
<text x="103.8" y="321.9" font-size="8.45" stroke="#1a1a1a" stroke-width="0.16">MDS/MPN-RS-T</text>
<rect x="84.30" y="333.45" width="13.10" height="12.60" fill="#bedaa6"/>
<text x="103.8" y="342.65" font-size="8.45" stroke="#1a1a1a" stroke-width="0.16">MDS-MLD</text>
<rect x="84.30" y="354.20" width="13.10" height="12.60" fill="#6cae38"/>
<text x="103.8" y="363.4" font-size="8.45" stroke="#1a1a1a" stroke-width="0.16">MDS-RS-MLD</text>
<rect x="84.30" y="374.95" width="13.10" height="12.60" fill="#6448a2"/>
<text x="103.8" y="384.15" font-size="8.45" stroke="#1a1a1a" stroke-width="0.16">MDS del(5q)</text>
<rect x="190.00" y="271.20" width="13.10" height="12.60" fill="#f8e954"/>
<text x="210.2" y="280.4" font-size="8.45" stroke="#1a1a1a" stroke-width="0.16">CMML-1</text>
<rect x="190.00" y="291.95" width="13.10" height="12.60" fill="#cdc84a"/>
<text x="210.2" y="301.15" font-size="8.45" stroke="#1a1a1a" stroke-width="0.16">CMML-2</text>
<rect x="190.00" y="312.70" width="13.10" height="12.60" fill="#e4a24a"/>
<text x="210.2" y="321.9" font-size="8.45" stroke="#1a1a1a" stroke-width="0.16">MDS-EB-1</text>
<rect x="190.00" y="333.45" width="13.10" height="12.60" fill="#df8fb6"/>
<text x="210.2" y="342.65" font-size="8.45" stroke="#1a1a1a" stroke-width="0.16">MDS-EB-2</text>
<rect x="190.00" y="354.20" width="13.10" height="12.60" fill="#d03c38"/>
<text x="210.2" y="363.4" font-size="8.45" stroke="#1a1a1a" stroke-width="0.16">AML-MDS</text>
<rect x="190.00" y="374.95" width="13.10" height="12.60" fill="#8c8c8c"/>
<text x="210.2" y="384.15" font-size="8.45" stroke="#1a1a1a" stroke-width="0.16">MDS/MPN-U</text>
<text x="274.1" y="18.7" font-size="13.4" font-weight="bold" fill="#000" textLength="8.7" lengthAdjust="spacingAndGlyphs" stroke="#000" stroke-width="0.16">B</text>
<text x="299.4" y="33.1" font-size="8.9" font-weight="bold" textLength="207.2" lengthAdjust="spacingAndGlyphs" stroke="#1a1a1a" stroke-width="0.16">Expression of 68 Genes in the Regression Model</text>
<text x="301" y="43.2" font-size="8.9" font-weight="bold" textLength="201.4" lengthAdjust="spacingAndGlyphs" stroke="#1a1a1a" stroke-width="0.16">(Test Set for Bone Marrow CD34+ Cell Samples)</text>
<text x="295.8" y="59.4" font-size="8.85" textLength="26" lengthAdjust="spacingAndGlyphs" stroke="#1a1a1a" stroke-width="0.16">mRNA</text>
<text x="287.2" y="70.1" font-size="8.85" textLength="42.7" lengthAdjust="spacingAndGlyphs" stroke="#1a1a1a" stroke-width="0.16">expression</text>
<text x="291.8" y="80.6" font-size="8.85" textLength="33" lengthAdjust="spacingAndGlyphs" stroke="#1a1a1a" stroke-width="0.16">(z score)</text>
<rect x="300.8" y="92.6" width="16.5" height="70" fill="url(#cb)"/>
<text x="319.5" y="96.8" font-size="9" stroke="#1a1a1a" stroke-width="0.16">3</text>
<text x="319.5" y="131" font-size="9" stroke="#1a1a1a" stroke-width="0.16">0</text>
<text x="319.5" y="163.2" font-size="9" stroke="#1a1a1a" stroke-width="0.16">-3</text>
<filter id="hb23" x="0" y="0" width="1" height="1"><feGaussianBlur stdDeviation="0.6"/></filter>
<g filter="url(#hb23)">
<rect x="352.20" y="54.20" width="153.60" height="153.60" fill="#000"/>
<path d="M352.2 55.3h1.08M358.7 55.3h1.08M366.2 55.3h1.08M370.5 55.3h1.08M377.0 55.3h1.08M383.4 55.3h1.08M414.6 55.3h1.08M420.0 55.3h1.08M424.3 55.3h1.08M439.4 55.3h1.08M448.0 55.3h1.08M352.2 57.6h2.15M356.5 57.6h1.08M360.8 57.6h1.08M366.2 57.6h1.08M379.1 57.6h1.08M383.4 57.6h1.08M402.8 57.6h1.08M415.7 57.6h2.15M419.0 57.6h1.08M425.4 57.6h1.08M434.0 57.6h1.08M437.3 57.6h1.08M441.6 57.6h1.08M444.8 57.6h1.08M446.9 57.6h1.08M383.4 59.9h1.08M387.7 59.9h1.08M423.3 59.9h2.15M429.7 59.9h1.08M353.3 62.1h1.08M366.2 62.1h1.08M388.8 62.1h1.08M393.1 62.1h1.08M400.6 62.1h1.08M423.3 62.1h1.08M444.8 62.1h1.08M360.8 64.4h1.08M366.2 64.4h1.08M383.4 64.4h1.08M422.2 64.4h2.15M444.8 64.4h1.08M395.3 66.6h1.08M398.5 66.6h2.15M423.3 66.6h1.08M431.9 66.6h1.08M438.3 66.6h1.08M446.9 66.6h1.08M366.2 68.9h1.08M380.2 68.9h1.08M391.0 68.9h1.08M399.6 68.9h1.08M403.9 68.9h1.08M422.2 68.9h1.08M438.3 68.9h1.08M443.7 68.9h1.08M372.7 71.2h1.08M377.0 71.2h1.08M380.2 71.2h1.08M388.8 71.2h1.08M423.3 71.2h1.08M361.9 73.4h1.08M380.2 73.4h1.08M387.7 73.4h2.15M397.4 73.4h1.08M421.1 73.4h1.08M429.7 73.4h1.08M444.8 73.4h1.08M446.9 73.4h1.08M365.1 75.7h1.08M399.6 75.7h1.08M401.7 75.7h1.08M421.1 75.7h1.08M423.3 75.7h1.08M429.7 75.7h1.08M435.1 75.7h2.15M446.9 75.7h1.08M372.7 78.0h1.08M389.9 78.0h1.08M403.9 78.0h1.08M415.7 78.0h1.08M425.4 78.0h1.08M366.2 80.2h1.08M443.7 80.2h1.08M359.7 82.5h1.08M386.7 82.5h2.15M429.7 82.5h1.08M435.1 82.5h2.15M361.9 84.7h1.08M395.3 84.7h1.08M415.7 84.7h1.08M419.0 84.7h1.08M430.8 84.7h1.08M441.6 84.7h1.08M358.7 87.0h1.08M360.8 87.0h1.08M366.2 87.0h1.08M370.5 87.0h2.15M391.0 87.0h1.08M398.5 87.0h1.08M407.1 87.0h1.08M438.3 87.0h1.08M446.9 87.0h1.08M366.2 89.3h2.15M370.5 89.3h1.08M382.3 89.3h1.08M391.0 89.3h1.08M411.4 89.3h1.08M414.6 89.3h1.08M442.6 89.3h1.08M444.8 89.3h1.08M446.9 89.3h1.08M360.8 91.5h1.08M415.7 91.5h2.15M422.2 91.5h1.08M446.9 91.5h1.08M352.2 93.8h1.08M361.9 93.8h1.08M379.1 93.8h1.08M388.8 93.8h1.08M419.0 93.8h1.08M421.1 93.8h1.08M423.3 93.8h1.08M435.1 93.8h1.08M444.8 93.8h1.08M354.4 96.1h1.08M361.9 96.1h1.08M368.4 96.1h1.08M377.0 96.1h1.08M391.0 96.1h1.08M416.8 96.1h2.15M352.2 98.3h1.08M358.7 98.3h1.08M364.0 98.3h1.08M385.6 98.3h1.08M398.5 98.3h1.08M413.6 98.3h1.08M356.5 100.6h1.08M360.8 100.6h1.08M424.3 100.6h1.08M388.8 102.8h1.08M391.0 102.8h1.08M403.9 102.8h1.08M407.1 102.8h1.08M433.0 102.8h1.08M359.7 105.1h1.08M393.1 105.1h1.08M403.9 105.1h1.08M359.7 107.4h1.08M361.9 107.4h1.08M384.5 107.4h1.08M398.5 107.4h2.15M413.6 107.4h1.08M416.8 107.4h1.08M425.4 107.4h1.08M429.7 107.4h1.08M448.0 107.4h1.08M361.9 109.6h1.08M399.6 109.6h1.08M413.6 109.6h1.08M446.9 109.6h1.08M359.7 111.9h1.08M383.4 111.9h1.08M386.7 111.9h1.08M388.8 111.9h1.08M437.3 111.9h1.08M446.9 111.9h1.08M359.7 114.2h1.08M363.0 114.2h1.08M387.7 114.2h1.08M406.0 114.2h1.08M417.9 114.2h1.08M437.3 114.2h1.08M440.5 114.2h1.08M386.7 116.4h1.08M403.9 116.4h1.08M440.5 116.4h1.08M360.8 118.7h1.08M397.4 118.7h1.08M399.6 118.7h1.08M359.7 120.9h1.08M383.4 120.9h1.08M387.7 120.9h1.08M389.9 120.9h1.08M375.9 123.2h1.08M388.8 123.2h1.08M395.3 123.2h1.08M411.4 123.2h1.08M413.6 123.2h1.08M419.0 123.2h1.08M438.3 123.2h1.08M445.9 123.2h1.08M361.9 125.5h1.08M386.7 125.5h1.08M409.3 125.5h1.08M360.8 127.7h2.15M400.6 127.7h1.08M421.1 127.7h1.08M353.3 130.0h1.08M387.7 130.0h2.15M407.1 130.0h1.08M442.6 130.0h1.08M446.9 130.0h1.08M366.2 132.3h1.08M377.0 132.3h1.08M438.3 132.3h1.08M387.7 134.5h1.08M395.3 134.5h1.08M437.3 134.5h1.08M353.3 136.8h1.08M363.0 136.8h1.08M382.3 136.8h1.08M388.8 136.8h1.08M397.4 136.8h1.08M399.6 136.8h1.08M402.8 136.8h2.15M433.0 136.8h1.08M422.2 139.0h2.15M440.5 139.0h1.08M387.7 141.3h1.08M391.0 141.3h1.08M424.3 141.3h1.08M434.0 141.3h1.08M388.8 143.6h1.08M397.4 143.6h1.08M401.7 143.6h1.08M412.5 143.6h1.08M421.1 143.6h1.08M461.9 55.3h1.07M464.0 55.3h2.14M472.6 55.3h1.07M474.7 55.3h1.07M480.1 55.3h1.07M490.8 55.3h1.07M450.1 57.6h2.14M463.0 57.6h1.07M467.2 57.6h1.07M469.4 57.6h1.07M471.5 57.6h1.07M474.7 57.6h2.14M482.2 57.6h1.07M491.9 57.6h1.07M479.0 59.9h2.14M482.2 59.9h1.07M492.9 59.9h2.14M497.2 59.9h1.07M499.4 59.9h1.07M490.8 62.1h2.14M499.4 62.1h1.07M501.5 62.1h1.07M455.5 64.4h1.07M475.8 64.4h1.07M480.1 64.4h1.07M483.3 64.4h2.14M486.5 64.4h1.07M492.9 64.4h1.07M495.1 64.4h1.07M466.2 66.6h1.07M471.5 66.6h1.07M476.9 66.6h1.07M494.0 66.6h1.07M499.4 66.6h1.07M457.6 68.9h1.07M461.9 68.9h1.07M464.0 68.9h1.07M479.0 68.9h1.07M489.7 68.9h1.07M498.3 68.9h1.07M464.0 71.2h2.14M470.5 71.2h1.07M452.2 73.4h1.07M472.6 73.4h1.07M479.0 73.4h1.07M482.2 73.4h2.14M485.4 73.4h1.07M470.5 75.7h1.07M455.5 78.0h3.21M476.9 78.0h1.07M479.0 78.0h1.07M485.4 78.0h2.14M454.4 80.2h2.14M459.7 80.2h1.07M470.5 80.2h1.07M489.7 80.2h1.07M453.3 82.5h2.14M458.7 82.5h1.07M464.0 82.5h1.07M471.5 82.5h3.21M480.1 82.5h2.14M495.1 82.5h2.14M501.5 82.5h1.07M455.5 84.7h1.07M464.0 84.7h1.07M466.2 84.7h1.07M472.6 84.7h1.07M475.8 84.7h1.07M488.7 84.7h1.07M490.8 84.7h1.07M504.7 84.7h1.07M450.1 87.0h2.14M456.5 87.0h1.07M459.7 87.0h1.07M469.4 87.0h1.07M492.9 87.0h1.07M504.7 87.0h1.07M450.1 89.3h1.07M468.3 89.3h1.07M474.7 89.3h2.14M478.0 89.3h1.07M484.4 89.3h1.07M451.2 91.5h1.07M463.0 91.5h1.07M469.4 91.5h1.07M472.6 91.5h1.07M475.8 91.5h1.07M479.0 91.5h1.07M488.7 91.5h1.07M490.8 91.5h1.07M500.4 91.5h2.14M503.7 91.5h1.07M450.1 93.8h1.07M459.7 93.8h1.07M470.5 93.8h1.07M472.6 93.8h1.07M474.7 93.8h2.14M478.0 93.8h1.07M504.7 93.8h1.07M463.0 96.1h1.07M472.6 96.1h1.07M502.6 96.1h1.07M504.7 96.1h1.07M457.6 98.3h2.14M460.8 98.3h1.07M465.1 98.3h1.07M470.5 98.3h1.07M491.9 98.3h1.07M499.4 98.3h1.07M454.4 100.6h1.07M461.9 100.6h1.07M464.0 100.6h2.14M472.6 100.6h1.07M480.1 100.6h1.07M484.4 100.6h1.07M497.2 100.6h2.14M457.6 102.8h2.14M460.8 102.8h1.07M468.3 102.8h1.07M472.6 102.8h1.07M474.7 102.8h3.21M485.4 102.8h1.07M490.8 102.8h1.07M494.0 102.8h2.14M461.9 105.1h1.07M467.2 105.1h1.07M497.2 105.1h2.14M500.4 105.1h1.07M455.5 107.4h1.07M465.1 107.4h1.07M469.4 107.4h2.14M476.9 107.4h1.07M484.4 107.4h1.07M492.9 107.4h1.07M497.2 107.4h1.07M455.5 109.6h2.14M463.0 109.6h1.07M473.7 109.6h3.21M478.0 109.6h1.07M488.7 109.6h1.07M490.8 109.6h2.14M500.4 109.6h1.07M463.0 111.9h1.07M466.2 111.9h2.14M474.7 111.9h1.07M497.2 111.9h1.07M501.5 111.9h1.07M504.7 111.9h1.07M450.1 114.2h1.07M454.4 114.2h1.07M457.6 114.2h1.07M459.7 114.2h1.07M461.9 114.2h1.07M478.0 114.2h2.14M489.7 114.2h1.07M491.9 114.2h2.14M501.5 114.2h1.07M450.1 116.4h1.07M455.5 116.4h1.07M464.0 116.4h1.07M476.9 116.4h1.07M483.3 116.4h1.07M463.0 118.7h1.07M466.2 118.7h1.07M471.5 118.7h1.07M476.9 118.7h1.07M480.1 118.7h1.07M482.2 118.7h2.14M490.8 118.7h1.07M495.1 118.7h1.07M451.2 120.9h1.07M470.5 120.9h1.07M491.9 120.9h1.07M496.2 120.9h1.07M498.3 120.9h1.07M503.7 120.9h1.07M455.5 123.2h1.07M467.2 123.2h1.07M470.5 123.2h1.07M485.4 123.2h1.07M487.6 123.2h1.07M492.9 123.2h1.07M502.6 123.2h2.14M452.2 125.5h1.07M460.8 125.5h1.07M469.4 125.5h1.07M472.6 125.5h1.07M476.9 125.5h1.07M484.4 125.5h2.14M488.7 125.5h1.07M497.2 125.5h1.07M500.4 125.5h1.07M503.7 125.5h1.07M450.1 127.7h1.07M457.6 127.7h1.07M466.2 127.7h1.07M472.6 127.7h1.07M475.8 127.7h1.07M504.7 127.7h1.07M452.2 130.0h1.07M456.5 130.0h1.07M469.4 130.0h1.07M483.3 130.0h1.07M487.6 130.0h1.07M495.1 130.0h1.07M498.3 130.0h1.07M503.7 130.0h2.14M452.2 132.3h1.07M459.7 132.3h1.07M468.3 132.3h1.07M470.5 132.3h1.07M475.8 132.3h2.14M483.3 132.3h1.07M489.7 132.3h1.07M499.4 132.3h1.07M454.4 134.5h1.07M461.9 134.5h1.07M467.2 134.5h1.07M471.5 134.5h1.07M478.0 134.5h1.07M483.3 134.5h1.07M497.2 134.5h1.07M451.2 136.8h1.07M463.0 136.8h2.14M467.2 136.8h1.07M473.7 136.8h1.07M480.1 136.8h1.07M496.2 136.8h1.07M453.3 139.0h1.07M456.5 139.0h1.07M461.9 139.0h2.14M467.2 139.0h1.07M475.8 139.0h1.07M480.1 139.0h1.07M494.0 139.0h1.07M503.7 139.0h1.07M451.2 141.3h2.14M455.5 141.3h1.07M460.8 141.3h1.07M464.0 141.3h1.07M472.6 141.3h1.07M450.1 143.6h1.07M458.7 143.6h1.07M466.2 143.6h1.07M469.4 143.6h1.07M476.9 143.6h1.07M481.2 143.6h1.07M489.7 143.6h1.07M492.9 143.6h1.07M499.4 143.6h1.07M502.6 143.6h1.07" stroke="rgb(27, 29, 4)" stroke-width="2.31" fill="none"/>
<path d="M360.8 145.8h1.08M378.0 145.8h1.08M381.3 145.8h2.15M386.7 145.8h1.08M398.5 145.8h1.08M411.4 145.8h1.08M414.6 145.8h1.08M417.9 145.8h1.08M420.0 145.8h1.08M425.4 145.8h1.08M431.9 145.8h1.08M355.4 148.1h1.08M361.9 148.1h1.08M369.4 148.1h1.08M375.9 148.1h1.08M381.3 148.1h1.08M386.7 148.1h1.08M389.9 148.1h2.15M412.5 148.1h1.08M414.6 148.1h1.08M421.1 148.1h1.08M359.7 150.3h2.15M369.4 150.3h2.15M397.4 150.3h1.08M406.0 150.3h1.08M408.2 150.3h1.08M424.3 150.3h1.08M426.5 150.3h1.08M436.2 150.3h1.08M442.6 150.3h2.15M359.7 152.6h2.15M363.0 152.6h2.15M372.7 152.6h1.08M380.2 152.6h1.08M383.4 152.6h1.08M386.7 152.6h1.08M391.0 152.6h2.15M399.6 152.6h1.08M403.9 152.6h1.08M407.1 152.6h1.08M410.3 152.6h1.08M415.7 152.6h1.08M419.0 152.6h1.08M422.2 152.6h1.08M433.0 152.6h2.15M366.2 154.8h1.08M372.7 154.8h1.08M378.0 154.8h1.08M385.6 154.8h2.15M394.2 154.8h2.15M416.8 154.8h1.08M420.0 154.8h2.15M424.3 154.8h2.15M427.6 154.8h2.15M430.8 154.8h1.08M443.7 154.8h1.08M364.0 157.1h1.08M367.3 157.1h1.08M380.2 157.1h1.08M387.7 157.1h1.08M399.6 157.1h1.08M406.0 157.1h2.15M409.3 157.1h2.15M414.6 157.1h1.08M416.8 157.1h1.08M429.7 157.1h2.15M438.3 157.1h1.08M443.7 157.1h1.08M358.7 159.3h1.08M369.4 159.3h1.08M374.8 159.3h1.08M378.0 159.3h1.08M389.9 159.3h1.08M403.9 159.3h1.08M427.6 159.3h1.08M429.7 159.3h1.08M434.0 159.3h1.08M440.5 159.3h1.08M442.6 159.3h3.23M355.4 161.6h1.08M366.2 161.6h1.08M373.7 161.6h1.08M385.6 161.6h1.08M395.3 161.6h1.08M398.5 161.6h1.08M411.4 161.6h1.08M413.6 161.6h1.08M415.7 161.6h1.08M417.9 161.6h2.15M422.2 161.6h1.08M427.6 161.6h1.08M433.0 161.6h2.15M448.0 161.6h1.08M363.0 163.9h1.08M367.3 163.9h1.08M382.3 163.9h1.08M403.9 163.9h1.08M409.3 163.9h1.08M417.9 163.9h1.08M424.3 163.9h1.08M428.6 163.9h2.15M431.9 163.9h2.15M442.6 163.9h1.08M448.0 163.9h1.08M358.7 166.1h1.08M364.0 166.1h1.08M367.3 166.1h1.08M374.8 166.1h1.08M381.3 166.1h1.08M385.6 166.1h1.08M391.0 166.1h3.23M396.3 166.1h2.15M400.6 166.1h1.08M406.0 166.1h1.08M419.0 166.1h2.15M425.4 166.1h1.08M428.6 166.1h1.08M437.3 166.1h1.08M440.5 166.1h1.08M443.7 166.1h1.08M360.8 168.4h1.08M385.6 168.4h1.08M388.8 168.4h1.08M398.5 168.4h1.08M400.6 168.4h1.08M402.8 168.4h1.08M409.3 168.4h1.08M415.7 168.4h1.08M424.3 168.4h1.08M434.0 168.4h1.08M437.3 168.4h2.15M442.6 168.4h1.08M355.4 170.6h1.08M364.0 170.6h1.08M368.4 170.6h1.08M372.7 170.6h1.08M382.3 170.6h1.08M391.0 170.6h1.08M411.4 170.6h1.08M415.7 170.6h1.08M436.2 170.6h1.08M440.5 170.6h2.15M446.9 170.6h1.08M353.3 172.9h1.08M355.4 172.9h1.08M366.2 172.9h1.08M380.2 172.9h1.08M388.8 172.9h1.08M394.2 172.9h1.08M412.5 172.9h1.08M414.6 172.9h2.15M424.3 172.9h1.08M428.6 172.9h2.15M437.3 172.9h2.15M441.6 172.9h1.08M445.9 172.9h1.08M366.2 175.1h1.08M383.4 175.1h1.08M396.3 175.1h1.08M400.6 175.1h1.08M402.8 175.1h1.08M406.0 175.1h1.08M411.4 175.1h1.08M426.5 175.1h1.08M440.5 175.1h1.08M445.9 175.1h1.08M359.7 177.4h1.08M364.0 177.4h1.08M369.4 177.4h1.08M416.8 177.4h1.08M429.7 177.4h1.08M436.2 177.4h1.08M439.4 177.4h1.08M441.6 177.4h1.08M443.7 177.4h1.08M445.9 177.4h2.15M361.9 179.6h1.08M364.0 179.6h1.08M367.3 179.6h1.08M369.4 179.6h1.08M375.9 179.6h2.15M380.2 179.6h1.08M392.0 179.6h1.08M394.2 179.6h1.08M398.5 179.6h1.08M406.0 179.6h1.08M409.3 179.6h1.08M412.5 179.6h1.08M414.6 179.6h1.08M421.1 179.6h1.08M444.8 179.6h2.15M359.7 181.9h2.15M372.7 181.9h1.08M374.8 181.9h1.08M382.3 181.9h1.08M386.7 181.9h1.08M393.1 181.9h2.15M397.4 181.9h1.08M403.9 181.9h1.08M410.3 181.9h1.08M412.5 181.9h1.08M421.1 181.9h1.08M434.0 181.9h1.08M438.3 181.9h1.08M442.6 181.9h1.08M445.9 181.9h1.08M448.0 181.9h1.08M357.6 184.1h1.08M383.4 184.1h1.08M391.0 184.1h1.08M398.5 184.1h1.08M402.8 184.1h1.08M410.3 184.1h1.08M412.5 184.1h2.15M420.0 184.1h1.08M422.2 184.1h1.08M427.6 184.1h1.08M429.7 184.1h1.08M440.5 184.1h1.08M353.3 186.4h1.08M358.7 186.4h1.08M367.3 186.4h1.08M380.2 186.4h1.08M389.9 186.4h1.08M396.3 186.4h1.08M413.6 186.4h1.08M421.1 186.4h1.08M424.3 186.4h1.08M441.6 186.4h1.08M445.9 186.4h1.08M369.4 188.6h1.08M375.9 188.6h2.15M381.3 188.6h1.08M389.9 188.6h1.08M392.0 188.6h1.08M394.2 188.6h1.08M401.7 188.6h1.08M406.0 188.6h1.08M414.6 188.6h1.08M420.0 188.6h1.08M425.4 188.6h1.08M428.6 188.6h1.08M443.7 188.6h1.08M353.3 190.9h1.08M361.9 190.9h1.08M365.1 190.9h1.08M367.3 190.9h1.08M381.3 190.9h2.15M386.7 190.9h1.08M389.9 190.9h1.08M395.3 190.9h1.08M398.5 190.9h1.08M406.0 190.9h1.08M417.9 190.9h1.08M430.8 190.9h1.08M433.0 190.9h1.08M439.4 190.9h1.08M357.6 193.2h3.23M374.8 193.2h1.08M396.3 193.2h1.08M399.6 193.2h1.08M402.8 193.2h2.15M421.1 193.2h1.08M423.3 193.2h2.15M430.8 193.2h1.08M433.0 193.2h2.15M439.4 193.2h2.15M442.6 193.2h1.08M444.8 193.2h1.08M357.6 195.4h1.08M360.8 195.4h2.15M368.4 195.4h1.08M372.7 195.4h1.08M388.8 195.4h1.08M397.4 195.4h1.08M399.6 195.4h1.08M407.1 195.4h1.08M410.3 195.4h1.08M413.6 195.4h1.08M419.0 195.4h1.08M425.4 195.4h1.08M429.7 195.4h1.08M431.9 195.4h1.08M448.0 195.4h1.08M363.0 197.7h1.08M366.2 197.7h1.08M370.5 197.7h4.31M377.0 197.7h1.08M381.3 197.7h1.08M387.7 197.7h1.08M397.4 197.7h1.08M419.0 197.7h1.08M424.3 197.7h1.08M428.6 197.7h1.08M435.1 197.7h1.08M360.8 199.9h1.08M363.0 199.9h1.08M368.4 199.9h2.15M379.1 199.9h1.08M393.1 199.9h1.08M396.3 199.9h1.08M400.6 199.9h1.08M403.9 199.9h2.15M412.5 199.9h1.08M422.2 199.9h1.08M433.0 199.9h1.08M435.1 199.9h1.08M438.3 199.9h1.08M442.6 199.9h1.08M444.8 199.9h1.08M357.6 202.2h1.08M364.0 202.2h2.15M373.7 202.2h1.08M378.0 202.2h1.08M387.7 202.2h1.08M393.1 202.2h1.08M396.3 202.2h1.08M419.0 202.2h2.15M423.3 202.2h1.08M426.5 202.2h1.08M445.9 202.2h1.08M448.0 202.2h1.08M358.7 204.4h1.08M363.0 204.4h2.15M366.2 204.4h1.08M372.7 204.4h1.08M377.0 204.4h2.15M384.5 204.4h1.08M391.0 204.4h1.08M394.2 204.4h1.08M396.3 204.4h1.08M415.7 204.4h1.08M423.3 204.4h1.08M434.0 204.4h1.08M438.3 204.4h1.08M353.3 206.7h1.08M358.7 206.7h1.08M360.8 206.7h1.08M366.2 206.7h1.08M368.4 206.7h1.08M370.5 206.7h1.08M379.1 206.7h1.08M417.9 206.7h1.08M426.5 206.7h1.08M436.2 206.7h2.15M474.7 145.8h1.07M451.2 154.8h1.07M460.8 154.8h1.07M463.0 154.8h1.07M482.2 154.8h1.07M485.4 154.8h1.07M452.2 159.3h1.07M457.6 161.6h1.07M464.0 166.1h1.07M456.5 168.4h1.07M457.6 170.6h1.07M481.2 170.6h1.07M453.3 179.6h1.07M457.6 179.6h1.07M451.2 184.1h1.07M451.2 186.4h1.07M453.3 188.6h1.07M453.3 190.9h1.07M460.8 190.9h1.07M452.2 193.2h1.07M452.2 197.7h1.07M457.6 199.9h1.07" stroke="rgb(27, 29, 4)" stroke-width="2.30" fill="none"/>
<path d="M353.3 55.3h2.15M356.5 55.3h2.15M361.9 55.3h3.23M373.7 55.3h2.15M382.3 55.3h1.08M398.5 55.3h1.08M403.9 55.3h2.15M407.1 55.3h1.08M413.6 55.3h1.08M423.3 55.3h1.08M430.8 55.3h1.08M434.0 55.3h1.08M438.3 55.3h1.08M354.4 57.6h1.08M375.9 57.6h1.08M389.9 57.6h2.15M393.1 57.6h1.08M398.5 57.6h3.23M406.0 57.6h1.08M408.2 57.6h1.08M410.3 57.6h1.08M417.9 57.6h1.08M421.1 57.6h1.08M423.3 57.6h2.15M426.5 57.6h1.08M436.2 57.6h1.08M352.2 59.9h1.08M359.7 59.9h1.08M368.4 59.9h1.08M372.7 59.9h1.08M391.0 59.9h1.08M398.5 59.9h1.08M400.6 59.9h1.08M405.0 59.9h2.15M411.4 59.9h1.08M414.6 59.9h1.08M417.9 59.9h1.08M434.0 59.9h1.08M441.6 59.9h1.08M443.7 59.9h1.08M356.5 62.1h1.08M359.7 62.1h1.08M369.4 62.1h1.08M374.8 62.1h2.15M381.3 62.1h1.08M383.4 62.1h1.08M386.7 62.1h1.08M397.4 62.1h1.08M402.8 62.1h3.23M407.1 62.1h3.23M411.4 62.1h1.08M413.6 62.1h1.08M416.8 62.1h1.08M425.4 62.1h1.08M431.9 62.1h1.08M436.2 62.1h1.08M442.6 62.1h1.08M352.2 64.4h3.23M358.7 64.4h1.08M363.0 64.4h1.08M367.3 64.4h1.08M377.0 64.4h1.08M379.1 64.4h1.08M386.7 64.4h1.08M389.9 64.4h1.08M393.1 64.4h1.08M398.5 64.4h1.08M412.5 64.4h2.15M417.9 64.4h1.08M425.4 64.4h1.08M434.0 64.4h1.08M438.3 64.4h1.08M440.5 64.4h1.08M352.2 66.6h1.08M358.7 66.6h2.15M365.1 66.6h1.08M369.4 66.6h1.08M371.6 66.6h1.08M388.8 66.6h2.15M405.0 66.6h1.08M411.4 66.6h1.08M414.6 66.6h2.15M425.4 66.6h1.08M428.6 66.6h1.08M433.0 66.6h1.08M368.4 68.9h1.08M377.0 68.9h2.15M381.3 68.9h2.15M385.6 68.9h1.08M387.7 68.9h3.23M392.0 68.9h1.08M395.3 68.9h2.15M405.0 68.9h1.08M409.3 68.9h1.08M412.5 68.9h1.08M417.9 68.9h1.08M423.3 68.9h2.15M429.7 68.9h1.08M433.0 68.9h1.08M440.5 68.9h1.08M352.2 71.2h1.08M358.7 71.2h2.15M366.2 71.2h1.08M371.6 71.2h1.08M373.7 71.2h1.08M383.4 71.2h1.08M393.1 71.2h1.08M398.5 71.2h1.08M413.6 71.2h1.08M416.8 71.2h2.15M428.6 71.2h1.08M430.8 71.2h1.08M435.1 71.2h1.08M437.3 71.2h1.08M439.4 71.2h1.08M444.8 71.2h1.08M446.9 71.2h1.08M353.3 73.4h1.08M367.3 73.4h1.08M369.4 73.4h1.08M372.7 73.4h2.15M375.9 73.4h2.15M379.1 73.4h1.08M392.0 73.4h1.08M399.6 73.4h1.08M402.8 73.4h1.08M419.0 73.4h1.08M433.0 73.4h1.08M440.5 73.4h2.15M361.9 75.7h1.08M367.3 75.7h2.15M374.8 75.7h1.08M387.7 75.7h3.23M392.0 75.7h1.08M395.3 75.7h1.08M397.4 75.7h2.15M403.9 75.7h1.08M407.1 75.7h1.08M422.2 75.7h1.08M433.0 75.7h1.08M442.6 75.7h1.08M444.8 75.7h1.08M354.4 78.0h1.08M360.8 78.0h1.08M365.1 78.0h1.08M368.4 78.0h1.08M383.4 78.0h1.08M388.8 78.0h1.08M391.0 78.0h1.08M402.8 78.0h1.08M405.0 78.0h1.08M410.3 78.0h2.15M417.9 78.0h2.15M422.2 78.0h1.08M424.3 78.0h1.08M426.5 78.0h1.08M436.2 78.0h1.08M438.3 78.0h1.08M440.5 78.0h1.08M442.6 78.0h1.08M446.9 78.0h1.08M361.9 80.2h2.15M367.3 80.2h1.08M370.5 80.2h1.08M377.0 80.2h1.08M380.2 80.2h1.08M385.6 80.2h1.08M396.3 80.2h1.08M405.0 80.2h1.08M413.6 80.2h1.08M417.9 80.2h1.08M421.1 80.2h1.08M428.6 80.2h2.15M433.0 80.2h1.08M445.9 80.2h1.08M352.2 82.5h1.08M354.4 82.5h1.08M357.6 82.5h1.08M360.8 82.5h1.08M367.3 82.5h1.08M369.4 82.5h1.08M371.6 82.5h2.15M379.1 82.5h1.08M400.6 82.5h2.15M409.3 82.5h1.08M411.4 82.5h1.08M416.8 82.5h1.08M419.0 82.5h2.15M428.6 82.5h1.08M430.8 82.5h1.08M437.3 82.5h2.15M440.5 82.5h1.08M442.6 82.5h2.15M445.9 82.5h1.08M448.0 82.5h1.08M365.1 84.7h1.08M368.4 84.7h1.08M372.7 84.7h1.08M382.3 84.7h1.08M387.7 84.7h1.08M392.0 84.7h1.08M396.3 84.7h1.08M399.6 84.7h1.08M401.7 84.7h1.08M422.2 84.7h1.08M434.0 84.7h2.15M437.3 84.7h1.08M444.8 84.7h1.08M446.9 84.7h2.15M352.2 87.0h1.08M359.7 87.0h1.08M379.1 87.0h2.15M385.6 87.0h2.15M392.0 87.0h1.08M396.3 87.0h1.08M400.6 87.0h1.08M410.3 87.0h1.08M412.5 87.0h1.08M415.7 87.0h1.08M417.9 87.0h1.08M422.2 87.0h1.08M436.2 87.0h1.08M441.6 87.0h1.08M444.8 87.0h2.15M354.4 89.3h1.08M356.5 89.3h1.08M359.7 89.3h1.08M361.9 89.3h1.08M364.0 89.3h1.08M369.4 89.3h1.08M371.6 89.3h1.08M374.8 89.3h1.08M379.1 89.3h1.08M381.3 89.3h1.08M385.6 89.3h1.08M388.8 89.3h1.08M399.6 89.3h2.15M412.5 89.3h1.08M416.8 89.3h1.08M424.3 89.3h2.15M433.0 89.3h1.08M437.3 89.3h2.15M440.5 89.3h2.15M359.7 91.5h1.08M363.0 91.5h2.15M368.4 91.5h1.08M373.7 91.5h1.08M377.0 91.5h1.08M379.1 91.5h2.15M385.6 91.5h3.23M391.0 91.5h1.08M399.6 91.5h1.08M403.9 91.5h1.08M407.1 91.5h1.08M410.3 91.5h1.08M414.6 91.5h1.08M417.9 91.5h1.08M425.4 91.5h1.08M429.7 91.5h1.08M437.3 91.5h2.15M440.5 91.5h1.08M358.7 93.8h1.08M365.1 93.8h1.08M368.4 93.8h1.08M372.7 93.8h1.08M374.8 93.8h1.08M386.7 93.8h2.15M389.9 93.8h1.08M392.0 93.8h1.08M394.2 93.8h1.08M396.3 93.8h1.08M402.8 93.8h1.08M407.1 93.8h1.08M412.5 93.8h2.15M417.9 93.8h1.08M429.7 93.8h1.08M360.8 96.1h1.08M369.4 96.1h1.08M371.6 96.1h2.15M380.2 96.1h1.08M394.2 96.1h1.08M403.9 96.1h1.08M410.3 96.1h1.08M415.7 96.1h1.08M422.2 96.1h2.15M429.7 96.1h1.08M435.1 96.1h1.08M441.6 96.1h1.08M363.0 98.3h1.08M366.2 98.3h1.08M370.5 98.3h1.08M374.8 98.3h1.08M377.0 98.3h6.46M386.7 98.3h1.08M388.8 98.3h1.08M402.8 98.3h1.08M406.0 98.3h1.08M421.1 98.3h2.15M433.0 98.3h1.08M438.3 98.3h1.08M441.6 98.3h1.08M374.8 100.6h1.08M378.0 100.6h1.08M383.4 100.6h1.08M387.7 100.6h2.15M392.0 100.6h1.08M399.6 100.6h1.08M403.9 100.6h1.08M409.3 100.6h1.08M414.6 100.6h1.08M416.8 100.6h1.08M419.0 100.6h1.08M423.3 100.6h1.08M425.4 100.6h1.08M441.6 100.6h1.08M365.1 102.8h2.15M385.6 102.8h1.08M395.3 102.8h1.08M412.5 102.8h1.08M415.7 102.8h1.08M434.0 102.8h1.08M439.4 102.8h1.08M444.8 102.8h2.15M367.3 105.1h1.08M370.5 105.1h1.08M374.8 105.1h1.08M377.0 105.1h1.08M380.2 105.1h1.08M382.3 105.1h1.08M384.5 105.1h1.08M386.7 105.1h1.08M411.4 105.1h1.08M414.6 105.1h1.08M416.8 105.1h1.08M421.1 105.1h1.08M429.7 105.1h1.08M436.2 105.1h1.08M439.4 105.1h2.15M442.6 105.1h1.08M445.9 105.1h2.15M353.3 107.4h1.08M366.2 107.4h1.08M370.5 107.4h1.08M380.2 107.4h1.08M385.6 107.4h1.08M387.7 107.4h2.15M401.7 107.4h1.08M403.9 107.4h1.08M407.1 107.4h2.15M414.6 107.4h1.08M419.0 107.4h2.15M422.2 107.4h1.08M428.6 107.4h1.08M433.0 107.4h1.08M435.1 107.4h1.08M437.3 107.4h1.08M446.9 107.4h1.08M379.1 109.6h1.08M382.3 109.6h1.08M387.7 109.6h1.08M392.0 109.6h1.08M398.5 109.6h1.08M400.6 109.6h1.08M410.3 109.6h1.08M415.7 109.6h1.08M420.0 109.6h1.08M423.3 109.6h1.08M430.8 109.6h1.08M437.3 109.6h2.15M443.7 109.6h1.08M445.9 109.6h1.08M448.0 109.6h1.08M353.3 111.9h1.08M358.7 111.9h1.08M360.8 111.9h2.15M364.0 111.9h2.15M368.4 111.9h1.08M373.7 111.9h1.08M375.9 111.9h1.08M380.2 111.9h1.08M387.7 111.9h1.08M391.0 111.9h2.15M399.6 111.9h1.08M405.0 111.9h1.08M413.6 111.9h1.08M419.0 111.9h2.15M426.5 111.9h1.08M428.6 111.9h1.08M430.8 111.9h1.08M434.0 111.9h2.15M442.6 111.9h1.08M352.2 114.2h1.08M358.7 114.2h1.08M366.2 114.2h1.08M373.7 114.2h2.15M388.8 114.2h1.08M399.6 114.2h1.08M402.8 114.2h1.08M407.1 114.2h1.08M415.7 114.2h1.08M419.0 114.2h1.08M423.3 114.2h1.08M425.4 114.2h1.08M436.2 114.2h1.08M442.6 114.2h1.08M445.9 114.2h3.23M356.5 116.4h1.08M368.4 116.4h1.08M371.6 116.4h1.08M378.0 116.4h1.08M380.2 116.4h1.08M383.4 116.4h1.08M385.6 116.4h1.08M387.7 116.4h1.08M400.6 116.4h2.15M406.0 116.4h1.08M414.6 116.4h1.08M423.3 116.4h1.08M429.7 116.4h1.08M434.0 116.4h1.08M442.6 116.4h1.08M352.2 118.7h2.15M364.0 118.7h1.08M368.4 118.7h1.08M370.5 118.7h1.08M372.7 118.7h1.08M377.0 118.7h1.08M381.3 118.7h1.08M387.7 118.7h1.08M398.5 118.7h1.08M421.1 118.7h1.08M429.7 118.7h2.15M438.3 118.7h1.08M442.6 118.7h1.08M356.5 120.9h2.15M360.8 120.9h2.15M371.6 120.9h2.15M378.0 120.9h1.08M388.8 120.9h1.08M391.0 120.9h1.08M409.3 120.9h1.08M433.0 120.9h1.08M438.3 120.9h1.08M444.8 120.9h1.08M357.6 123.2h1.08M359.7 123.2h3.23M366.2 123.2h1.08M371.6 123.2h1.08M373.7 123.2h2.15M380.2 123.2h1.08M398.5 123.2h1.08M403.9 123.2h1.08M415.7 123.2h1.08M417.9 123.2h1.08M421.1 123.2h3.23M428.6 123.2h1.08M352.2 125.5h2.15M369.4 125.5h2.15M374.8 125.5h1.08M389.9 125.5h2.15M398.5 125.5h1.08M411.4 125.5h1.08M414.6 125.5h1.08M416.8 125.5h1.08M433.0 125.5h3.23M442.6 125.5h1.08M353.3 127.7h1.08M358.7 127.7h2.15M377.0 127.7h1.08M382.3 127.7h2.15M389.9 127.7h1.08M392.0 127.7h1.08M417.9 127.7h1.08M424.3 127.7h2.15M429.7 127.7h1.08M444.8 127.7h1.08M358.7 130.0h1.08M372.7 130.0h1.08M381.3 130.0h1.08M383.4 130.0h1.08M385.6 130.0h1.08M395.3 130.0h1.08M400.6 130.0h1.08M402.8 130.0h1.08M411.4 130.0h1.08M413.6 130.0h1.08M421.1 130.0h1.08M423.3 130.0h1.08M433.0 130.0h1.08M354.4 132.3h1.08M360.8 132.3h2.15M365.1 132.3h1.08M367.3 132.3h1.08M370.5 132.3h1.08M375.9 132.3h1.08M381.3 132.3h1.08M386.7 132.3h1.08M391.0 132.3h1.08M394.2 132.3h1.08M397.4 132.3h1.08M405.0 132.3h1.08M419.0 132.3h1.08M421.1 132.3h1.08M425.4 132.3h1.08M434.0 132.3h2.15M442.6 132.3h1.08M446.9 132.3h1.08M356.5 134.5h1.08M363.0 134.5h1.08M372.7 134.5h1.08M388.8 134.5h1.08M396.3 134.5h2.15M399.6 134.5h1.08M414.6 134.5h1.08M417.9 134.5h2.15M423.3 134.5h2.15M431.9 134.5h1.08M434.0 134.5h1.08M443.7 134.5h1.08M361.9 136.8h1.08M371.6 136.8h1.08M378.0 136.8h1.08M380.2 136.8h2.15M383.4 136.8h1.08M415.7 136.8h1.08M417.9 136.8h1.08M420.0 136.8h1.08M423.3 136.8h1.08M428.6 136.8h1.08M430.8 136.8h1.08M436.2 136.8h1.08M439.4 136.8h1.08M448.0 136.8h1.08M352.2 139.0h1.08M354.4 139.0h1.08M363.0 139.0h1.08M375.9 139.0h1.08M380.2 139.0h1.08M397.4 139.0h1.08M399.6 139.0h1.08M401.7 139.0h1.08M403.9 139.0h1.08M415.7 139.0h1.08M436.2 139.0h1.08M446.9 139.0h2.15M354.4 141.3h1.08M356.5 141.3h1.08M358.7 141.3h1.08M361.9 141.3h2.15M367.3 141.3h1.08M371.6 141.3h1.08M382.3 141.3h2.15M386.7 141.3h1.08M393.1 141.3h1.08M398.5 141.3h1.08M411.4 141.3h2.15M420.0 141.3h1.08M443.7 141.3h1.08M445.9 141.3h1.08M353.3 143.6h1.08M361.9 143.6h1.08M370.5 143.6h2.15M374.8 143.6h1.08M392.0 143.6h2.15M396.3 143.6h1.08M398.5 143.6h1.08M407.1 143.6h1.08M411.4 143.6h1.08M416.8 143.6h1.08M423.3 143.6h1.08M426.5 143.6h1.08M428.6 143.6h1.08M445.9 143.6h1.08M481.2 55.3h1.07M483.3 55.3h2.14M472.6 57.6h1.07M484.4 57.6h1.07M471.5 59.9h1.07M474.7 59.9h1.07M491.9 59.9h1.07M494.0 62.1h1.07M474.7 64.4h1.07M488.7 64.4h1.07M464.0 66.6h1.07M478.0 66.6h1.07M452.2 68.9h1.07M473.7 68.9h1.07M450.1 71.2h1.07M475.8 71.2h1.07M480.1 71.2h1.07M494.0 71.2h1.07M497.2 71.2h2.14M469.4 73.4h1.07M490.8 75.7h1.07M468.3 78.0h1.07M470.5 78.0h2.14M484.4 78.0h1.07M496.2 78.0h1.07M458.7 80.2h1.07M485.4 80.2h1.07M469.4 82.5h1.07M478.0 82.5h1.07M490.8 82.5h1.07M451.2 84.7h1.07M483.3 84.7h1.07M489.7 84.7h1.07M494.0 84.7h1.07M463.0 87.0h1.07M471.5 87.0h1.07M491.9 87.0h1.07M460.8 89.3h1.07M489.7 89.3h1.07M495.1 89.3h1.07M452.2 91.5h1.07M457.6 91.5h1.07M466.2 91.5h1.07M486.5 91.5h1.07M489.7 91.5h1.07M460.8 93.8h1.07M464.0 93.8h1.07M480.1 93.8h1.07M485.4 93.8h1.07M455.5 96.1h1.07M457.6 96.1h1.07M460.8 96.1h1.07M464.0 96.1h1.07M494.0 96.1h1.07M490.8 98.3h1.07M504.7 98.3h1.07M452.2 100.6h1.07M457.6 100.6h1.07M483.3 100.6h1.07M492.9 100.6h2.14M503.7 102.8h1.07M457.6 105.1h1.07M460.8 105.1h1.07M474.7 105.1h1.07M476.9 105.1h2.14M494.0 105.1h1.07M474.7 107.4h1.07M490.8 107.4h1.07M494.0 107.4h1.07M503.7 107.4h1.07M458.7 109.6h1.07M472.6 109.6h1.07M481.2 109.6h1.07M483.3 109.6h1.07M489.7 109.6h1.07M495.1 109.6h1.07M504.7 109.6h1.07M460.8 111.9h1.07M464.0 111.9h2.14M471.5 111.9h1.07M476.9 111.9h1.07M451.2 114.2h1.07M464.0 114.2h1.07M475.8 114.2h1.07M481.2 114.2h1.07M483.3 114.2h1.07M494.0 114.2h1.07M456.5 116.4h1.07M468.3 116.4h1.07M471.5 116.4h1.07M481.2 116.4h1.07M494.0 116.4h1.07M456.5 118.7h1.07M475.8 118.7h1.07M476.9 120.9h1.07M481.2 120.9h1.07M487.6 120.9h1.07M451.2 123.2h1.07M456.5 123.2h1.07M472.6 123.2h1.07M475.8 123.2h1.07M478.0 123.2h2.14M483.3 123.2h1.07M488.7 123.2h1.07M501.5 123.2h1.07M450.1 125.5h1.07M457.6 125.5h1.07M466.2 125.5h1.07M475.8 125.5h1.07M489.7 125.5h1.07M502.6 125.5h1.07M504.7 125.5h1.07M452.2 127.7h1.07M474.7 127.7h1.07M483.3 127.7h1.07M465.1 130.0h1.07M467.2 130.0h1.07M470.5 130.0h1.07M479.0 130.0h1.07M481.2 130.0h2.14M486.5 130.0h1.07M492.9 130.0h1.07M499.4 130.0h1.07M469.4 132.3h1.07M471.5 132.3h1.07M480.1 132.3h1.07M497.2 132.3h1.07M457.6 134.5h1.07M463.0 134.5h1.07M470.5 134.5h1.07M472.6 134.5h1.07M480.1 134.5h1.07M495.1 134.5h1.07M457.6 136.8h1.07M459.7 136.8h2.14M469.4 136.8h1.07M472.6 136.8h1.07M475.8 136.8h2.14M483.3 136.8h1.07M486.5 136.8h1.07M490.8 136.8h1.07M492.9 136.8h2.14M451.2 139.0h1.07M457.6 139.0h1.07M466.2 139.0h1.07M469.4 139.0h1.07M471.5 139.0h1.07M484.4 139.0h1.07M488.7 139.0h1.07M490.8 139.0h1.07M495.1 139.0h1.07M501.5 139.0h1.07M457.6 141.3h1.07M459.7 141.3h1.07M467.2 141.3h1.07M475.8 141.3h1.07M495.1 141.3h1.07M457.6 143.6h1.07M468.3 143.6h1.07M470.5 143.6h1.07M473.7 143.6h1.07M482.2 143.6h1.07M484.4 143.6h1.07M495.1 143.6h1.07M503.7 143.6h1.07" stroke="rgb(2, 1, 30)" stroke-width="2.31" fill="none"/>
<path d="M352.2 145.8h4.31M358.7 145.8h2.15M366.2 145.8h1.08M373.7 145.8h1.08M375.9 145.8h1.08M406.0 145.8h1.08M410.3 145.8h1.08M415.7 145.8h1.08M421.1 145.8h1.08M424.3 145.8h1.08M352.2 148.1h2.15M358.7 148.1h3.23M364.0 148.1h1.08M368.4 148.1h1.08M372.7 148.1h1.08M387.7 148.1h2.15M392.0 148.1h1.08M394.2 148.1h1.08M399.6 148.1h1.08M407.1 148.1h1.08M409.3 148.1h1.08M422.2 148.1h1.08M430.8 148.1h1.08M433.0 148.1h1.08M438.3 148.1h1.08M356.5 150.3h2.15M367.3 150.3h1.08M375.9 150.3h1.08M378.0 150.3h1.08M384.5 150.3h1.08M391.0 150.3h1.08M396.3 150.3h1.08M399.6 150.3h1.08M405.0 150.3h1.08M417.9 150.3h1.08M420.0 150.3h2.15M428.6 150.3h1.08M430.8 150.3h1.08M433.0 150.3h2.15M438.3 150.3h1.08M356.5 152.6h1.08M400.6 152.6h1.08M406.0 152.6h1.08M408.2 152.6h1.08M417.9 152.6h1.08M420.0 152.6h1.08M423.3 152.6h1.08M428.6 152.6h1.08M444.8 152.6h1.08M448.0 152.6h1.08M353.3 154.8h1.08M357.6 154.8h1.08M368.4 154.8h1.08M379.1 154.8h1.08M388.8 154.8h1.08M392.0 154.8h1.08M442.6 154.8h1.08M446.9 154.8h1.08M354.4 157.1h1.08M356.5 157.1h1.08M360.8 157.1h1.08M363.0 157.1h1.08M381.3 157.1h1.08M384.5 157.1h1.08M389.9 157.1h2.15M402.8 157.1h1.08M408.2 157.1h1.08M420.0 157.1h1.08M423.3 157.1h1.08M434.0 157.1h1.08M440.5 157.1h2.15M444.8 157.1h3.23M357.6 159.3h1.08M359.7 159.3h1.08M375.9 159.3h1.08M383.4 159.3h1.08M388.8 159.3h1.08M430.8 159.3h1.08M433.0 159.3h1.08M437.3 159.3h1.08M356.5 161.6h5.38M371.6 161.6h1.08M375.9 161.6h1.08M384.5 161.6h1.08M391.0 161.6h1.08M394.2 161.6h1.08M399.6 161.6h1.08M402.8 161.6h1.08M428.6 161.6h1.08M441.6 161.6h3.23M357.6 163.9h1.08M386.7 163.9h1.08M400.6 163.9h1.08M410.3 163.9h1.08M441.6 163.9h1.08M352.2 166.1h1.08M354.4 166.1h1.08M359.7 166.1h1.08M368.4 166.1h1.08M370.5 166.1h1.08M375.9 166.1h1.08M388.8 166.1h2.15M410.3 166.1h1.08M414.6 166.1h1.08M427.6 166.1h1.08M430.8 166.1h1.08M448.0 166.1h1.08M356.5 168.4h2.15M361.9 168.4h1.08M366.2 168.4h1.08M375.9 168.4h1.08M380.2 168.4h1.08M393.1 168.4h1.08M396.3 168.4h1.08M412.5 168.4h1.08M414.6 168.4h1.08M421.1 168.4h1.08M428.6 168.4h2.15M441.6 168.4h1.08M444.8 168.4h3.23M379.1 170.6h2.15M399.6 170.6h1.08M403.9 170.6h1.08M410.3 170.6h1.08M421.1 170.6h2.15M427.6 170.6h2.15M433.0 170.6h2.15M438.3 170.6h2.15M443.7 170.6h1.08M352.2 172.9h1.08M356.5 172.9h3.23M368.4 172.9h1.08M370.5 172.9h1.08M373.7 172.9h1.08M375.9 172.9h1.08M389.9 172.9h1.08M399.6 172.9h2.15M417.9 172.9h1.08M420.0 172.9h1.08M433.0 172.9h1.08M443.7 172.9h2.15M446.9 172.9h1.08M354.4 175.1h2.15M358.7 175.1h1.08M368.4 175.1h1.08M377.0 175.1h1.08M380.2 175.1h2.15M389.9 175.1h1.08M399.6 175.1h1.08M417.9 175.1h1.08M444.8 175.1h1.08M446.9 175.1h2.15M352.2 177.4h2.15M358.7 177.4h1.08M361.9 177.4h1.08M368.4 177.4h1.08M407.1 177.4h2.15M421.1 177.4h1.08M427.6 177.4h1.08M431.9 177.4h1.08M352.2 179.6h3.23M356.5 179.6h2.15M381.3 179.6h1.08M388.8 179.6h1.08M400.6 179.6h1.08M417.9 179.6h1.08M427.6 179.6h1.08M429.7 179.6h1.08M448.0 179.6h1.08M353.3 181.9h1.08M357.6 181.9h2.15M361.9 181.9h1.08M364.0 181.9h1.08M377.0 181.9h1.08M381.3 181.9h1.08M398.5 181.9h1.08M417.9 181.9h1.08M420.0 181.9h1.08M422.2 181.9h1.08M424.3 181.9h2.15M428.6 181.9h1.08M441.6 181.9h1.08M443.7 181.9h2.15M353.3 184.1h1.08M360.8 184.1h1.08M368.4 184.1h1.08M370.5 184.1h1.08M373.7 184.1h1.08M392.0 184.1h1.08M400.6 184.1h1.08M417.9 184.1h1.08M424.3 184.1h1.08M430.8 184.1h1.08M448.0 184.1h1.08M352.2 186.4h1.08M354.4 186.4h1.08M357.6 186.4h1.08M361.9 186.4h1.08M370.5 186.4h1.08M407.1 186.4h1.08M427.6 186.4h1.08M429.7 186.4h1.08M436.2 186.4h1.08M438.3 186.4h1.08M446.9 186.4h1.08M353.3 188.6h1.08M355.4 188.6h1.08M361.9 188.6h1.08M372.7 188.6h1.08M388.8 188.6h1.08M415.7 188.6h1.08M422.2 188.6h2.15M434.0 188.6h1.08M368.4 190.9h1.08M373.7 190.9h1.08M378.0 190.9h1.08M380.2 190.9h1.08M384.5 190.9h1.08M387.7 190.9h2.15M399.6 190.9h1.08M403.9 190.9h1.08M408.2 190.9h1.08M412.5 190.9h1.08M424.3 190.9h1.08M426.5 190.9h1.08M428.6 190.9h2.15M434.0 190.9h2.15M437.3 190.9h1.08M440.5 190.9h2.15M444.8 190.9h1.08M448.0 190.9h1.08M353.3 193.2h1.08M355.4 193.2h1.08M361.9 193.2h1.08M370.5 193.2h1.08M420.0 193.2h1.08M435.1 193.2h1.08M443.7 193.2h1.08M446.9 193.2h1.08M367.3 195.4h1.08M370.5 195.4h1.08M375.9 195.4h1.08M385.6 195.4h1.08M393.1 195.4h1.08M396.3 195.4h1.08M398.5 195.4h1.08M406.0 195.4h1.08M411.4 195.4h1.08M422.2 195.4h1.08M427.6 195.4h1.08M433.0 195.4h1.08M438.3 195.4h1.08M441.6 195.4h1.08M354.4 197.7h1.08M364.0 197.7h1.08M367.3 197.7h1.08M369.4 197.7h1.08M386.7 197.7h1.08M388.8 197.7h1.08M391.0 197.7h1.08M398.5 197.7h1.08M409.3 197.7h1.08M420.0 197.7h2.15M423.3 197.7h1.08M434.0 197.7h1.08M437.3 197.7h1.08M441.6 197.7h1.08M446.9 197.7h2.15M353.3 199.9h1.08M355.4 199.9h1.08M357.6 199.9h2.15M373.7 199.9h1.08M375.9 199.9h1.08M386.7 199.9h1.08M394.2 199.9h1.08M406.0 199.9h2.15M409.3 199.9h1.08M420.0 199.9h1.08M443.7 199.9h1.08M448.0 199.9h1.08M361.9 202.2h1.08M368.4 202.2h1.08M389.9 202.2h1.08M400.6 202.2h1.08M416.8 202.2h2.15M424.3 202.2h1.08M427.6 202.2h1.08M429.7 202.2h1.08M434.0 202.2h1.08M437.3 202.2h2.15M440.5 202.2h1.08M359.7 204.4h1.08M365.1 204.4h1.08M368.4 204.4h1.08M373.7 204.4h1.08M375.9 204.4h1.08M383.4 204.4h1.08M385.6 204.4h1.08M389.9 204.4h1.08M395.3 204.4h1.08M411.4 204.4h1.08M420.0 204.4h2.15M424.3 204.4h1.08M426.5 204.4h1.08M428.6 204.4h1.08M430.8 204.4h1.08M442.6 204.4h2.15M356.5 206.7h1.08M371.6 206.7h1.08M378.0 206.7h1.08M385.6 206.7h1.08M388.8 206.7h1.08M399.6 206.7h1.08M408.2 206.7h1.08M411.4 206.7h1.08M420.0 206.7h1.08M423.3 206.7h1.08M427.6 206.7h1.08M433.0 206.7h1.08M435.1 206.7h1.08M438.3 206.7h1.08M451.2 145.8h1.07M459.7 145.8h2.14M465.1 145.8h2.14M470.5 145.8h1.07M481.2 145.8h1.07M484.4 145.8h1.07M501.5 145.8h1.07M453.3 148.1h1.07M457.6 148.1h1.07M463.0 148.1h2.14M482.2 148.1h1.07M452.2 150.3h2.14M463.0 150.3h1.07M468.3 150.3h1.07M474.7 150.3h1.07M480.1 150.3h1.07M483.3 150.3h1.07M499.4 150.3h2.14M453.3 152.6h2.14M456.5 152.6h3.21M470.5 152.6h1.07M472.6 152.6h1.07M483.3 152.6h1.07M499.4 152.6h1.07M452.2 154.8h1.07M456.5 154.8h2.14M468.3 154.8h1.07M484.4 154.8h1.07M498.3 154.8h1.07M502.6 154.8h1.07M504.7 154.8h1.07M451.2 157.1h1.07M453.3 157.1h1.07M458.7 157.1h1.07M460.8 157.1h1.07M472.6 157.1h1.07M503.7 157.1h1.07M453.3 159.3h1.07M455.5 159.3h1.07M463.0 159.3h1.07M471.5 159.3h1.07M474.7 159.3h1.07M480.1 159.3h1.07M490.8 159.3h1.07M503.7 159.3h1.07M453.3 161.6h1.07M456.5 161.6h1.07M487.6 161.6h1.07M502.6 161.6h1.07M454.4 163.9h1.07M456.5 163.9h2.14M460.8 163.9h1.07M484.4 163.9h1.07M487.6 163.9h1.07M453.3 166.1h1.07M456.5 166.1h1.07M471.5 166.1h1.07M479.0 166.1h1.07M452.2 168.4h1.07M464.0 168.4h1.07M474.7 168.4h1.07M479.0 168.4h2.14M488.7 168.4h1.07M451.2 170.6h1.07M474.7 170.6h1.07M480.1 170.6h1.07M497.2 170.6h1.07M452.2 172.9h2.14M456.5 172.9h1.07M458.7 172.9h1.07M499.4 172.9h1.07M503.7 172.9h1.07M459.7 175.1h1.07M471.5 175.1h1.07M479.0 175.1h1.07M499.4 175.1h1.07M452.2 177.4h2.14M470.5 177.4h1.07M450.1 179.6h3.21M463.0 179.6h1.07M479.0 179.6h1.07M456.5 181.9h1.07M467.2 181.9h1.07M478.0 181.9h2.14M450.1 184.1h1.07M453.3 184.1h1.07M457.6 184.1h2.14M460.8 184.1h1.07M464.0 184.1h1.07M480.1 184.1h1.07M482.2 184.1h1.07M484.4 184.1h1.07M499.4 184.1h1.07M453.3 186.4h1.07M482.2 186.4h1.07M503.7 186.4h1.07M452.2 188.6h1.07M456.5 188.6h1.07M460.8 188.6h1.07M472.6 188.6h1.07M487.6 188.6h1.07M498.3 188.6h1.07M451.2 190.9h1.07M454.4 190.9h1.07M456.5 190.9h1.07M464.0 190.9h1.07M479.0 190.9h1.07M482.2 190.9h2.14M458.7 193.2h1.07M468.3 193.2h1.07M482.2 193.2h3.21M451.2 195.4h2.14M454.4 195.4h1.07M456.5 195.4h1.07M459.7 195.4h1.07M482.2 195.4h1.07M498.3 195.4h2.14M454.4 197.7h1.07M459.7 197.7h1.07M474.7 197.7h1.07M481.2 197.7h1.07M500.4 197.7h1.07M504.7 197.7h1.07M451.2 199.9h1.07M453.3 199.9h1.07M464.0 199.9h1.07M474.7 199.9h1.07M482.2 199.9h1.07M451.2 202.2h2.14M465.1 202.2h1.07M470.5 202.2h1.07M472.6 202.2h1.07M489.7 202.2h1.07M451.2 204.4h1.07M453.3 204.4h1.07M456.5 204.4h1.07M479.0 204.4h1.07M452.2 206.7h2.14M456.5 206.7h1.07M460.8 206.7h2.14M479.0 206.7h1.07M503.7 206.7h1.07" stroke="rgb(2, 1, 30)" stroke-width="2.30" fill="none"/>
<path d="M355.4 55.3h1.08M360.8 55.3h1.08M369.4 55.3h1.08M371.6 55.3h2.15M375.9 55.3h1.08M381.3 55.3h1.08M386.7 55.3h4.31M392.0 55.3h1.08M408.2 55.3h1.08M416.8 55.3h1.08M422.2 55.3h1.08M428.6 55.3h2.15M435.1 55.3h1.08M440.5 55.3h1.08M444.8 55.3h1.08M355.4 57.6h1.08M357.6 57.6h1.08M359.7 57.6h1.08M361.9 57.6h1.08M367.3 57.6h4.31M372.7 57.6h2.15M377.0 57.6h2.15M381.3 57.6h1.08M392.0 57.6h1.08M397.4 57.6h1.08M409.3 57.6h1.08M414.6 57.6h1.08M430.8 57.6h1.08M440.5 57.6h1.08M443.7 57.6h1.08M353.3 59.9h2.15M358.7 59.9h1.08M360.8 59.9h1.08M364.0 59.9h3.23M369.4 59.9h3.23M373.7 59.9h1.08M379.1 59.9h1.08M381.3 59.9h1.08M384.5 59.9h2.15M389.9 59.9h1.08M393.1 59.9h1.08M396.3 59.9h2.15M399.6 59.9h1.08M402.8 59.9h1.08M408.2 59.9h1.08M412.5 59.9h1.08M419.0 59.9h2.15M422.2 59.9h1.08M435.1 59.9h1.08M438.3 59.9h1.08M355.4 62.1h1.08M363.0 62.1h1.08M367.3 62.1h2.15M372.7 62.1h1.08M387.7 62.1h1.08M389.9 62.1h1.08M392.0 62.1h1.08M394.2 62.1h1.08M396.3 62.1h1.08M399.6 62.1h1.08M406.0 62.1h1.08M412.5 62.1h1.08M414.6 62.1h2.15M417.9 62.1h1.08M424.3 62.1h1.08M435.1 62.1h1.08M439.4 62.1h3.23M445.9 62.1h3.23M356.5 64.4h2.15M361.9 64.4h1.08M364.0 64.4h1.08M368.4 64.4h1.08M371.6 64.4h3.23M375.9 64.4h1.08M380.2 64.4h3.23M385.6 64.4h1.08M388.8 64.4h1.08M391.0 64.4h2.15M395.3 64.4h1.08M400.6 64.4h1.08M402.8 64.4h6.46M411.4 64.4h1.08M419.0 64.4h2.15M426.5 64.4h2.15M430.8 64.4h1.08M433.0 64.4h1.08M437.3 64.4h1.08M443.7 64.4h1.08M445.9 64.4h3.23M353.3 66.6h1.08M355.4 66.6h1.08M357.6 66.6h1.08M370.5 66.6h1.08M375.9 66.6h2.15M379.1 66.6h3.23M384.5 66.6h1.08M387.7 66.6h1.08M391.0 66.6h4.31M397.4 66.6h1.08M400.6 66.6h1.08M402.8 66.6h2.15M407.1 66.6h1.08M409.3 66.6h1.08M413.6 66.6h1.08M417.9 66.6h1.08M422.2 66.6h1.08M424.3 66.6h1.08M427.6 66.6h1.08M436.2 66.6h1.08M440.5 66.6h1.08M442.6 66.6h2.15M352.2 68.9h1.08M354.4 68.9h1.08M365.1 68.9h1.08M370.5 68.9h2.15M373.7 68.9h1.08M375.9 68.9h1.08M379.1 68.9h1.08M397.4 68.9h1.08M408.2 68.9h1.08M415.7 68.9h1.08M419.0 68.9h1.08M421.1 68.9h1.08M426.5 68.9h1.08M428.6 68.9h1.08M430.8 68.9h2.15M436.2 68.9h2.15M439.4 68.9h1.08M442.6 68.9h1.08M446.9 68.9h2.15M353.3 71.2h2.15M360.8 71.2h2.15M364.0 71.2h1.08M367.3 71.2h2.15M370.5 71.2h1.08M374.8 71.2h1.08M386.7 71.2h1.08M391.0 71.2h1.08M394.2 71.2h3.23M399.6 71.2h2.15M410.3 71.2h3.23M419.0 71.2h1.08M421.1 71.2h2.15M429.7 71.2h1.08M433.0 71.2h1.08M438.3 71.2h1.08M440.5 71.2h2.15M445.9 71.2h1.08M352.2 73.4h1.08M358.7 73.4h1.08M360.8 73.4h1.08M363.0 73.4h1.08M365.1 73.4h1.08M368.4 73.4h1.08M371.6 73.4h1.08M374.8 73.4h1.08M378.0 73.4h1.08M381.3 73.4h1.08M383.4 73.4h1.08M385.6 73.4h2.15M389.9 73.4h2.15M395.3 73.4h1.08M400.6 73.4h1.08M409.3 73.4h1.08M414.6 73.4h1.08M422.2 73.4h1.08M424.3 73.4h1.08M426.5 73.4h1.08M435.1 73.4h1.08M353.3 75.7h2.15M364.0 75.7h1.08M369.4 75.7h1.08M371.6 75.7h2.15M378.0 75.7h1.08M384.5 75.7h2.15M391.0 75.7h1.08M402.8 75.7h1.08M413.6 75.7h1.08M415.7 75.7h5.38M424.3 75.7h2.15M428.6 75.7h1.08M441.6 75.7h1.08M443.7 75.7h1.08M448.0 75.7h1.08M352.2 78.0h1.08M359.7 78.0h1.08M361.9 78.0h3.23M369.4 78.0h2.15M373.7 78.0h2.15M377.0 78.0h3.23M382.3 78.0h1.08M385.6 78.0h1.08M392.0 78.0h2.15M395.3 78.0h2.15M398.5 78.0h1.08M400.6 78.0h1.08M406.0 78.0h4.31M412.5 78.0h1.08M416.8 78.0h1.08M420.0 78.0h2.15M423.3 78.0h1.08M434.0 78.0h1.08M448.0 78.0h1.08M353.3 80.2h2.15M356.5 80.2h1.08M359.7 80.2h1.08M364.0 80.2h2.15M369.4 80.2h1.08M371.6 80.2h1.08M374.8 80.2h2.15M379.1 80.2h1.08M382.3 80.2h1.08M388.8 80.2h2.15M392.0 80.2h4.31M398.5 80.2h1.08M403.9 80.2h1.08M406.0 80.2h1.08M411.4 80.2h1.08M414.6 80.2h2.15M423.3 80.2h1.08M430.8 80.2h1.08M434.0 80.2h1.08M436.2 80.2h1.08M438.3 80.2h2.15M441.6 80.2h2.15M444.8 80.2h1.08M448.0 80.2h1.08M353.3 82.5h1.08M355.4 82.5h1.08M361.9 82.5h4.31M370.5 82.5h1.08M375.9 82.5h1.08M380.2 82.5h3.23M384.5 82.5h2.15M391.0 82.5h3.23M397.4 82.5h1.08M402.8 82.5h2.15M406.0 82.5h1.08M412.5 82.5h1.08M414.6 82.5h1.08M417.9 82.5h1.08M425.4 82.5h3.23M431.9 82.5h3.23M439.4 82.5h1.08M441.6 82.5h1.08M444.8 82.5h1.08M352.2 84.7h1.08M354.4 84.7h1.08M356.5 84.7h1.08M363.0 84.7h1.08M367.3 84.7h1.08M371.6 84.7h1.08M379.1 84.7h1.08M384.5 84.7h1.08M388.8 84.7h3.23M393.1 84.7h2.15M402.8 84.7h1.08M405.0 84.7h1.08M407.1 84.7h1.08M413.6 84.7h2.15M425.4 84.7h2.15M433.0 84.7h1.08M438.3 84.7h1.08M445.9 84.7h1.08M353.3 87.0h3.23M363.0 87.0h1.08M368.4 87.0h2.15M373.7 87.0h1.08M377.0 87.0h1.08M381.3 87.0h1.08M384.5 87.0h1.08M389.9 87.0h1.08M395.3 87.0h1.08M397.4 87.0h1.08M409.3 87.0h1.08M413.6 87.0h2.15M416.8 87.0h1.08M421.1 87.0h1.08M430.8 87.0h1.08M433.0 87.0h3.23M439.4 87.0h1.08M443.7 87.0h1.08M448.0 87.0h1.08M353.3 89.3h1.08M357.6 89.3h2.15M363.0 89.3h1.08M365.1 89.3h1.08M368.4 89.3h1.08M373.7 89.3h1.08M378.0 89.3h1.08M384.5 89.3h1.08M386.7 89.3h2.15M393.1 89.3h1.08M395.3 89.3h1.08M397.4 89.3h1.08M401.7 89.3h1.08M403.9 89.3h1.08M406.0 89.3h2.15M410.3 89.3h1.08M413.6 89.3h1.08M419.0 89.3h1.08M422.2 89.3h1.08M429.7 89.3h3.23M435.1 89.3h1.08M439.4 89.3h1.08M445.9 89.3h1.08M353.3 91.5h2.15M357.6 91.5h2.15M365.1 91.5h2.15M370.5 91.5h2.15M378.0 91.5h1.08M381.3 91.5h1.08M392.0 91.5h3.23M397.4 91.5h2.15M400.6 91.5h2.15M406.0 91.5h1.08M408.2 91.5h2.15M411.4 91.5h1.08M413.6 91.5h1.08M421.1 91.5h1.08M424.3 91.5h1.08M426.5 91.5h1.08M428.6 91.5h1.08M433.0 91.5h1.08M435.1 91.5h1.08M439.4 91.5h1.08M442.6 91.5h1.08M445.9 91.5h1.08M448.0 91.5h1.08M360.8 93.8h1.08M364.0 93.8h1.08M366.2 93.8h2.15M373.7 93.8h1.08M377.0 93.8h1.08M383.4 93.8h1.08M385.6 93.8h1.08M391.0 93.8h1.08M393.1 93.8h1.08M395.3 93.8h1.08M397.4 93.8h1.08M401.7 93.8h1.08M406.0 93.8h1.08M411.4 93.8h1.08M414.6 93.8h1.08M420.0 93.8h1.08M422.2 93.8h1.08M424.3 93.8h3.23M428.6 93.8h1.08M430.8 93.8h1.08M433.0 93.8h2.15M437.3 93.8h1.08M439.4 93.8h1.08M442.6 93.8h2.15M445.9 93.8h1.08M448.0 93.8h1.08M357.6 96.1h1.08M363.0 96.1h1.08M366.2 96.1h1.08M373.7 96.1h1.08M378.0 96.1h2.15M382.3 96.1h1.08M385.6 96.1h1.08M387.7 96.1h1.08M395.3 96.1h1.08M397.4 96.1h2.15M402.8 96.1h1.08M405.0 96.1h2.15M412.5 96.1h3.23M419.0 96.1h3.23M424.3 96.1h3.23M430.8 96.1h2.15M434.0 96.1h1.08M436.2 96.1h1.08M439.4 96.1h1.08M445.9 96.1h1.08M356.5 98.3h1.08M391.0 98.3h1.08M394.2 98.3h2.15M397.4 98.3h1.08M399.6 98.3h1.08M405.0 98.3h1.08M408.2 98.3h1.08M410.3 98.3h1.08M412.5 98.3h1.08M423.3 98.3h1.08M426.5 98.3h1.08M429.7 98.3h1.08M434.0 98.3h1.08M440.5 98.3h1.08M445.9 98.3h1.08M359.7 100.6h1.08M365.1 100.6h1.08M367.3 100.6h2.15M372.7 100.6h2.15M379.1 100.6h1.08M385.6 100.6h2.15M391.0 100.6h1.08M396.3 100.6h1.08M401.7 100.6h2.15M405.0 100.6h1.08M407.1 100.6h1.08M413.6 100.6h1.08M421.1 100.6h1.08M437.3 100.6h3.23M443.7 100.6h1.08M446.9 100.6h1.08M353.3 102.8h2.15M356.5 102.8h1.08M359.7 102.8h1.08M363.0 102.8h2.15M370.5 102.8h2.15M373.7 102.8h1.08M375.9 102.8h1.08M379.1 102.8h2.15M386.7 102.8h1.08M396.3 102.8h1.08M399.6 102.8h2.15M405.0 102.8h2.15M411.4 102.8h1.08M413.6 102.8h2.15M417.9 102.8h1.08M421.1 102.8h2.15M424.3 102.8h3.23M429.7 102.8h1.08M435.1 102.8h4.31M441.6 102.8h3.23M448.0 102.8h1.08M352.2 105.1h1.08M357.6 105.1h1.08M360.8 105.1h1.08M364.0 105.1h3.23M375.9 105.1h1.08M379.1 105.1h1.08M381.3 105.1h1.08M391.0 105.1h2.15M395.3 105.1h1.08M399.6 105.1h3.23M405.0 105.1h1.08M407.1 105.1h1.08M410.3 105.1h1.08M412.5 105.1h2.15M419.0 105.1h1.08M422.2 105.1h1.08M426.5 105.1h1.08M434.0 105.1h1.08M443.7 105.1h1.08M354.4 107.4h1.08M356.5 107.4h1.08M358.7 107.4h1.08M363.0 107.4h1.08M365.1 107.4h1.08M367.3 107.4h1.08M372.7 107.4h3.23M377.0 107.4h1.08M382.3 107.4h1.08M386.7 107.4h1.08M393.1 107.4h2.15M396.3 107.4h2.15M400.6 107.4h1.08M402.8 107.4h1.08M405.0 107.4h2.15M412.5 107.4h1.08M421.1 107.4h1.08M431.9 107.4h1.08M434.0 107.4h1.08M440.5 107.4h1.08M443.7 107.4h1.08M352.2 109.6h1.08M358.7 109.6h1.08M360.8 109.6h1.08M363.0 109.6h4.31M370.5 109.6h1.08M372.7 109.6h2.15M375.9 109.6h2.15M383.4 109.6h1.08M386.7 109.6h1.08M388.8 109.6h1.08M393.1 109.6h2.15M396.3 109.6h1.08M401.7 109.6h1.08M403.9 109.6h2.15M411.4 109.6h2.15M417.9 109.6h2.15M422.2 109.6h1.08M426.5 109.6h1.08M429.7 109.6h1.08M433.0 109.6h2.15M441.6 109.6h2.15M355.4 111.9h3.23M367.3 111.9h1.08M371.6 111.9h1.08M379.1 111.9h1.08M381.3 111.9h1.08M385.6 111.9h1.08M393.1 111.9h1.08M396.3 111.9h3.23M401.7 111.9h1.08M409.3 111.9h2.15M412.5 111.9h1.08M414.6 111.9h1.08M422.2 111.9h1.08M429.7 111.9h1.08M436.2 111.9h1.08M439.4 111.9h3.23M354.4 114.2h1.08M361.9 114.2h1.08M368.4 114.2h1.08M371.6 114.2h1.08M393.1 114.2h1.08M396.3 114.2h1.08M411.4 114.2h2.15M414.6 114.2h1.08M429.7 114.2h1.08M443.7 114.2h1.08M352.2 116.4h1.08M354.4 116.4h1.08M357.6 116.4h2.15M361.9 116.4h1.08M365.1 116.4h1.08M372.7 116.4h1.08M377.0 116.4h1.08M381.3 116.4h1.08M389.9 116.4h1.08M392.0 116.4h2.15M395.3 116.4h5.38M402.8 116.4h1.08M411.4 116.4h1.08M416.8 116.4h1.08M419.0 116.4h1.08M421.1 116.4h2.15M424.3 116.4h1.08M428.6 116.4h1.08M435.1 116.4h1.08M444.8 116.4h1.08M446.9 116.4h2.15M356.5 118.7h1.08M359.7 118.7h1.08M361.9 118.7h1.08M365.1 118.7h1.08M367.3 118.7h1.08M371.6 118.7h1.08M375.9 118.7h1.08M379.1 118.7h2.15M383.4 118.7h4.31M389.9 118.7h1.08M394.2 118.7h1.08M400.6 118.7h1.08M402.8 118.7h2.15M406.0 118.7h2.15M412.5 118.7h1.08M415.7 118.7h2.15M425.4 118.7h1.08M435.1 118.7h1.08M437.3 118.7h1.08M440.5 118.7h2.15M445.9 118.7h1.08M352.2 120.9h2.15M358.7 120.9h1.08M365.1 120.9h2.15M368.4 120.9h1.08M374.8 120.9h1.08M377.0 120.9h1.08M379.1 120.9h1.08M382.3 120.9h1.08M385.6 120.9h1.08M395.3 120.9h2.15M398.5 120.9h1.08M400.6 120.9h1.08M403.9 120.9h1.08M406.0 120.9h1.08M410.3 120.9h1.08M412.5 120.9h5.38M421.1 120.9h1.08M424.3 120.9h2.15M428.6 120.9h1.08M437.3 120.9h1.08M448.0 120.9h1.08M352.2 123.2h2.15M363.0 123.2h1.08M379.1 123.2h1.08M381.3 123.2h1.08M387.7 123.2h1.08M392.0 123.2h1.08M394.2 123.2h1.08M396.3 123.2h2.15M405.0 123.2h1.08M414.6 123.2h1.08M426.5 123.2h1.08M429.7 123.2h2.15M439.4 123.2h1.08M441.6 123.2h4.31M354.4 125.5h1.08M358.7 125.5h2.15M363.0 125.5h1.08M367.3 125.5h2.15M372.7 125.5h1.08M379.1 125.5h3.23M383.4 125.5h1.08M394.2 125.5h1.08M400.6 125.5h1.08M402.8 125.5h5.38M410.3 125.5h1.08M413.6 125.5h1.08M415.7 125.5h1.08M419.0 125.5h1.08M425.4 125.5h1.08M427.6 125.5h1.08M436.2 125.5h1.08M448.0 125.5h1.08M355.4 127.7h1.08M363.0 127.7h2.15M371.6 127.7h1.08M373.7 127.7h1.08M375.9 127.7h1.08M379.1 127.7h1.08M381.3 127.7h1.08M387.7 127.7h1.08M393.1 127.7h1.08M395.3 127.7h1.08M397.4 127.7h2.15M406.0 127.7h8.61M415.7 127.7h1.08M428.6 127.7h1.08M431.9 127.7h1.08M435.1 127.7h1.08M440.5 127.7h1.08M443.7 127.7h1.08M445.9 127.7h2.15M352.2 130.0h1.08M363.0 130.0h1.08M373.7 130.0h1.08M377.0 130.0h2.15M386.7 130.0h1.08M391.0 130.0h1.08M394.2 130.0h1.08M396.3 130.0h2.15M403.9 130.0h1.08M406.0 130.0h1.08M412.5 130.0h1.08M414.6 130.0h2.15M419.0 130.0h1.08M422.2 130.0h1.08M425.4 130.0h2.15M429.7 130.0h2.15M445.9 130.0h1.08M448.0 130.0h1.08M353.3 132.3h1.08M355.4 132.3h1.08M369.4 132.3h1.08M371.6 132.3h2.15M374.8 132.3h1.08M379.1 132.3h1.08M399.6 132.3h1.08M402.8 132.3h1.08M408.2 132.3h1.08M412.5 132.3h4.31M417.9 132.3h1.08M420.0 132.3h1.08M423.3 132.3h2.15M428.6 132.3h2.15M436.2 132.3h1.08M448.0 132.3h1.08M352.2 134.5h1.08M354.4 134.5h1.08M358.7 134.5h2.15M365.1 134.5h2.15M373.7 134.5h1.08M382.3 134.5h1.08M391.0 134.5h1.08M393.1 134.5h1.08M403.9 134.5h3.23M410.3 134.5h1.08M412.5 134.5h2.15M415.7 134.5h1.08M421.1 134.5h2.15M426.5 134.5h1.08M430.8 134.5h1.08M436.2 134.5h1.08M438.3 134.5h1.08M441.6 134.5h1.08M448.0 134.5h1.08M359.7 136.8h1.08M365.1 136.8h3.23M369.4 136.8h1.08M372.7 136.8h1.08M374.8 136.8h3.23M379.1 136.8h1.08M387.7 136.8h1.08M389.9 136.8h1.08M395.3 136.8h2.15M400.6 136.8h2.15M406.0 136.8h1.08M413.6 136.8h1.08M419.0 136.8h1.08M421.1 136.8h2.15M424.3 136.8h1.08M429.7 136.8h1.08M442.6 136.8h5.38M353.3 139.0h1.08M356.5 139.0h2.15M360.8 139.0h2.15M365.1 139.0h2.15M369.4 139.0h1.08M377.0 139.0h1.08M379.1 139.0h1.08M382.3 139.0h1.08M385.6 139.0h2.15M391.0 139.0h2.15M395.3 139.0h1.08M402.8 139.0h1.08M405.0 139.0h2.15M409.3 139.0h1.08M413.6 139.0h1.08M419.0 139.0h2.15M433.0 139.0h3.23M437.3 139.0h3.23M353.3 141.3h1.08M360.8 141.3h1.08M364.0 141.3h1.08M366.2 141.3h1.08M368.4 141.3h1.08M370.5 141.3h1.08M377.0 141.3h3.23M384.5 141.3h1.08M389.9 141.3h1.08M392.0 141.3h1.08M401.7 141.3h3.23M406.0 141.3h1.08M414.6 141.3h1.08M421.1 141.3h2.15M436.2 141.3h2.15M440.5 141.3h1.08M442.6 141.3h1.08M446.9 141.3h2.15M355.4 143.6h2.15M359.7 143.6h2.15M363.0 143.6h2.15M368.4 143.6h1.08M372.7 143.6h2.15M377.0 143.6h2.15M382.3 143.6h1.08M385.6 143.6h2.15M389.9 143.6h2.15M395.3 143.6h1.08M400.6 143.6h1.08M403.9 143.6h2.15M408.2 143.6h1.08M410.3 143.6h1.08M415.7 143.6h1.08M422.2 143.6h1.08M424.3 143.6h1.08M430.8 143.6h2.15M434.0 143.6h2.15M437.3 143.6h4.31M442.6 143.6h1.08M483.3 66.6h1.07M490.8 73.4h1.07M494.0 78.0h1.07M463.0 82.5h1.07M467.2 93.8h1.07M483.3 98.3h1.07M471.5 102.8h1.07M484.4 102.8h1.07M492.9 105.1h1.07M495.1 107.4h1.07M495.1 114.2h1.07M498.3 118.7h1.07M457.6 120.9h1.07M489.7 136.8h1.07M503.7 136.8h1.07M491.9 139.0h1.07M496.2 139.0h1.07M471.5 141.3h1.07M476.9 141.3h1.07" stroke="rgb(6, 3, 69)" stroke-width="2.31" fill="none"/>
<path d="M356.5 145.8h2.15M368.4 145.8h1.08M409.3 145.8h1.08M443.7 145.8h1.08M445.9 145.8h1.08M448.0 145.8h1.08M356.5 148.1h1.08M429.7 148.1h1.08M446.9 148.1h1.08M364.0 150.3h1.08M373.7 150.3h1.08M388.8 150.3h1.08M409.3 150.3h2.15M429.7 150.3h1.08M446.9 150.3h2.15M352.2 152.6h4.31M358.7 152.6h1.08M442.6 152.6h2.15M445.9 152.6h2.15M354.4 154.8h3.23M441.6 154.8h1.08M352.2 157.1h1.08M355.4 157.1h1.08M375.9 157.1h1.08M394.2 157.1h1.08M400.6 157.1h1.08M424.3 157.1h1.08M426.5 157.1h2.15M433.0 157.1h1.08M352.2 159.3h2.15M355.4 159.3h2.15M361.9 159.3h1.08M381.3 159.3h1.08M394.2 159.3h1.08M396.3 159.3h1.08M400.6 159.3h1.08M354.4 161.6h1.08M361.9 161.6h1.08M396.3 161.6h1.08M424.3 161.6h2.15M429.7 161.6h2.15M436.2 161.6h1.08M438.3 161.6h1.08M352.2 163.9h2.15M356.5 163.9h1.08M358.7 163.9h1.08M375.9 163.9h1.08M415.7 163.9h1.08M420.0 163.9h1.08M423.3 163.9h1.08M430.8 163.9h1.08M443.7 163.9h1.08M446.9 163.9h1.08M353.3 166.1h1.08M355.4 166.1h1.08M361.9 166.1h1.08M409.3 166.1h1.08M426.5 166.1h1.08M433.0 166.1h1.08M446.9 166.1h1.08M448.0 168.4h1.08M352.2 170.6h1.08M356.5 170.6h1.08M359.7 170.6h1.08M361.9 170.6h1.08M381.3 170.6h1.08M385.6 170.6h1.08M420.0 170.6h1.08M445.9 170.6h1.08M354.4 172.9h1.08M419.0 172.9h1.08M423.3 172.9h1.08M434.0 172.9h1.08M353.3 175.1h1.08M356.5 175.1h2.15M369.4 175.1h1.08M375.9 175.1h1.08M408.2 175.1h2.15M420.0 175.1h1.08M428.6 175.1h1.08M354.4 177.4h1.08M356.5 177.4h1.08M382.3 177.4h1.08M388.8 177.4h1.08M394.2 177.4h1.08M420.0 177.4h1.08M355.4 179.6h1.08M358.7 179.6h1.08M396.3 179.6h1.08M424.3 179.6h1.08M440.5 179.6h2.15M354.4 181.9h1.08M356.5 181.9h1.08M409.3 181.9h1.08M423.3 181.9h1.08M426.5 181.9h1.08M446.9 181.9h1.08M352.2 184.1h1.08M354.4 184.1h1.08M394.2 184.1h1.08M399.6 184.1h1.08M406.0 184.1h1.08M409.3 184.1h1.08M421.1 184.1h1.08M428.6 184.1h1.08M433.0 184.1h1.08M441.6 184.1h1.08M355.4 186.4h2.15M385.6 186.4h1.08M388.8 186.4h1.08M423.3 186.4h1.08M448.0 186.4h1.08M354.4 188.6h1.08M357.6 188.6h1.08M396.3 188.6h1.08M412.5 188.6h1.08M421.1 188.6h1.08M437.3 188.6h1.08M445.9 188.6h2.15M352.2 190.9h1.08M354.4 190.9h2.15M357.6 190.9h1.08M364.0 190.9h1.08M375.9 190.9h1.08M394.2 190.9h1.08M396.3 190.9h1.08M402.8 190.9h1.08M407.1 190.9h1.08M420.0 190.9h1.08M427.6 190.9h1.08M443.7 190.9h1.08M445.9 190.9h1.08M352.2 193.2h1.08M354.4 193.2h1.08M356.5 193.2h1.08M366.2 193.2h1.08M368.4 193.2h1.08M375.9 193.2h1.08M415.7 193.2h1.08M353.3 195.4h1.08M355.4 195.4h2.15M358.7 195.4h1.08M409.3 195.4h1.08M417.9 195.4h1.08M420.0 195.4h1.08M445.9 195.4h1.08M352.2 197.7h2.15M355.4 197.7h1.08M357.6 197.7h2.15M375.9 197.7h1.08M445.9 197.7h1.08M352.2 199.9h1.08M356.5 199.9h1.08M387.7 199.9h1.08M421.1 199.9h1.08M428.6 199.9h1.08M441.6 199.9h1.08M352.2 202.2h1.08M354.4 202.2h2.15M381.3 202.2h1.08M394.2 202.2h1.08M409.3 202.2h1.08M428.6 202.2h1.08M433.0 202.2h1.08M441.6 202.2h1.08M446.9 202.2h1.08M352.2 204.4h5.38M370.5 204.4h1.08M381.3 204.4h2.15M409.3 204.4h1.08M419.0 204.4h1.08M441.6 204.4h1.08M446.9 204.4h2.15M361.9 206.7h1.08M389.9 206.7h1.08M407.1 206.7h1.08M409.3 206.7h1.08M424.3 206.7h1.08M428.6 206.7h1.08M441.6 206.7h1.08M446.9 206.7h1.08M450.1 145.8h1.07M452.2 145.8h2.14M456.5 145.8h1.07M458.7 145.8h1.07M464.0 145.8h1.07M471.5 145.8h1.07M475.8 145.8h1.07M480.1 145.8h1.07M483.3 145.8h1.07M485.4 145.8h1.07M497.2 145.8h1.07M500.4 145.8h1.07M502.6 145.8h3.21M451.2 148.1h1.07M458.7 148.1h4.28M467.2 148.1h1.07M470.5 148.1h1.07M476.9 148.1h3.21M483.3 148.1h2.14M487.6 148.1h1.07M497.2 148.1h3.21M502.6 148.1h1.07M504.7 148.1h1.07M450.1 150.3h1.07M456.5 150.3h1.07M458.7 150.3h1.07M466.2 150.3h1.07M472.6 150.3h1.07M478.0 150.3h1.07M482.2 150.3h1.07M484.4 150.3h1.07M489.7 150.3h1.07M496.2 150.3h1.07M502.6 150.3h2.14M452.2 152.6h1.07M459.7 152.6h1.07M461.9 152.6h2.14M465.1 152.6h1.07M468.3 152.6h1.07M474.7 152.6h2.14M478.0 152.6h1.07M481.2 152.6h2.14M484.4 152.6h1.07M490.8 152.6h2.14M498.3 152.6h1.07M501.5 152.6h4.28M450.1 154.8h1.07M453.3 154.8h1.07M458.7 154.8h1.07M461.9 154.8h1.07M466.2 154.8h1.07M471.5 154.8h2.14M474.7 154.8h1.07M476.9 154.8h1.07M483.3 154.8h1.07M487.6 154.8h1.07M491.9 154.8h1.07M496.2 154.8h1.07M499.4 154.8h3.21M503.7 154.8h1.07M454.4 157.1h3.21M461.9 157.1h1.07M464.0 157.1h1.07M467.2 157.1h1.07M474.7 157.1h2.14M478.0 157.1h1.07M482.2 157.1h1.07M484.4 157.1h2.14M487.6 157.1h1.07M495.1 157.1h1.07M497.2 157.1h1.07M504.7 157.1h1.07M450.1 159.3h1.07M456.5 159.3h2.14M459.7 159.3h2.14M464.0 159.3h1.07M466.2 159.3h1.07M468.3 159.3h1.07M470.5 159.3h1.07M473.7 159.3h1.07M479.0 159.3h1.07M481.2 159.3h1.07M484.4 159.3h1.07M489.7 159.3h1.07M496.2 159.3h1.07M499.4 159.3h1.07M504.7 159.3h1.07M451.2 161.6h1.07M454.4 161.6h1.07M458.7 161.6h3.21M463.0 161.6h2.14M466.2 161.6h1.07M470.5 161.6h1.07M474.7 161.6h1.07M479.0 161.6h1.07M481.2 161.6h1.07M484.4 161.6h1.07M495.1 161.6h1.07M499.4 161.6h2.14M504.7 161.6h1.07M450.1 163.9h1.07M452.2 163.9h2.14M455.5 163.9h1.07M464.0 163.9h1.07M466.2 163.9h1.07M472.6 163.9h1.07M476.9 163.9h1.07M479.0 163.9h5.36M489.7 163.9h1.07M498.3 163.9h3.21M452.2 166.1h1.07M457.6 166.1h3.21M463.0 166.1h1.07M467.2 166.1h1.07M472.6 166.1h3.21M480.1 166.1h1.07M482.2 166.1h3.21M488.7 166.1h1.07M490.8 166.1h2.14M502.6 166.1h2.14M453.3 168.4h1.07M457.6 168.4h3.21M461.9 168.4h2.14M465.1 168.4h1.07M467.2 168.4h2.14M470.5 168.4h1.07M472.6 168.4h1.07M481.2 168.4h4.28M487.6 168.4h1.07M491.9 168.4h1.07M498.3 168.4h2.14M502.6 168.4h1.07M452.2 170.6h2.14M455.5 170.6h2.14M458.7 170.6h3.21M463.0 170.6h1.07M467.2 170.6h1.07M470.5 170.6h2.14M478.0 170.6h1.07M482.2 170.6h1.07M488.7 170.6h1.07M491.9 170.6h1.07M495.1 170.6h2.14M503.7 170.6h1.07M450.1 172.9h2.14M461.9 172.9h3.21M473.7 172.9h1.07M478.0 172.9h1.07M481.2 172.9h2.14M490.8 172.9h1.07M450.1 175.1h1.07M454.4 175.1h1.07M458.7 175.1h1.07M460.8 175.1h5.36M467.2 175.1h2.14M473.7 175.1h1.07M478.0 175.1h1.07M480.1 175.1h2.14M484.4 175.1h4.28M495.1 175.1h2.14M498.3 175.1h1.07M502.6 175.1h3.21M450.1 177.4h2.14M454.4 177.4h1.07M460.8 177.4h1.07M466.2 177.4h1.07M468.3 177.4h1.07M471.5 177.4h1.07M480.1 177.4h2.14M483.3 177.4h1.07M487.6 177.4h1.07M492.9 177.4h1.07M500.4 177.4h1.07M504.7 177.4h1.07M454.4 179.6h1.07M456.5 179.6h1.07M465.1 179.6h1.07M467.2 179.6h2.14M473.7 179.6h2.14M476.9 179.6h1.07M480.1 179.6h1.07M482.2 179.6h2.14M488.7 179.6h1.07M491.9 179.6h2.14M495.1 179.6h1.07M497.2 179.6h1.07M499.4 179.6h1.07M503.7 179.6h1.07M451.2 181.9h1.07M457.6 181.9h3.21M464.0 181.9h1.07M473.7 181.9h3.21M481.2 181.9h1.07M491.9 181.9h2.14M496.2 181.9h1.07M499.4 181.9h2.14M502.6 181.9h2.14M452.2 184.1h1.07M454.4 184.1h1.07M465.1 184.1h1.07M473.7 184.1h1.07M479.0 184.1h1.07M483.3 184.1h1.07M487.6 184.1h2.14M497.2 184.1h2.14M502.6 184.1h1.07M450.1 186.4h1.07M452.2 186.4h1.07M458.7 186.4h2.14M461.9 186.4h2.14M466.2 186.4h1.07M470.5 186.4h1.07M473.7 186.4h2.14M478.0 186.4h2.14M487.6 186.4h1.07M491.9 186.4h1.07M495.1 186.4h1.07M499.4 186.4h2.14M504.7 186.4h1.07M450.1 188.6h2.14M454.4 188.6h1.07M457.6 188.6h2.14M461.9 188.6h3.21M466.2 188.6h1.07M468.3 188.6h1.07M471.5 188.6h1.07M473.7 188.6h2.14M479.0 188.6h1.07M481.2 188.6h1.07M483.3 188.6h2.14M496.2 188.6h1.07M500.4 188.6h1.07M502.6 188.6h3.21M457.6 190.9h1.07M459.7 190.9h1.07M463.0 190.9h1.07M466.2 190.9h4.28M471.5 190.9h1.07M474.7 190.9h1.07M476.9 190.9h1.07M484.4 190.9h1.07M488.7 190.9h1.07M491.9 190.9h1.07M497.2 190.9h1.07M502.6 190.9h1.07M450.1 193.2h1.07M454.4 193.2h1.07M457.6 193.2h1.07M459.7 193.2h2.14M464.0 193.2h1.07M472.6 193.2h2.14M478.0 193.2h2.14M481.2 193.2h1.07M487.6 193.2h3.21M499.4 193.2h1.07M453.3 195.4h1.07M455.5 195.4h1.07M458.7 195.4h1.07M460.8 195.4h1.07M463.0 195.4h2.14M466.2 195.4h2.14M472.6 195.4h1.07M474.7 195.4h1.07M478.0 195.4h3.21M484.4 195.4h1.07M488.7 195.4h1.07M491.9 195.4h1.07M500.4 195.4h1.07M502.6 195.4h1.07M450.1 197.7h1.07M453.3 197.7h1.07M458.7 197.7h1.07M460.8 197.7h1.07M465.1 197.7h1.07M467.2 197.7h1.07M471.5 197.7h2.14M478.0 197.7h3.21M483.3 197.7h1.07M488.7 197.7h1.07M491.9 197.7h1.07M495.1 197.7h1.07M499.4 197.7h1.07M452.2 199.9h1.07M455.5 199.9h2.14M458.7 199.9h1.07M461.9 199.9h1.07M466.2 199.9h1.07M472.6 199.9h2.14M475.8 199.9h1.07M480.1 199.9h2.14M483.3 199.9h2.14M487.6 199.9h1.07M489.7 199.9h1.07M491.9 199.9h1.07M498.3 199.9h2.14M501.5 199.9h3.21M453.3 202.2h1.07M456.5 202.2h2.14M460.8 202.2h1.07M463.0 202.2h2.14M479.0 202.2h2.14M483.3 202.2h2.14M498.3 202.2h1.07M500.4 202.2h1.07M503.7 202.2h2.14M450.1 204.4h1.07M452.2 204.4h1.07M457.6 204.4h1.07M463.0 204.4h2.14M466.2 204.4h1.07M468.3 204.4h1.07M473.7 204.4h2.14M480.1 204.4h1.07M494.0 204.4h1.07M498.3 204.4h1.07M500.4 204.4h1.07M503.7 204.4h1.07M450.1 206.7h1.07M458.7 206.7h2.14M463.0 206.7h2.14M468.3 206.7h1.07M476.9 206.7h1.07M480.1 206.7h1.07M483.3 206.7h1.07M487.6 206.7h1.07M491.9 206.7h1.07M498.3 206.7h3.21" stroke="rgb(6, 3, 69)" stroke-width="2.30" fill="none"/>
<path d="M365.1 55.3h1.08M368.4 55.3h1.08M385.6 55.3h1.08M391.0 55.3h1.08M393.1 55.3h2.15M397.4 55.3h1.08M402.8 55.3h1.08M410.3 55.3h1.08M425.4 55.3h2.15M431.9 55.3h1.08M436.2 55.3h2.15M441.6 55.3h1.08M445.9 55.3h1.08M371.6 57.6h1.08M374.8 57.6h1.08M395.3 57.6h2.15M405.0 57.6h1.08M412.5 57.6h2.15M428.6 57.6h1.08M431.9 57.6h1.08M439.4 57.6h1.08M357.6 59.9h1.08M361.9 59.9h1.08M367.3 59.9h1.08M375.9 59.9h2.15M386.7 59.9h1.08M392.0 59.9h1.08M401.7 59.9h1.08M407.1 59.9h1.08M409.3 59.9h1.08M415.7 59.9h2.15M421.1 59.9h1.08M425.4 59.9h1.08M430.8 59.9h1.08M436.2 59.9h2.15M440.5 59.9h1.08M445.9 59.9h1.08M354.4 62.1h1.08M357.6 62.1h2.15M361.9 62.1h1.08M364.0 62.1h2.15M370.5 62.1h1.08M373.7 62.1h1.08M377.0 62.1h2.15M419.0 62.1h1.08M427.6 62.1h3.23M433.0 62.1h2.15M437.3 62.1h1.08M365.1 64.4h1.08M378.0 64.4h1.08M394.2 64.4h1.08M409.3 64.4h1.08M424.3 64.4h1.08M428.6 64.4h1.08M431.9 64.4h1.08M441.6 64.4h1.08M354.4 66.6h1.08M363.0 66.6h1.08M367.3 66.6h2.15M372.7 66.6h2.15M385.6 66.6h2.15M401.7 66.6h1.08M406.0 66.6h1.08M408.2 66.6h1.08M412.5 66.6h1.08M429.7 66.6h1.08M434.0 66.6h2.15M439.4 66.6h1.08M441.6 66.6h1.08M444.8 66.6h1.08M353.3 68.9h1.08M356.5 68.9h3.23M363.0 68.9h1.08M367.3 68.9h1.08M372.7 68.9h1.08M374.8 68.9h1.08M393.1 68.9h1.08M401.7 68.9h1.08M407.1 68.9h1.08M410.3 68.9h2.15M414.6 68.9h1.08M416.8 68.9h1.08M425.4 68.9h1.08M434.0 68.9h1.08M356.5 71.2h2.15M363.0 71.2h1.08M365.1 71.2h1.08M375.9 71.2h1.08M382.3 71.2h1.08M389.9 71.2h1.08M392.0 71.2h1.08M401.7 71.2h1.08M405.0 71.2h5.38M414.6 71.2h2.15M424.3 71.2h1.08M426.5 71.2h2.15M434.0 71.2h1.08M436.2 71.2h1.08M442.6 71.2h1.08M448.0 71.2h1.08M354.4 73.4h2.15M357.6 73.4h1.08M364.0 73.4h1.08M393.1 73.4h1.08M406.0 73.4h1.08M408.2 73.4h1.08M410.3 73.4h2.15M415.7 73.4h2.15M425.4 73.4h1.08M427.6 73.4h2.15M431.9 73.4h1.08M434.0 73.4h1.08M438.3 73.4h2.15M443.7 73.4h1.08M352.2 75.7h1.08M355.4 75.7h2.15M360.8 75.7h1.08M373.7 75.7h1.08M375.9 75.7h2.15M382.3 75.7h1.08M394.2 75.7h1.08M396.3 75.7h1.08M405.0 75.7h1.08M408.2 75.7h1.08M410.3 75.7h1.08M414.6 75.7h1.08M426.5 75.7h1.08M430.8 75.7h2.15M439.4 75.7h1.08M355.4 78.0h2.15M366.2 78.0h2.15M371.6 78.0h1.08M375.9 78.0h1.08M384.5 78.0h1.08M394.2 78.0h1.08M399.6 78.0h1.08M401.7 78.0h1.08M427.6 78.0h2.15M430.8 78.0h1.08M435.1 78.0h1.08M439.4 78.0h1.08M441.6 78.0h1.08M445.9 78.0h1.08M357.6 80.2h1.08M360.8 80.2h1.08M372.7 80.2h2.15M381.3 80.2h1.08M383.4 80.2h2.15M386.7 80.2h1.08M399.6 80.2h4.31M408.2 80.2h2.15M412.5 80.2h1.08M419.0 80.2h1.08M425.4 80.2h1.08M431.9 80.2h1.08M435.1 80.2h1.08M440.5 80.2h1.08M398.5 82.5h1.08M405.0 82.5h1.08M408.2 82.5h1.08M413.6 82.5h1.08M424.3 82.5h1.08M353.3 84.7h1.08M357.6 84.7h1.08M360.8 84.7h1.08M364.0 84.7h1.08M369.4 84.7h2.15M373.7 84.7h5.38M385.6 84.7h2.15M409.3 84.7h1.08M412.5 84.7h1.08M417.9 84.7h1.08M427.6 84.7h1.08M431.9 84.7h1.08M439.4 84.7h2.15M443.7 84.7h1.08M356.5 87.0h2.15M361.9 87.0h1.08M364.0 87.0h2.15M375.9 87.0h1.08M378.0 87.0h1.08M401.7 87.0h1.08M405.0 87.0h1.08M419.0 87.0h2.15M424.3 87.0h1.08M426.5 87.0h2.15M429.7 87.0h1.08M440.5 87.0h1.08M360.8 89.3h1.08M375.9 89.3h1.08M389.9 89.3h1.08M394.2 89.3h1.08M405.0 89.3h1.08M409.3 89.3h1.08M415.7 89.3h1.08M417.9 89.3h1.08M421.1 89.3h1.08M426.5 89.3h1.08M428.6 89.3h1.08M434.0 89.3h1.08M436.2 89.3h1.08M443.7 89.3h1.08M448.0 89.3h1.08M352.2 91.5h1.08M382.3 91.5h1.08M384.5 91.5h1.08M389.9 91.5h1.08M396.3 91.5h1.08M405.0 91.5h1.08M412.5 91.5h1.08M430.8 91.5h2.15M434.0 91.5h1.08M441.6 91.5h1.08M444.8 91.5h1.08M354.4 93.8h3.23M371.6 93.8h1.08M375.9 93.8h1.08M381.3 93.8h1.08M384.5 93.8h1.08M399.6 93.8h1.08M403.9 93.8h1.08M409.3 93.8h2.15M416.8 93.8h1.08M427.6 93.8h1.08M431.9 93.8h1.08M436.2 93.8h1.08M440.5 93.8h2.15M352.2 96.1h1.08M355.4 96.1h2.15M358.7 96.1h2.15M370.5 96.1h1.08M381.3 96.1h1.08M386.7 96.1h1.08M389.9 96.1h1.08M396.3 96.1h1.08M401.7 96.1h1.08M408.2 96.1h2.15M428.6 96.1h1.08M437.3 96.1h1.08M448.0 96.1h1.08M353.3 98.3h3.23M357.6 98.3h1.08M359.7 98.3h1.08M361.9 98.3h1.08M368.4 98.3h2.15M371.6 98.3h1.08M373.7 98.3h1.08M383.4 98.3h2.15M389.9 98.3h1.08M403.9 98.3h1.08M407.1 98.3h1.08M409.3 98.3h1.08M414.6 98.3h2.15M417.9 98.3h1.08M420.0 98.3h1.08M424.3 98.3h2.15M428.6 98.3h1.08M430.8 98.3h1.08M435.1 98.3h2.15M439.4 98.3h1.08M443.7 98.3h1.08M448.0 98.3h1.08M352.2 100.6h4.31M358.7 100.6h1.08M366.2 100.6h1.08M369.4 100.6h3.23M375.9 100.6h2.15M380.2 100.6h3.23M389.9 100.6h1.08M393.1 100.6h1.08M395.3 100.6h1.08M397.4 100.6h2.15M400.6 100.6h1.08M406.0 100.6h1.08M408.2 100.6h1.08M410.3 100.6h2.15M417.9 100.6h1.08M420.0 100.6h1.08M426.5 100.6h3.23M431.9 100.6h4.31M445.9 100.6h1.08M358.7 102.8h1.08M360.8 102.8h1.08M367.3 102.8h3.23M372.7 102.8h1.08M381.3 102.8h1.08M384.5 102.8h1.08M389.9 102.8h1.08M392.0 102.8h3.23M397.4 102.8h1.08M409.3 102.8h2.15M416.8 102.8h1.08M419.0 102.8h1.08M353.3 105.1h2.15M356.5 105.1h1.08M361.9 105.1h2.15M368.4 105.1h2.15M371.6 105.1h2.15M378.0 105.1h1.08M385.6 105.1h1.08M389.9 105.1h1.08M396.3 105.1h1.08M402.8 105.1h1.08M408.2 105.1h2.15M415.7 105.1h1.08M417.9 105.1h1.08M420.0 105.1h1.08M427.6 105.1h2.15M430.8 105.1h3.23M437.3 105.1h1.08M441.6 105.1h1.08M448.0 105.1h1.08M355.4 107.4h1.08M364.0 107.4h1.08M371.6 107.4h1.08M389.9 107.4h1.08M409.3 107.4h1.08M411.4 107.4h1.08M426.5 107.4h2.15M436.2 107.4h1.08M439.4 107.4h1.08M444.8 107.4h2.15M353.3 109.6h1.08M356.5 109.6h1.08M367.3 109.6h2.15M374.8 109.6h1.08M381.3 109.6h1.08M385.6 109.6h1.08M395.3 109.6h1.08M406.0 109.6h4.31M414.6 109.6h1.08M424.3 109.6h2.15M428.6 109.6h1.08M435.1 109.6h2.15M440.5 109.6h1.08M363.0 111.9h1.08M369.4 111.9h2.15M378.0 111.9h1.08M389.9 111.9h1.08M394.2 111.9h1.08M402.8 111.9h2.15M406.0 111.9h1.08M408.2 111.9h1.08M415.7 111.9h1.08M417.9 111.9h1.08M424.3 111.9h1.08M443.7 111.9h1.08M357.6 114.2h1.08M360.8 114.2h1.08M364.0 114.2h2.15M367.3 114.2h1.08M370.5 114.2h1.08M378.0 114.2h1.08M380.2 114.2h3.23M384.5 114.2h3.23M391.0 114.2h1.08M409.3 114.2h1.08M420.0 114.2h2.15M424.3 114.2h1.08M428.6 114.2h1.08M431.9 114.2h1.08M435.1 114.2h1.08M438.3 114.2h2.15M441.6 114.2h1.08M353.3 116.4h1.08M355.4 116.4h1.08M359.7 116.4h2.15M364.0 116.4h1.08M367.3 116.4h1.08M369.4 116.4h2.15M374.8 116.4h2.15M408.2 116.4h1.08M410.3 116.4h1.08M412.5 116.4h1.08M425.4 116.4h1.08M427.6 116.4h1.08M433.0 116.4h1.08M437.3 116.4h2.15M441.6 116.4h1.08M443.7 116.4h1.08M445.9 116.4h1.08M354.4 118.7h1.08M357.6 118.7h2.15M369.4 118.7h1.08M373.7 118.7h2.15M392.0 118.7h2.15M396.3 118.7h1.08M401.7 118.7h1.08M410.3 118.7h1.08M414.6 118.7h1.08M424.3 118.7h1.08M426.5 118.7h1.08M428.6 118.7h1.08M431.9 118.7h2.15M436.2 118.7h1.08M443.7 118.7h1.08M446.9 118.7h2.15M354.4 120.9h2.15M363.0 120.9h2.15M380.2 120.9h2.15M384.5 120.9h1.08M386.7 120.9h1.08M393.1 120.9h1.08M397.4 120.9h1.08M399.6 120.9h1.08M401.7 120.9h1.08M405.0 120.9h1.08M411.4 120.9h1.08M417.9 120.9h3.23M435.1 120.9h2.15M440.5 120.9h2.15M443.7 120.9h1.08M354.4 123.2h1.08M364.0 123.2h2.15M367.3 123.2h1.08M369.4 123.2h2.15M377.0 123.2h1.08M386.7 123.2h1.08M391.0 123.2h1.08M393.1 123.2h1.08M401.7 123.2h1.08M407.1 123.2h1.08M410.3 123.2h1.08M416.8 123.2h1.08M420.0 123.2h1.08M424.3 123.2h1.08M434.0 123.2h1.08M440.5 123.2h1.08M355.4 125.5h1.08M357.6 125.5h1.08M366.2 125.5h1.08M377.0 125.5h2.15M384.5 125.5h1.08M393.1 125.5h1.08M396.3 125.5h2.15M412.5 125.5h1.08M420.0 125.5h1.08M426.5 125.5h1.08M428.6 125.5h1.08M430.8 125.5h1.08M437.3 125.5h1.08M441.6 125.5h1.08M443.7 125.5h1.08M352.2 127.7h1.08M368.4 127.7h1.08M370.5 127.7h1.08M372.7 127.7h1.08M378.0 127.7h1.08M380.2 127.7h1.08M384.5 127.7h2.15M388.8 127.7h1.08M394.2 127.7h1.08M405.0 127.7h1.08M414.6 127.7h1.08M420.0 127.7h1.08M426.5 127.7h2.15M430.8 127.7h1.08M434.0 127.7h1.08M438.3 127.7h1.08M441.6 127.7h2.15M448.0 127.7h1.08M354.4 130.0h1.08M356.5 130.0h2.15M359.7 130.0h2.15M365.1 130.0h4.31M370.5 130.0h1.08M374.8 130.0h2.15M379.1 130.0h2.15M384.5 130.0h1.08M389.9 130.0h1.08M393.1 130.0h1.08M398.5 130.0h1.08M401.7 130.0h1.08M408.2 130.0h3.23M416.8 130.0h2.15M424.3 130.0h1.08M437.3 130.0h2.15M440.5 130.0h2.15M443.7 130.0h1.08M352.2 132.3h1.08M358.7 132.3h2.15M364.0 132.3h1.08M368.4 132.3h1.08M373.7 132.3h1.08M378.0 132.3h1.08M380.2 132.3h1.08M382.3 132.3h1.08M384.5 132.3h2.15M388.8 132.3h2.15M398.5 132.3h1.08M401.7 132.3h1.08M407.1 132.3h1.08M409.3 132.3h1.08M416.8 132.3h1.08M430.8 132.3h2.15M439.4 132.3h1.08M441.6 132.3h1.08M444.8 132.3h1.08M353.3 134.5h1.08M355.4 134.5h1.08M357.6 134.5h1.08M360.8 134.5h2.15M364.0 134.5h1.08M367.3 134.5h1.08M370.5 134.5h2.15M375.9 134.5h3.23M384.5 134.5h1.08M386.7 134.5h1.08M398.5 134.5h1.08M400.6 134.5h3.23M411.4 134.5h1.08M416.8 134.5h1.08M420.0 134.5h1.08M425.4 134.5h1.08M428.6 134.5h2.15M433.0 134.5h1.08M440.5 134.5h1.08M442.6 134.5h1.08M445.9 134.5h1.08M352.2 136.8h1.08M357.6 136.8h1.08M360.8 136.8h1.08M368.4 136.8h1.08M370.5 136.8h1.08M373.7 136.8h1.08M384.5 136.8h3.23M410.3 136.8h2.15M425.4 136.8h2.15M434.0 136.8h1.08M441.6 136.8h1.08M358.7 139.0h1.08M368.4 139.0h1.08M373.7 139.0h2.15M378.0 139.0h1.08M381.3 139.0h1.08M384.5 139.0h1.08M393.1 139.0h2.15M396.3 139.0h1.08M400.6 139.0h1.08M407.1 139.0h2.15M411.4 139.0h2.15M414.6 139.0h1.08M417.9 139.0h1.08M424.3 139.0h1.08M426.5 139.0h1.08M428.6 139.0h3.23M441.6 139.0h2.15M355.4 141.3h1.08M359.7 141.3h1.08M369.4 141.3h1.08M373.7 141.3h1.08M375.9 141.3h1.08M380.2 141.3h2.15M385.6 141.3h1.08M397.4 141.3h1.08M405.0 141.3h1.08M407.1 141.3h2.15M410.3 141.3h1.08M413.6 141.3h1.08M415.7 141.3h1.08M417.9 141.3h2.15M423.3 141.3h1.08M426.5 141.3h1.08M428.6 141.3h4.31M435.1 141.3h1.08M441.6 141.3h1.08M354.4 143.6h1.08M357.6 143.6h1.08M365.1 143.6h1.08M369.4 143.6h1.08M375.9 143.6h1.08M383.4 143.6h2.15M387.7 143.6h1.08M394.2 143.6h1.08M402.8 143.6h1.08M406.0 143.6h1.08M409.3 143.6h1.08M414.6 143.6h1.08M419.0 143.6h1.08M425.4 143.6h1.08M433.0 143.6h1.08M436.2 143.6h1.08M441.6 143.6h1.08M443.7 143.6h1.08M497.2 139.0h1.07" stroke="rgb(11, 6, 121)" stroke-width="2.31" fill="none"/>
<path d="M427.6 145.8h1.08M438.3 145.8h1.08M445.9 148.1h1.08M352.2 150.3h1.08M354.4 150.3h1.08M353.3 157.1h1.08M354.4 159.3h1.08M398.5 159.3h1.08M445.9 159.3h2.15M352.2 161.6h1.08M445.9 161.6h2.15M356.5 166.1h2.15M352.2 168.4h1.08M354.4 168.4h1.08M429.7 170.6h1.08M448.0 170.6h1.08M352.2 175.1h1.08M446.9 179.6h1.08M352.2 181.9h1.08M355.4 181.9h1.08M356.5 184.1h1.08M358.7 184.1h1.08M438.3 184.1h1.08M446.9 184.1h1.08M356.5 188.6h1.08M356.5 190.9h1.08M356.5 197.7h1.08M427.6 197.7h1.08M446.9 199.9h1.08M353.3 202.2h1.08M356.5 202.2h1.08M352.2 206.7h1.08M355.4 206.7h1.08M461.9 145.8h2.14M467.2 145.8h3.21M472.6 145.8h2.14M478.0 145.8h1.07M482.2 145.8h1.07M486.5 145.8h5.36M495.1 145.8h2.14M498.3 145.8h2.14M450.1 148.1h1.07M452.2 148.1h1.07M454.4 148.1h2.14M465.1 148.1h2.14M468.3 148.1h1.07M471.5 148.1h2.14M480.1 148.1h1.07M488.7 148.1h3.21M495.1 148.1h1.07M500.4 148.1h1.07M503.7 148.1h1.07M455.5 150.3h1.07M457.6 150.3h1.07M459.7 150.3h3.21M464.0 150.3h1.07M467.2 150.3h1.07M471.5 150.3h1.07M475.8 150.3h1.07M479.0 150.3h1.07M481.2 150.3h1.07M490.8 150.3h2.14M495.1 150.3h1.07M497.2 150.3h2.14M450.1 152.6h1.07M455.5 152.6h1.07M460.8 152.6h1.07M464.0 152.6h1.07M466.2 152.6h2.14M471.5 152.6h1.07M476.9 152.6h1.07M479.0 152.6h2.14M487.6 152.6h3.21M495.1 152.6h1.07M500.4 152.6h1.07M454.4 154.8h2.14M465.1 154.8h1.07M467.2 154.8h1.07M470.5 154.8h1.07M479.0 154.8h3.21M486.5 154.8h1.07M488.7 154.8h1.07M490.8 154.8h1.07M494.0 154.8h2.14M450.1 157.1h1.07M457.6 157.1h1.07M465.1 157.1h2.14M468.3 157.1h3.21M476.9 157.1h1.07M481.2 157.1h1.07M483.3 157.1h1.07M488.7 157.1h5.36M498.3 157.1h4.28M454.4 159.3h1.07M458.7 159.3h1.07M461.9 159.3h1.07M465.1 159.3h1.07M467.2 159.3h1.07M472.6 159.3h1.07M475.8 159.3h1.07M478.0 159.3h1.07M482.2 159.3h2.14M486.5 159.3h2.14M494.0 159.3h1.07M498.3 159.3h1.07M500.4 159.3h3.21M450.1 161.6h1.07M455.5 161.6h1.07M461.9 161.6h1.07M465.1 161.6h1.07M467.2 161.6h1.07M472.6 161.6h2.14M475.8 161.6h1.07M478.0 161.6h1.07M480.1 161.6h1.07M482.2 161.6h1.07M488.7 161.6h1.07M491.9 161.6h2.14M497.2 161.6h2.14M503.7 161.6h1.07M458.7 163.9h2.14M463.0 163.9h1.07M465.1 163.9h1.07M468.3 163.9h4.28M473.7 163.9h2.14M478.0 163.9h1.07M488.7 163.9h1.07M491.9 163.9h1.07M494.0 163.9h1.07M497.2 163.9h1.07M501.5 163.9h4.28M450.1 166.1h1.07M455.5 166.1h1.07M460.8 166.1h1.07M466.2 166.1h1.07M469.4 166.1h2.14M475.8 166.1h3.21M481.2 166.1h1.07M485.4 166.1h1.07M489.7 166.1h1.07M492.9 166.1h1.07M495.1 166.1h4.28M500.4 166.1h2.14M504.7 166.1h1.07M450.1 168.4h2.14M455.5 168.4h1.07M473.7 168.4h1.07M475.8 168.4h1.07M478.0 168.4h1.07M490.8 168.4h1.07M492.9 168.4h1.07M495.1 168.4h2.14M500.4 168.4h2.14M503.7 168.4h2.14M450.1 170.6h1.07M454.4 170.6h1.07M461.9 170.6h1.07M465.1 170.6h1.07M468.3 170.6h2.14M472.6 170.6h2.14M475.8 170.6h1.07M479.0 170.6h1.07M483.3 170.6h2.14M487.6 170.6h1.07M489.7 170.6h1.07M498.3 170.6h2.14M502.6 170.6h1.07M454.4 172.9h2.14M459.7 172.9h2.14M465.1 172.9h2.14M468.3 172.9h2.14M471.5 172.9h2.14M474.7 172.9h1.07M479.0 172.9h2.14M484.4 172.9h1.07M486.5 172.9h4.28M491.9 172.9h2.14M495.1 172.9h3.21M500.4 172.9h3.21M504.7 172.9h1.07M451.2 175.1h2.14M470.5 175.1h1.07M476.9 175.1h1.07M482.2 175.1h2.14M488.7 175.1h6.43M500.4 175.1h2.14M457.6 177.4h3.21M463.0 177.4h3.21M472.6 177.4h1.07M474.7 177.4h1.07M484.4 177.4h1.07M488.7 177.4h1.07M490.8 177.4h2.14M495.1 177.4h1.07M497.2 177.4h3.21M501.5 177.4h3.21M459.7 179.6h3.21M466.2 179.6h1.07M469.4 179.6h4.28M478.0 179.6h1.07M481.2 179.6h1.07M484.4 179.6h4.28M490.8 179.6h1.07M501.5 179.6h2.14M504.7 179.6h1.07M450.1 181.9h1.07M452.2 181.9h1.07M454.4 181.9h1.07M461.9 181.9h2.14M465.1 181.9h1.07M468.3 181.9h5.36M482.2 181.9h4.28M487.6 181.9h4.28M495.1 181.9h1.07M497.2 181.9h2.14M501.5 181.9h1.07M455.5 184.1h1.07M459.7 184.1h1.07M461.9 184.1h1.07M467.2 184.1h1.07M470.5 184.1h1.07M472.6 184.1h1.07M474.7 184.1h4.28M481.2 184.1h1.07M489.7 184.1h4.28M495.1 184.1h1.07M500.4 184.1h2.14M503.7 184.1h2.14M454.4 186.4h1.07M457.6 186.4h1.07M460.8 186.4h1.07M464.0 186.4h2.14M467.2 186.4h2.14M471.5 186.4h2.14M476.9 186.4h1.07M480.1 186.4h2.14M483.3 186.4h2.14M488.7 186.4h2.14M494.0 186.4h1.07M496.2 186.4h1.07M498.3 186.4h1.07M501.5 186.4h2.14M455.5 188.6h1.07M459.7 188.6h1.07M465.1 188.6h1.07M467.2 188.6h1.07M470.5 188.6h1.07M475.8 188.6h1.07M478.0 188.6h1.07M480.1 188.6h1.07M486.5 188.6h1.07M488.7 188.6h5.36M499.4 188.6h1.07M450.1 190.9h1.07M455.5 190.9h1.07M458.7 190.9h1.07M461.9 190.9h1.07M465.1 190.9h1.07M470.5 190.9h1.07M473.7 190.9h1.07M475.8 190.9h1.07M478.0 190.9h1.07M480.1 190.9h2.14M485.4 190.9h1.07M487.6 190.9h1.07M492.9 190.9h1.07M495.1 190.9h2.14M498.3 190.9h1.07M500.4 190.9h1.07M503.7 190.9h2.14M451.2 193.2h1.07M453.3 193.2h1.07M455.5 193.2h1.07M461.9 193.2h1.07M465.1 193.2h1.07M470.5 193.2h2.14M474.7 193.2h1.07M480.1 193.2h1.07M490.8 193.2h2.14M494.0 193.2h2.14M497.2 193.2h2.14M500.4 193.2h1.07M502.6 193.2h3.21M450.1 195.4h1.07M461.9 195.4h1.07M465.1 195.4h1.07M468.3 195.4h4.28M473.7 195.4h1.07M475.8 195.4h1.07M483.3 195.4h1.07M486.5 195.4h2.14M490.8 195.4h1.07M495.1 195.4h2.14M501.5 195.4h1.07M503.7 195.4h2.14M455.5 197.7h1.07M464.0 197.7h1.07M466.2 197.7h1.07M468.3 197.7h2.14M473.7 197.7h1.07M475.8 197.7h2.14M482.2 197.7h1.07M484.4 197.7h3.21M489.7 197.7h1.07M492.9 197.7h1.07M496.2 197.7h1.07M502.6 197.7h2.14M454.4 199.9h1.07M465.1 199.9h1.07M467.2 199.9h4.28M476.9 199.9h3.21M485.4 199.9h2.14M488.7 199.9h1.07M490.8 199.9h1.07M492.9 199.9h1.07M495.1 199.9h2.14M500.4 199.9h1.07M504.7 199.9h1.07M450.1 202.2h1.07M454.4 202.2h2.14M459.7 202.2h1.07M461.9 202.2h1.07M466.2 202.2h4.28M475.8 202.2h1.07M478.0 202.2h1.07M481.2 202.2h2.14M485.4 202.2h1.07M487.6 202.2h2.14M491.9 202.2h2.14M495.1 202.2h1.07M499.4 202.2h1.07M502.6 202.2h1.07M454.4 204.4h2.14M458.7 204.4h3.21M465.1 204.4h1.07M467.2 204.4h1.07M469.4 204.4h4.28M476.9 204.4h2.14M481.2 204.4h2.14M486.5 204.4h1.07M491.9 204.4h2.14M495.1 204.4h1.07M497.2 204.4h1.07M499.4 204.4h1.07M501.5 204.4h1.07M504.7 204.4h1.07M454.4 206.7h2.14M466.2 206.7h1.07M470.5 206.7h6.43M478.0 206.7h1.07M481.2 206.7h2.14M484.4 206.7h2.14M488.7 206.7h1.07M490.8 206.7h1.07M495.1 206.7h3.21M501.5 206.7h2.14M504.7 206.7h1.07" stroke="rgb(11, 6, 121)" stroke-width="2.30" fill="none"/>
<path d="M367.3 55.3h1.08M399.6 55.3h2.15M417.9 55.3h1.08M433.0 55.3h1.08M380.2 57.6h1.08M384.5 57.6h1.08M442.6 57.6h1.08M374.8 59.9h1.08M391.0 62.1h1.08M395.3 62.1h1.08M421.1 62.1h2.15M387.7 64.4h1.08M421.1 64.4h1.08M383.4 66.6h1.08M359.7 68.9h1.08M383.4 68.9h1.08M356.5 73.4h1.08M398.5 73.4h1.08M423.3 73.4h1.08M353.3 78.0h1.08M380.2 78.0h1.08M413.6 78.0h1.08M444.8 78.0h1.08M383.4 82.5h1.08M422.2 82.5h1.08M358.7 84.7h1.08M366.2 84.7h1.08M383.4 84.7h1.08M397.4 84.7h1.08M423.3 87.0h1.08M383.4 89.3h1.08M423.3 89.3h1.08M383.4 91.5h1.08M388.8 91.5h1.08M378.0 93.8h1.08M398.5 93.8h1.08M400.6 93.8h1.08M374.8 96.1h1.08M388.8 96.1h1.08M400.6 96.1h1.08M360.8 98.3h1.08M365.1 98.3h1.08M375.9 98.3h1.08M442.6 98.3h1.08M444.8 100.6h1.08M446.9 102.8h1.08M388.8 105.1h1.08M397.4 105.1h1.08M391.0 107.4h1.08M395.3 107.4h1.08M423.3 111.9h1.08M433.0 111.9h1.08M445.9 111.9h1.08M353.3 114.2h1.08M383.4 114.2h1.08M392.0 114.2h1.08M413.6 114.2h1.08M434.0 114.2h1.08M444.8 114.2h1.08M366.2 118.7h1.08M369.4 120.9h1.08M385.6 123.2h1.08M373.7 125.5h1.08M387.7 125.5h1.08M422.2 125.5h1.08M429.7 125.5h1.08M440.5 125.5h1.08M444.8 125.5h2.15M383.4 132.3h1.08M392.0 132.3h1.08M422.2 132.3h1.08M433.0 141.3h1.08M413.6 143.6h1.08M455.5 55.3h1.07M463.0 55.3h1.07M466.2 55.3h2.14M469.4 55.3h1.07M473.7 55.3h1.07M478.0 55.3h2.14M489.7 55.3h1.07M494.0 55.3h1.07M498.3 55.3h2.14M503.7 55.3h1.07M452.2 57.6h1.07M456.5 57.6h1.07M461.9 57.6h1.07M465.1 57.6h1.07M470.5 57.6h1.07M479.0 57.6h1.07M488.7 57.6h2.14M495.1 57.6h1.07M502.6 57.6h1.07M504.7 57.6h1.07M451.2 59.9h2.14M454.4 59.9h1.07M458.7 59.9h4.28M466.2 59.9h1.07M472.6 59.9h2.14M484.4 59.9h1.07M486.5 59.9h1.07M500.4 59.9h2.14M504.7 59.9h1.07M450.1 62.1h1.07M459.7 62.1h4.28M465.1 62.1h2.14M468.3 62.1h1.07M472.6 62.1h2.14M488.7 62.1h1.07M497.2 62.1h2.14M504.7 62.1h1.07M450.1 64.4h1.07M454.4 64.4h1.07M466.2 64.4h1.07M471.5 64.4h2.14M479.0 64.4h1.07M494.0 64.4h1.07M457.6 66.6h1.07M459.7 66.6h2.14M463.0 66.6h1.07M467.2 66.6h1.07M469.4 66.6h1.07M473.7 66.6h1.07M475.8 66.6h1.07M480.1 66.6h1.07M486.5 66.6h1.07M490.8 66.6h1.07M451.2 68.9h1.07M453.3 68.9h1.07M455.5 68.9h1.07M467.2 68.9h1.07M480.1 68.9h1.07M483.3 68.9h2.14M488.7 68.9h1.07M490.8 68.9h2.14M500.4 68.9h2.14M504.7 68.9h1.07M451.2 71.2h2.14M454.4 71.2h2.14M458.7 71.2h1.07M461.9 71.2h1.07M472.6 71.2h2.14M478.0 71.2h1.07M483.3 71.2h3.21M491.9 71.2h2.14M500.4 71.2h1.07M455.5 73.4h1.07M458.7 73.4h2.14M463.0 73.4h1.07M466.2 73.4h2.14M473.7 73.4h1.07M478.0 73.4h1.07M481.2 73.4h1.07M489.7 73.4h1.07M494.0 73.4h1.07M496.2 73.4h1.07M500.4 73.4h1.07M502.6 73.4h3.21M454.4 75.7h1.07M457.6 75.7h1.07M469.4 75.7h1.07M471.5 75.7h1.07M475.8 75.7h1.07M480.1 75.7h3.21M488.7 75.7h1.07M492.9 75.7h1.07M501.5 75.7h2.14M451.2 78.0h1.07M463.0 78.0h1.07M465.1 78.0h3.21M472.6 78.0h1.07M474.7 78.0h1.07M478.0 78.0h1.07M481.2 78.0h2.14M487.6 78.0h1.07M492.9 78.0h1.07M495.1 78.0h1.07M497.2 78.0h1.07M501.5 78.0h1.07M504.7 78.0h1.07M451.2 80.2h1.07M456.5 80.2h1.07M464.0 80.2h1.07M468.3 80.2h2.14M473.7 80.2h1.07M476.9 80.2h1.07M488.7 80.2h1.07M491.9 80.2h1.07M500.4 80.2h2.14M450.1 82.5h1.07M452.2 82.5h1.07M455.5 82.5h1.07M457.6 82.5h1.07M465.1 82.5h4.28M470.5 82.5h1.07M476.9 82.5h1.07M479.0 82.5h1.07M482.2 82.5h1.07M484.4 82.5h1.07M487.6 82.5h1.07M497.2 82.5h2.14M503.7 82.5h1.07M450.1 84.7h1.07M452.2 84.7h3.21M458.7 84.7h1.07M465.1 84.7h1.07M468.3 84.7h1.07M482.2 84.7h1.07M484.4 84.7h1.07M491.9 84.7h1.07M497.2 84.7h1.07M458.7 87.0h1.07M464.0 87.0h1.07M466.2 87.0h2.14M475.8 87.0h2.14M479.0 87.0h1.07M494.0 87.0h2.14M498.3 87.0h1.07M501.5 87.0h1.07M503.7 87.0h1.07M458.7 89.3h2.14M467.2 89.3h1.07M469.4 89.3h2.14M472.6 89.3h2.14M480.1 89.3h1.07M486.5 89.3h2.14M491.9 89.3h1.07M496.2 89.3h2.14M499.4 89.3h1.07M454.4 91.5h1.07M460.8 91.5h1.07M480.1 91.5h1.07M495.1 91.5h1.07M504.7 91.5h1.07M452.2 93.8h3.21M458.7 93.8h1.07M461.9 93.8h1.07M469.4 93.8h1.07M481.2 93.8h1.07M483.3 93.8h1.07M491.9 93.8h2.14M495.1 93.8h4.28M500.4 93.8h1.07M461.9 96.1h1.07M466.2 96.1h1.07M468.3 96.1h2.14M478.0 96.1h1.07M480.1 96.1h3.21M484.4 96.1h2.14M489.7 96.1h1.07M451.2 98.3h2.14M454.4 98.3h1.07M459.7 98.3h1.07M472.6 98.3h1.07M476.9 98.3h1.07M479.0 98.3h1.07M481.2 98.3h1.07M484.4 98.3h1.07M497.2 98.3h1.07M450.1 100.6h1.07M459.7 100.6h2.14M467.2 100.6h1.07M469.4 100.6h1.07M471.5 100.6h1.07M473.7 100.6h1.07M475.8 100.6h1.07M478.0 100.6h1.07M485.4 100.6h1.07M487.6 100.6h1.07M490.8 100.6h1.07M499.4 100.6h1.07M463.0 102.8h4.28M478.0 102.8h1.07M480.1 102.8h1.07M482.2 102.8h1.07M486.5 102.8h1.07M488.7 102.8h1.07M496.2 102.8h1.07M501.5 102.8h1.07M504.7 102.8h1.07M456.5 105.1h1.07M463.0 105.1h1.07M468.3 105.1h1.07M470.5 105.1h1.07M473.7 105.1h1.07M489.7 105.1h3.21M495.1 105.1h2.14M504.7 105.1h1.07M451.2 107.4h2.14M464.0 107.4h1.07M467.2 107.4h2.14M472.6 107.4h1.07M483.3 107.4h1.07M485.4 107.4h2.14M499.4 107.4h1.07M451.2 109.6h1.07M453.3 109.6h1.07M464.0 109.6h1.07M467.2 109.6h1.07M471.5 109.6h1.07M476.9 109.6h1.07M480.1 109.6h1.07M482.2 109.6h1.07M484.4 109.6h2.14M487.6 109.6h1.07M496.2 109.6h1.07M499.4 109.6h1.07M501.5 109.6h1.07M454.4 111.9h1.07M457.6 111.9h2.14M461.9 111.9h1.07M468.3 111.9h1.07M470.5 111.9h1.07M472.6 111.9h2.14M478.0 111.9h1.07M485.4 111.9h1.07M489.7 111.9h2.14M499.4 111.9h1.07M453.3 114.2h1.07M455.5 114.2h1.07M458.7 114.2h1.07M465.1 114.2h1.07M472.6 114.2h1.07M476.9 114.2h1.07M484.4 114.2h1.07M487.6 114.2h1.07M496.2 114.2h3.21M502.6 114.2h2.14M453.3 116.4h1.07M457.6 116.4h1.07M460.8 116.4h1.07M463.0 116.4h1.07M467.2 116.4h1.07M470.5 116.4h1.07M472.6 116.4h1.07M474.7 116.4h1.07M479.0 116.4h1.07M486.5 116.4h2.14M489.7 116.4h1.07M497.2 116.4h1.07M500.4 116.4h2.14M504.7 116.4h1.07M451.2 118.7h1.07M454.4 118.7h1.07M460.8 118.7h1.07M468.3 118.7h1.07M470.5 118.7h1.07M472.6 118.7h1.07M478.0 118.7h2.14M481.2 118.7h1.07M484.4 118.7h2.14M487.6 118.7h1.07M489.7 118.7h1.07M491.9 118.7h3.21M497.2 118.7h1.07M500.4 118.7h1.07M502.6 118.7h1.07M454.4 120.9h1.07M460.8 120.9h1.07M465.1 120.9h2.14M472.6 120.9h1.07M475.8 120.9h1.07M478.0 120.9h1.07M482.2 120.9h1.07M485.4 120.9h1.07M489.7 120.9h2.14M492.9 120.9h3.21M501.5 120.9h1.07M453.3 123.2h2.14M457.6 123.2h2.14M461.9 123.2h1.07M468.3 123.2h1.07M471.5 123.2h1.07M474.7 123.2h1.07M480.1 123.2h1.07M482.2 123.2h1.07M484.4 123.2h1.07M491.9 123.2h1.07M498.3 123.2h2.14M451.2 125.5h1.07M454.4 125.5h1.07M463.0 125.5h3.21M470.5 125.5h2.14M480.1 125.5h1.07M482.2 125.5h1.07M486.5 125.5h1.07M491.9 125.5h1.07M495.1 125.5h1.07M459.7 127.7h1.07M463.0 127.7h1.07M469.4 127.7h1.07M471.5 127.7h1.07M476.9 127.7h1.07M490.8 127.7h1.07M494.0 127.7h2.14M451.2 130.0h1.07M453.3 130.0h2.14M458.7 130.0h1.07M460.8 130.0h1.07M468.3 130.0h1.07M471.5 130.0h1.07M473.7 130.0h2.14M478.0 130.0h1.07M490.8 130.0h1.07M497.2 130.0h1.07M502.6 130.0h1.07M450.1 132.3h2.14M453.3 132.3h2.14M456.5 132.3h1.07M461.9 132.3h2.14M467.2 132.3h1.07M472.6 132.3h2.14M479.0 132.3h1.07M481.2 132.3h1.07M485.4 132.3h1.07M487.6 132.3h1.07M491.9 132.3h1.07M495.1 132.3h2.14M500.4 132.3h4.28M451.2 134.5h3.21M458.7 134.5h2.14M464.0 134.5h2.14M486.5 134.5h2.14M489.7 134.5h1.07M492.9 134.5h1.07M498.3 134.5h1.07M500.4 134.5h1.07M504.7 134.5h1.07M454.4 136.8h2.14M458.7 136.8h1.07M461.9 136.8h1.07M465.1 136.8h2.14M471.5 136.8h1.07M478.0 136.8h1.07M482.2 136.8h1.07M491.9 136.8h1.07M497.2 136.8h2.14M501.5 136.8h1.07M450.1 139.0h1.07M455.5 139.0h1.07M472.6 139.0h1.07M478.0 139.0h1.07M481.2 139.0h1.07M483.3 139.0h1.07M492.9 139.0h1.07M498.3 139.0h2.14M502.6 139.0h1.07M450.1 141.3h1.07M453.3 141.3h2.14M456.5 141.3h1.07M458.7 141.3h1.07M468.3 141.3h1.07M470.5 141.3h1.07M473.7 141.3h2.14M479.0 141.3h1.07M483.3 141.3h1.07M486.5 141.3h1.07M488.7 141.3h3.21M492.9 141.3h1.07M498.3 141.3h3.21M502.6 141.3h2.14M451.2 143.6h1.07M456.5 143.6h1.07M459.7 143.6h1.07M461.9 143.6h3.21M480.1 143.6h1.07M485.4 143.6h2.14M490.8 143.6h1.07M497.2 143.6h2.14" stroke="rgb(61, 67, 10)" stroke-width="2.31" fill="none"/>
<path d="M361.9 145.8h1.08M364.0 145.8h1.08M377.0 145.8h1.08M380.2 145.8h1.08M383.4 145.8h1.08M385.6 145.8h1.08M394.2 145.8h1.08M396.3 145.8h1.08M401.7 145.8h4.31M408.2 145.8h1.08M412.5 145.8h1.08M419.0 145.8h1.08M429.7 145.8h2.15M437.3 145.8h1.08M440.5 145.8h1.08M365.1 148.1h1.08M367.3 148.1h1.08M373.7 148.1h1.08M377.0 148.1h1.08M382.3 148.1h1.08M384.5 148.1h2.15M396.3 148.1h2.15M405.0 148.1h1.08M411.4 148.1h1.08M415.7 148.1h1.08M425.4 148.1h2.15M434.0 148.1h2.15M441.6 148.1h1.08M443.7 148.1h1.08M448.0 148.1h1.08M358.7 150.3h1.08M361.9 150.3h1.08M368.4 150.3h1.08M382.3 150.3h1.08M386.7 150.3h1.08M393.1 150.3h1.08M398.5 150.3h1.08M400.6 150.3h1.08M407.1 150.3h1.08M412.5 150.3h2.15M419.0 150.3h1.08M422.2 150.3h1.08M427.6 150.3h1.08M431.9 150.3h1.08M441.6 150.3h1.08M361.9 152.6h1.08M365.1 152.6h1.08M369.4 152.6h2.15M374.8 152.6h1.08M378.0 152.6h2.15M381.3 152.6h2.15M387.7 152.6h1.08M389.9 152.6h1.08M394.2 152.6h1.08M396.3 152.6h3.23M401.7 152.6h1.08M413.6 152.6h1.08M421.1 152.6h1.08M426.5 152.6h1.08M429.7 152.6h1.08M435.1 152.6h1.08M437.3 152.6h2.15M440.5 152.6h1.08M358.7 154.8h2.15M363.0 154.8h3.23M367.3 154.8h1.08M370.5 154.8h1.08M374.8 154.8h2.15M380.2 154.8h1.08M387.7 154.8h1.08M398.5 154.8h1.08M405.0 154.8h1.08M408.2 154.8h2.15M419.0 154.8h1.08M423.3 154.8h1.08M426.5 154.8h1.08M429.7 154.8h1.08M434.0 154.8h1.08M436.2 154.8h2.15M440.5 154.8h1.08M445.9 154.8h1.08M366.2 157.1h1.08M369.4 157.1h2.15M372.7 157.1h3.23M382.3 157.1h2.15M386.7 157.1h1.08M411.4 157.1h2.15M419.0 157.1h1.08M425.4 157.1h1.08M431.9 157.1h1.08M442.6 157.1h1.08M360.8 159.3h1.08M363.0 159.3h1.08M366.2 159.3h1.08M377.0 159.3h1.08M385.6 159.3h1.08M401.7 159.3h1.08M406.0 159.3h3.23M411.4 159.3h1.08M415.7 159.3h1.08M420.0 159.3h1.08M425.4 159.3h2.15M435.1 159.3h1.08M438.3 159.3h1.08M448.0 159.3h1.08M363.0 161.6h3.23M369.4 161.6h2.15M381.3 161.6h1.08M387.7 161.6h1.08M389.9 161.6h1.08M392.0 161.6h2.15M405.0 161.6h1.08M408.2 161.6h1.08M426.5 161.6h1.08M431.9 161.6h1.08M435.1 161.6h1.08M440.5 161.6h1.08M360.8 163.9h1.08M368.4 163.9h1.08M372.7 163.9h2.15M377.0 163.9h1.08M381.3 163.9h1.08M383.4 163.9h2.15M391.0 163.9h2.15M398.5 163.9h1.08M406.0 163.9h1.08M411.4 163.9h1.08M426.5 163.9h2.15M438.3 163.9h1.08M445.9 163.9h1.08M369.4 166.1h1.08M371.6 166.1h1.08M373.7 166.1h1.08M379.1 166.1h2.15M386.7 166.1h1.08M401.7 166.1h1.08M405.0 166.1h1.08M411.4 166.1h1.08M417.9 166.1h1.08M423.3 166.1h2.15M429.7 166.1h1.08M439.4 166.1h1.08M359.7 168.4h1.08M364.0 168.4h2.15M367.3 168.4h1.08M369.4 168.4h1.08M372.7 168.4h3.23M378.0 168.4h1.08M381.3 168.4h1.08M384.5 168.4h1.08M387.7 168.4h1.08M394.2 168.4h1.08M401.7 168.4h1.08M403.9 168.4h1.08M410.3 168.4h2.15M413.6 168.4h1.08M416.8 168.4h1.08M427.6 168.4h1.08M440.5 168.4h1.08M353.3 170.6h1.08M358.7 170.6h1.08M367.3 170.6h1.08M370.5 170.6h2.15M373.7 170.6h1.08M375.9 170.6h1.08M378.0 170.6h1.08M386.7 170.6h1.08M389.9 170.6h1.08M397.4 170.6h2.15M402.8 170.6h1.08M406.0 170.6h1.08M408.2 170.6h2.15M413.6 170.6h1.08M416.8 170.6h3.23M426.5 170.6h1.08M430.8 170.6h1.08M442.6 170.6h1.08M444.8 170.6h1.08M359.7 172.9h1.08M364.0 172.9h1.08M369.4 172.9h1.08M372.7 172.9h1.08M381.3 172.9h1.08M386.7 172.9h1.08M391.0 172.9h3.23M395.3 172.9h2.15M398.5 172.9h1.08M403.9 172.9h1.08M406.0 172.9h2.15M409.3 172.9h2.15M413.6 172.9h1.08M427.6 172.9h1.08M436.2 172.9h1.08M442.6 172.9h1.08M360.8 175.1h1.08M364.0 175.1h2.15M367.3 175.1h1.08M370.5 175.1h1.08M373.7 175.1h1.08M385.6 175.1h3.23M392.0 175.1h1.08M398.5 175.1h1.08M407.1 175.1h1.08M410.3 175.1h1.08M414.6 175.1h2.15M419.0 175.1h1.08M422.2 175.1h1.08M424.3 175.1h1.08M427.6 175.1h1.08M433.0 175.1h2.15M436.2 175.1h2.15M441.6 175.1h1.08M357.6 177.4h1.08M360.8 177.4h1.08M365.1 177.4h1.08M374.8 177.4h1.08M386.7 177.4h2.15M389.9 177.4h2.15M393.1 177.4h1.08M396.3 177.4h1.08M398.5 177.4h1.08M400.6 177.4h2.15M405.0 177.4h1.08M409.3 177.4h3.23M413.6 177.4h1.08M415.7 177.4h1.08M417.9 177.4h1.08M422.2 177.4h3.23M426.5 177.4h1.08M428.6 177.4h1.08M430.8 177.4h1.08M437.3 177.4h2.15M440.5 177.4h1.08M444.8 177.4h1.08M359.7 179.6h1.08M363.0 179.6h1.08M366.2 179.6h1.08M372.7 179.6h1.08M374.8 179.6h1.08M378.0 179.6h1.08M382.3 179.6h2.15M385.6 179.6h1.08M395.3 179.6h1.08M397.4 179.6h1.08M399.6 179.6h1.08M407.1 179.6h1.08M415.7 179.6h2.15M419.0 179.6h2.15M423.3 179.6h1.08M425.4 179.6h1.08M428.6 179.6h1.08M433.0 179.6h1.08M439.4 179.6h1.08M369.4 181.9h3.23M373.7 181.9h1.08M379.1 181.9h1.08M384.5 181.9h1.08M411.4 181.9h1.08M414.6 181.9h1.08M416.8 181.9h1.08M419.0 181.9h1.08M429.7 181.9h1.08M433.0 181.9h1.08M436.2 181.9h1.08M439.4 181.9h1.08M359.7 184.1h1.08M364.0 184.1h1.08M369.4 184.1h1.08M371.6 184.1h2.15M384.5 184.1h1.08M389.9 184.1h1.08M396.3 184.1h1.08M403.9 184.1h2.15M407.1 184.1h2.15M416.8 184.1h1.08M419.0 184.1h1.08M423.3 184.1h1.08M425.4 184.1h2.15M435.1 184.1h1.08M439.4 184.1h1.08M359.7 186.4h2.15M363.0 186.4h1.08M365.1 186.4h2.15M377.0 186.4h1.08M381.3 186.4h1.08M392.0 186.4h1.08M394.2 186.4h1.08M397.4 186.4h2.15M400.6 186.4h1.08M402.8 186.4h2.15M408.2 186.4h1.08M414.6 186.4h1.08M417.9 186.4h1.08M420.0 186.4h1.08M422.2 186.4h1.08M434.0 186.4h2.15M437.3 186.4h1.08M440.5 186.4h1.08M358.7 188.6h1.08M364.0 188.6h5.38M371.6 188.6h1.08M378.0 188.6h2.15M383.4 188.6h1.08M397.4 188.6h1.08M399.6 188.6h1.08M402.8 188.6h1.08M405.0 188.6h1.08M407.1 188.6h1.08M411.4 188.6h1.08M419.0 188.6h1.08M431.9 188.6h1.08M436.2 188.6h1.08M438.3 188.6h2.15M369.4 190.9h1.08M372.7 190.9h1.08M379.1 190.9h1.08M383.4 190.9h1.08M392.0 190.9h1.08M411.4 190.9h1.08M414.6 190.9h1.08M421.1 190.9h2.15M431.9 190.9h1.08M436.2 190.9h1.08M438.3 190.9h1.08M364.0 193.2h1.08M372.7 193.2h1.08M378.0 193.2h1.08M380.2 193.2h2.15M383.4 193.2h1.08M389.9 193.2h2.15M406.0 193.2h1.08M410.3 193.2h2.15M416.8 193.2h1.08M425.4 193.2h2.15M428.6 193.2h1.08M437.3 193.2h1.08M441.6 193.2h1.08M445.9 193.2h1.08M448.0 193.2h1.08M352.2 195.4h1.08M365.1 195.4h1.08M373.7 195.4h1.08M377.0 195.4h1.08M380.2 195.4h1.08M383.4 195.4h1.08M389.9 195.4h1.08M408.2 195.4h1.08M412.5 195.4h1.08M424.3 195.4h1.08M435.1 195.4h1.08M437.3 195.4h1.08M439.4 195.4h1.08M442.6 195.4h2.15M446.9 195.4h1.08M365.1 197.7h1.08M379.1 197.7h1.08M383.4 197.7h1.08M392.0 197.7h1.08M396.3 197.7h1.08M399.6 197.7h1.08M405.0 197.7h1.08M407.1 197.7h1.08M410.3 197.7h1.08M415.7 197.7h1.08M417.9 197.7h1.08M429.7 197.7h1.08M438.3 197.7h1.08M440.5 197.7h1.08M359.7 199.9h1.08M366.2 199.9h2.15M371.6 199.9h2.15M384.5 199.9h1.08M392.0 199.9h1.08M395.3 199.9h1.08M397.4 199.9h1.08M414.6 199.9h1.08M423.3 199.9h1.08M425.4 199.9h1.08M427.6 199.9h1.08M430.8 199.9h2.15M437.3 199.9h1.08M363.0 202.2h1.08M369.4 202.2h2.15M372.7 202.2h1.08M384.5 202.2h1.08M388.8 202.2h1.08M397.4 202.2h1.08M401.7 202.2h1.08M403.9 202.2h1.08M406.0 202.2h3.23M411.4 202.2h1.08M421.1 202.2h1.08M430.8 202.2h2.15M443.7 202.2h1.08M360.8 204.4h1.08M371.6 204.4h1.08M380.2 204.4h1.08M387.7 204.4h1.08M392.0 204.4h1.08M398.5 204.4h2.15M401.7 204.4h2.15M406.0 204.4h1.08M408.2 204.4h1.08M413.6 204.4h2.15M416.8 204.4h1.08M425.4 204.4h1.08M437.3 204.4h1.08M357.6 206.7h1.08M359.7 206.7h1.08M363.0 206.7h1.08M369.4 206.7h1.08M372.7 206.7h1.08M380.2 206.7h1.08M383.4 206.7h1.08M386.7 206.7h1.08M395.3 206.7h1.08M397.4 206.7h2.15M402.8 206.7h1.08M406.0 206.7h1.08M410.3 206.7h1.08M413.6 206.7h1.08M415.7 206.7h2.15M430.8 206.7h2.15M434.0 206.7h1.08M444.8 206.7h1.08M464.0 179.6h1.07" stroke="rgb(61, 67, 10)" stroke-width="2.30" fill="none"/>
<path d="M378.0 55.3h1.08M415.7 55.3h1.08M394.2 57.6h1.08M401.7 57.6h1.08M427.6 57.6h1.08M355.4 59.9h2.15M382.3 59.9h1.08M394.2 59.9h1.08M410.3 59.9h1.08M427.6 59.9h2.15M431.9 59.9h1.08M448.0 59.9h1.08M398.5 62.1h1.08M430.8 62.1h1.08M401.7 64.4h1.08M410.3 64.4h1.08M374.8 66.6h1.08M410.3 66.6h1.08M419.0 66.6h2.15M426.5 66.6h1.08M355.4 68.9h1.08M369.4 68.9h1.08M384.5 68.9h1.08M394.2 68.9h1.08M427.6 68.9h1.08M441.6 68.9h1.08M378.0 71.2h2.15M384.5 71.2h1.08M420.0 71.2h1.08M425.4 71.2h1.08M370.5 73.4h1.08M394.2 73.4h1.08M396.3 73.4h1.08M401.7 73.4h1.08M405.0 73.4h1.08M430.8 73.4h1.08M448.0 73.4h1.08M357.6 75.7h1.08M359.7 75.7h1.08M409.3 75.7h1.08M427.6 75.7h1.08M434.0 75.7h1.08M440.5 75.7h1.08M357.6 78.0h2.15M397.4 78.0h1.08M431.9 78.0h1.08M355.4 80.2h1.08M397.4 80.2h1.08M416.8 80.2h1.08M420.0 80.2h1.08M422.2 80.2h1.08M424.3 80.2h1.08M426.5 80.2h1.08M437.3 80.2h1.08M394.2 82.5h1.08M407.1 82.5h1.08M355.4 84.7h1.08M359.7 84.7h1.08M410.3 84.7h2.15M420.0 84.7h1.08M436.2 84.7h1.08M372.7 87.0h1.08M374.8 87.0h1.08M393.1 87.0h2.15M411.4 87.0h1.08M425.4 87.0h1.08M431.9 87.0h1.08M355.4 89.3h1.08M392.0 89.3h1.08M408.2 89.3h1.08M420.0 89.3h1.08M355.4 91.5h1.08M367.3 91.5h1.08M372.7 91.5h1.08M375.9 91.5h1.08M402.8 91.5h1.08M436.2 91.5h1.08M443.7 91.5h1.08M357.6 93.8h1.08M369.4 93.8h1.08M405.0 93.8h1.08M367.3 96.1h1.08M375.9 96.1h1.08M384.5 96.1h1.08M440.5 96.1h1.08M443.7 96.1h1.08M367.3 98.3h1.08M401.7 98.3h1.08M427.6 98.3h1.08M431.9 98.3h1.08M384.5 100.6h1.08M442.6 100.6h1.08M352.2 102.8h1.08M355.4 102.8h1.08M357.6 102.8h1.08M361.9 102.8h1.08M378.0 102.8h1.08M408.2 102.8h1.08M420.0 102.8h1.08M428.6 102.8h1.08M431.9 102.8h1.08M355.4 105.1h1.08M387.7 105.1h1.08M394.2 105.1h1.08M406.0 105.1h1.08M424.3 105.1h1.08M369.4 107.4h1.08M430.8 107.4h1.08M441.6 107.4h1.08M357.6 109.6h1.08M371.6 109.6h1.08M378.0 109.6h1.08M389.9 109.6h1.08M402.8 109.6h1.08M427.6 111.9h1.08M355.4 114.2h2.15M369.4 114.2h1.08M394.2 114.2h1.08M405.0 114.2h1.08M427.6 114.2h1.08M430.8 114.2h1.08M394.2 116.4h1.08M413.6 116.4h1.08M420.0 116.4h1.08M426.5 116.4h1.08M430.8 116.4h1.08M382.3 118.7h1.08M405.0 118.7h1.08M408.2 118.7h1.08M419.0 118.7h2.15M434.0 118.7h1.08M439.4 118.7h1.08M375.9 120.9h1.08M407.1 120.9h2.15M426.5 120.9h2.15M431.9 120.9h1.08M439.4 120.9h1.08M355.4 123.2h1.08M368.4 123.2h1.08M378.0 123.2h1.08M384.5 123.2h1.08M389.9 123.2h1.08M406.0 123.2h1.08M408.2 123.2h2.15M412.5 123.2h1.08M427.6 123.2h1.08M433.0 123.2h1.08M360.8 125.5h1.08M365.1 125.5h1.08M375.9 125.5h1.08M392.0 125.5h1.08M431.9 125.5h1.08M439.4 125.5h1.08M357.6 127.7h1.08M367.3 127.7h1.08M369.4 127.7h1.08M374.8 127.7h1.08M386.7 127.7h1.08M396.3 127.7h1.08M416.8 127.7h1.08M433.0 127.7h1.08M437.3 127.7h1.08M439.4 127.7h1.08M355.4 130.0h1.08M382.3 130.0h1.08M392.0 130.0h1.08M420.0 130.0h1.08M428.6 130.0h1.08M431.9 130.0h1.08M434.0 130.0h1.08M436.2 130.0h1.08M439.4 130.0h1.08M356.5 132.3h2.15M363.0 132.3h1.08M427.6 132.3h1.08M440.5 132.3h1.08M369.4 134.5h1.08M374.8 134.5h1.08M381.3 134.5h1.08M389.9 134.5h1.08M392.0 134.5h1.08M394.2 134.5h1.08M407.1 134.5h3.23M435.1 134.5h1.08M364.0 136.8h1.08M405.0 136.8h1.08M408.2 136.8h2.15M412.5 136.8h1.08M427.6 136.8h1.08M431.9 136.8h1.08M355.4 139.0h1.08M364.0 139.0h1.08M367.3 139.0h1.08M389.9 139.0h1.08M398.5 139.0h1.08M410.3 139.0h1.08M416.8 139.0h1.08M425.4 139.0h1.08M427.6 139.0h1.08M431.9 139.0h1.08M443.7 139.0h1.08M445.9 139.0h1.08M352.2 141.3h1.08M394.2 141.3h1.08M425.4 141.3h1.08M438.3 141.3h2.15M367.3 143.6h1.08M379.1 143.6h2.15M420.0 143.6h1.08" stroke="rgb(16, 9, 173)" stroke-width="2.31" fill="none"/>
<path d="M361.9 184.1h1.08M446.9 190.9h1.08M454.4 145.8h2.14M476.9 145.8h1.07M479.0 145.8h1.07M491.9 145.8h2.14M473.7 148.1h1.07M481.2 148.1h1.07M485.4 148.1h2.14M491.9 148.1h3.21M496.2 148.1h1.07M501.5 148.1h1.07M454.4 150.3h1.07M465.1 150.3h1.07M470.5 150.3h1.07M473.7 150.3h1.07M476.9 150.3h1.07M485.4 150.3h1.07M487.6 150.3h1.07M492.9 150.3h1.07M501.5 150.3h1.07M504.7 150.3h1.07M469.4 152.6h1.07M473.7 152.6h1.07M485.4 152.6h2.14M492.9 152.6h2.14M496.2 152.6h2.14M469.4 154.8h1.07M473.7 154.8h1.07M475.8 154.8h1.07M478.0 154.8h1.07M489.7 154.8h1.07M492.9 154.8h1.07M471.5 157.1h1.07M473.7 157.1h1.07M479.0 157.1h1.07M486.5 157.1h1.07M494.0 157.1h1.07M496.2 157.1h1.07M502.6 157.1h1.07M469.4 159.3h1.07M476.9 159.3h1.07M488.7 159.3h1.07M491.9 159.3h1.07M495.1 159.3h1.07M497.2 159.3h1.07M468.3 161.6h2.14M471.5 161.6h1.07M483.3 161.6h1.07M485.4 161.6h2.14M489.7 161.6h2.14M494.0 161.6h1.07M496.2 161.6h1.07M501.5 161.6h1.07M461.9 163.9h1.07M467.2 163.9h1.07M475.8 163.9h1.07M485.4 163.9h2.14M490.8 163.9h1.07M492.9 163.9h1.07M495.1 163.9h2.14M454.4 166.1h1.07M468.3 166.1h1.07M486.5 166.1h2.14M494.0 166.1h1.07M454.4 168.4h1.07M460.8 168.4h1.07M466.2 168.4h1.07M469.4 168.4h1.07M471.5 168.4h1.07M476.9 168.4h1.07M486.5 168.4h1.07M489.7 168.4h1.07M494.0 168.4h1.07M497.2 168.4h1.07M466.2 170.6h1.07M476.9 170.6h1.07M485.4 170.6h1.07M490.8 170.6h1.07M492.9 170.6h1.07M501.5 170.6h1.07M467.2 172.9h1.07M470.5 172.9h1.07M475.8 172.9h1.07M498.3 172.9h1.07M455.5 175.1h1.07M469.4 175.1h1.07M472.6 175.1h1.07M474.7 175.1h2.14M497.2 175.1h1.07M455.5 177.4h1.07M467.2 177.4h1.07M469.4 177.4h1.07M476.9 177.4h1.07M485.4 177.4h2.14M489.7 177.4h1.07M494.0 177.4h1.07M475.8 179.6h1.07M489.7 179.6h1.07M494.0 179.6h1.07M496.2 179.6h1.07M455.5 181.9h1.07M460.8 181.9h1.07M466.2 181.9h1.07M476.9 181.9h1.07M486.5 181.9h1.07M494.0 181.9h1.07M504.7 181.9h1.07M466.2 184.1h1.07M468.3 184.1h2.14M471.5 184.1h1.07M485.4 184.1h1.07M494.0 184.1h1.07M496.2 184.1h1.07M455.5 186.4h1.07M475.8 186.4h1.07M485.4 186.4h2.14M490.8 186.4h1.07M492.9 186.4h1.07M497.2 186.4h1.07M469.4 188.6h1.07M476.9 188.6h1.07M482.2 188.6h1.07M485.4 188.6h1.07M495.1 188.6h1.07M497.2 188.6h1.07M501.5 188.6h1.07M472.6 190.9h1.07M486.5 190.9h1.07M494.0 190.9h1.07M501.5 190.9h1.07M466.2 193.2h2.14M469.4 193.2h1.07M475.8 193.2h1.07M485.4 193.2h2.14M492.9 193.2h1.07M496.2 193.2h1.07M476.9 195.4h1.07M481.2 195.4h1.07M485.4 195.4h1.07M492.9 195.4h2.14M497.2 195.4h1.07M461.9 197.7h1.07M470.5 197.7h1.07M490.8 197.7h1.07M494.0 197.7h1.07M497.2 197.7h1.07M501.5 197.7h1.07M450.1 199.9h1.07M471.5 199.9h1.07M497.2 199.9h1.07M471.5 202.2h1.07M473.7 202.2h2.14M476.9 202.2h1.07M486.5 202.2h1.07M490.8 202.2h1.07M494.0 202.2h1.07M496.2 202.2h1.07M461.9 204.4h1.07M483.3 204.4h3.21M487.6 204.4h4.28M496.2 204.4h1.07M502.6 204.4h1.07M469.4 206.7h1.07M486.5 206.7h1.07M489.7 206.7h1.07M494.0 206.7h1.07" stroke="rgb(16, 9, 173)" stroke-width="2.30" fill="none"/>
<path d="M409.3 55.3h1.08M411.4 55.3h1.08M442.6 55.3h2.15M407.1 57.6h1.08M422.2 57.6h1.08M438.3 57.6h1.08M363.0 59.9h1.08M380.2 59.9h1.08M395.3 59.9h1.08M426.5 59.9h1.08M385.6 62.1h1.08M401.7 62.1h1.08M410.3 62.1h1.08M443.7 62.1h1.08M355.4 64.4h1.08M359.7 64.4h1.08M374.8 64.4h1.08M384.5 64.4h1.08M415.7 64.4h1.08M429.7 64.4h1.08M435.1 64.4h1.08M356.5 66.6h1.08M360.8 66.6h1.08M364.0 66.6h1.08M378.0 66.6h1.08M416.8 66.6h1.08M421.1 66.6h1.08M364.0 68.9h1.08M386.7 68.9h1.08M406.0 68.9h1.08M445.9 68.9h1.08M381.3 71.2h1.08M385.6 71.2h1.08M397.4 71.2h1.08M431.9 71.2h1.08M443.7 71.2h1.08M366.2 73.4h1.08M382.3 73.4h1.08M384.5 73.4h1.08M403.9 73.4h1.08M407.1 73.4h1.08M420.0 73.4h1.08M437.3 73.4h1.08M370.5 75.7h1.08M379.1 75.7h1.08M411.4 75.7h2.15M381.3 78.0h1.08M387.7 78.0h1.08M433.0 78.0h1.08M443.7 78.0h1.08M358.7 80.2h1.08M407.1 80.2h1.08M358.7 82.5h1.08M389.9 82.5h1.08M410.3 82.5h1.08M381.3 84.7h1.08M408.2 84.7h1.08M416.8 84.7h1.08M423.3 84.7h1.08M428.6 84.7h1.08M442.6 84.7h1.08M382.3 87.0h1.08M387.7 87.0h1.08M402.8 87.0h1.08M408.2 87.0h1.08M428.6 87.0h1.08M437.3 87.0h1.08M380.2 89.3h1.08M396.3 89.3h1.08M427.6 89.3h1.08M356.5 91.5h1.08M374.8 91.5h1.08M395.3 91.5h1.08M380.2 93.8h1.08M382.3 93.8h1.08M415.7 93.8h1.08M353.3 96.1h1.08M364.0 96.1h1.08M383.4 96.1h1.08M393.1 96.1h1.08M393.1 98.3h1.08M419.0 98.3h1.08M437.3 98.3h1.08M357.6 100.6h1.08M361.9 100.6h1.08M364.0 100.6h1.08M412.5 100.6h1.08M382.3 102.8h1.08M387.7 102.8h1.08M398.5 102.8h1.08M440.5 102.8h1.08M358.7 105.1h1.08M373.7 105.1h1.08M352.2 107.4h1.08M357.6 107.4h1.08M360.8 107.4h1.08M381.3 107.4h1.08M383.4 107.4h1.08M392.0 107.4h1.08M410.3 107.4h1.08M415.7 107.4h1.08M354.4 109.6h1.08M380.2 109.6h1.08M397.4 109.6h1.08M427.6 109.6h1.08M444.8 109.6h1.08M384.5 111.9h1.08M375.9 114.2h1.08M389.9 114.2h1.08M397.4 114.2h1.08M400.6 114.2h2.15M408.2 114.2h1.08M410.3 114.2h1.08M422.2 114.2h1.08M373.7 116.4h1.08M379.1 116.4h1.08M384.5 116.4h1.08M407.1 116.4h1.08M436.2 116.4h1.08M439.4 116.4h1.08M355.4 118.7h1.08M363.0 118.7h1.08M378.0 118.7h1.08M409.3 118.7h1.08M411.4 118.7h1.08M444.8 118.7h1.08M370.5 120.9h1.08M373.7 120.9h1.08M434.0 120.9h1.08M442.6 120.9h1.08M372.7 123.2h1.08M435.1 123.2h2.15M446.9 123.2h2.15M382.3 125.5h1.08M395.3 125.5h1.08M356.5 127.7h1.08M365.1 127.7h1.08M391.0 127.7h1.08M401.7 127.7h1.08M403.9 127.7h1.08M419.0 127.7h1.08M369.4 130.0h1.08M371.6 130.0h1.08M403.9 132.3h1.08M410.3 132.3h1.08M426.5 132.3h1.08M433.0 132.3h1.08M368.4 134.5h1.08M379.1 134.5h1.08M383.4 134.5h1.08M391.0 136.8h1.08M393.1 136.8h2.15M398.5 136.8h1.08M437.3 136.8h2.15M371.6 139.0h2.15M421.1 139.0h1.08M396.3 141.3h1.08M381.3 143.6h1.08M399.6 143.6h1.08" stroke="rgb(185, 195, 70)" stroke-width="2.31" fill="none"/>
<path d="M427.6 55.3h1.08M439.4 59.9h1.08M369.4 64.4h1.08M439.4 64.4h1.08M355.4 71.2h1.08M402.8 71.2h1.08M381.3 75.7h1.08M386.7 78.0h1.08M378.0 80.2h1.08M410.3 80.2h1.08M427.6 91.5h1.08M408.2 93.8h1.08M427.6 96.1h1.08M392.0 98.3h1.08M430.8 100.6h1.08M440.5 100.6h1.08M448.0 100.6h1.08M374.8 102.8h1.08M427.6 102.8h1.08M435.1 105.1h1.08M355.4 109.6h1.08M384.5 109.6h1.08M431.9 109.6h1.08M431.9 111.9h1.08M391.0 116.4h1.08M409.3 116.4h1.08M431.9 116.4h1.08M427.6 118.7h1.08M394.2 120.9h1.08M430.8 120.9h1.08M431.9 123.2h1.08M408.2 125.5h1.08M354.4 127.7h1.08M427.6 130.0h1.08M406.0 132.3h1.08M443.7 132.3h1.08M385.6 134.5h1.08M427.6 134.5h1.08M439.4 134.5h1.08M355.4 136.8h1.08M435.1 136.8h1.08M370.5 139.0h1.08M357.6 141.3h1.08M409.3 141.3h1.08M427.6 141.3h1.08M427.6 143.6h1.08" stroke="rgb(22, 12, 225)" stroke-width="2.31" fill="none"/>
<path d="M494.0 145.8h1.07M469.4 148.1h1.07M475.8 148.1h1.07M469.4 150.3h1.07M486.5 150.3h1.07M488.7 150.3h1.07M494.0 150.3h1.07M485.4 159.3h1.07M492.9 159.3h1.07M476.9 161.6h1.07M486.5 170.6h1.07M494.0 170.6h1.07M476.9 172.9h1.07M485.4 172.9h1.07M494.0 172.9h1.07M475.8 177.4h1.07M478.0 177.4h1.07M496.2 177.4h1.07M486.5 184.1h1.07M469.4 186.4h1.07M494.0 188.6h1.07M489.7 190.9h2.14M476.9 193.2h1.07M489.7 195.4h1.07M487.6 197.7h1.07M494.0 199.9h1.07M501.5 202.2h1.07M475.8 204.4h1.07" stroke="rgb(22, 12, 225)" stroke-width="2.30" fill="none"/>
<path d="M371.6 62.1h1.08M399.6 64.4h1.08M383.4 87.0h1.08M423.3 107.4h1.08M400.6 111.9h1.08M400.6 123.2h1.08M388.8 141.3h1.08M451.2 55.3h1.07M453.3 55.3h2.14M456.5 55.3h2.14M460.8 55.3h1.07M471.5 55.3h1.07M475.8 55.3h2.14M488.7 55.3h1.07M495.1 55.3h1.07M502.6 55.3h1.07M457.6 57.6h4.28M466.2 57.6h1.07M473.7 57.6h1.07M478.0 57.6h1.07M480.1 57.6h1.07M485.4 57.6h1.07M490.8 57.6h1.07M492.9 57.6h1.07M496.2 57.6h3.21M500.4 57.6h1.07M503.7 57.6h1.07M453.3 59.9h1.07M456.5 59.9h2.14M464.0 59.9h1.07M467.2 59.9h1.07M469.4 59.9h2.14M476.9 59.9h1.07M483.3 59.9h1.07M487.6 59.9h4.28M503.7 59.9h1.07M451.2 62.1h1.07M457.6 62.1h1.07M464.0 62.1h1.07M467.2 62.1h1.07M471.5 62.1h1.07M474.7 62.1h1.07M481.2 62.1h3.21M496.2 62.1h1.07M502.6 62.1h1.07M451.2 64.4h1.07M453.3 64.4h1.07M457.6 64.4h3.21M463.0 64.4h1.07M465.1 64.4h1.07M470.5 64.4h1.07M473.7 64.4h1.07M476.9 64.4h1.07M481.2 64.4h1.07M489.7 64.4h1.07M496.2 64.4h3.21M504.7 64.4h1.07M454.4 66.6h1.07M470.5 66.6h1.07M472.6 66.6h1.07M474.7 66.6h1.07M482.2 66.6h1.07M491.9 66.6h2.14M501.5 66.6h3.21M450.1 68.9h1.07M454.4 68.9h1.07M456.5 68.9h1.07M459.7 68.9h2.14M465.1 68.9h1.07M468.3 68.9h3.21M475.8 68.9h2.14M481.2 68.9h2.14M485.4 68.9h2.14M492.9 68.9h1.07M495.1 68.9h3.21M502.6 68.9h1.07M456.5 71.2h1.07M463.0 71.2h1.07M466.2 71.2h1.07M471.5 71.2h1.07M474.7 71.2h1.07M481.2 71.2h1.07M489.7 71.2h1.07M495.1 71.2h2.14M499.4 71.2h1.07M501.5 71.2h4.28M450.1 73.4h2.14M456.5 73.4h2.14M461.9 73.4h1.07M464.0 73.4h2.14M470.5 73.4h2.14M475.8 73.4h1.07M480.1 73.4h1.07M484.4 73.4h1.07M491.9 73.4h1.07M450.1 75.7h3.21M458.7 75.7h1.07M460.8 75.7h1.07M474.7 75.7h1.07M483.3 75.7h1.07M485.4 75.7h2.14M497.2 75.7h3.21M452.2 78.0h1.07M454.4 78.0h1.07M459.7 78.0h3.21M469.4 78.0h1.07M488.7 78.0h2.14M491.9 78.0h1.07M499.4 78.0h1.07M502.6 78.0h2.14M453.3 80.2h1.07M457.6 80.2h1.07M460.8 80.2h1.07M463.0 80.2h1.07M465.1 80.2h3.21M471.5 80.2h2.14M475.8 80.2h1.07M479.0 80.2h1.07M481.2 80.2h1.07M483.3 80.2h1.07M490.8 80.2h1.07M494.0 80.2h2.14M497.2 80.2h2.14M503.7 80.2h2.14M451.2 82.5h1.07M459.7 82.5h1.07M474.7 82.5h1.07M483.3 82.5h1.07M489.7 82.5h1.07M491.9 82.5h1.07M494.0 82.5h1.07M500.4 82.5h1.07M502.6 82.5h1.07M504.7 82.5h1.07M461.9 84.7h1.07M467.2 84.7h1.07M470.5 84.7h1.07M473.7 84.7h1.07M476.9 84.7h4.28M485.4 84.7h2.14M500.4 84.7h2.14M503.7 84.7h1.07M454.4 87.0h1.07M457.6 87.0h1.07M460.8 87.0h1.07M465.1 87.0h1.07M470.5 87.0h1.07M474.7 87.0h1.07M478.0 87.0h1.07M480.1 87.0h1.07M482.2 87.0h1.07M496.2 87.0h2.14M499.4 87.0h2.14M502.6 87.0h1.07M453.3 89.3h1.07M457.6 89.3h1.07M463.0 89.3h2.14M466.2 89.3h1.07M471.5 89.3h1.07M476.9 89.3h1.07M483.3 89.3h1.07M498.3 89.3h1.07M501.5 89.3h1.07M503.7 89.3h2.14M450.1 91.5h1.07M458.7 91.5h1.07M464.0 91.5h1.07M467.2 91.5h1.07M471.5 91.5h1.07M474.7 91.5h1.07M476.9 91.5h2.14M481.2 91.5h2.14M485.4 91.5h1.07M496.2 91.5h2.14M499.4 91.5h1.07M502.6 91.5h1.07M465.1 93.8h2.14M473.7 93.8h1.07M476.9 93.8h1.07M484.4 93.8h1.07M486.5 93.8h1.07M488.7 93.8h1.07M499.4 93.8h1.07M503.7 93.8h1.07M453.3 96.1h2.14M456.5 96.1h1.07M459.7 96.1h1.07M465.1 96.1h1.07M471.5 96.1h1.07M474.7 96.1h1.07M476.9 96.1h1.07M479.0 96.1h1.07M486.5 96.1h3.21M498.3 96.1h2.14M450.1 98.3h1.07M453.3 98.3h1.07M455.5 98.3h1.07M469.4 98.3h1.07M474.7 98.3h2.14M480.1 98.3h1.07M486.5 98.3h1.07M495.1 98.3h2.14M501.5 98.3h1.07M474.7 100.6h1.07M476.9 100.6h1.07M479.0 100.6h1.07M481.2 100.6h1.07M486.5 100.6h1.07M501.5 100.6h1.07M504.7 100.6h1.07M452.2 102.8h1.07M454.4 102.8h1.07M456.5 102.8h1.07M459.7 102.8h1.07M499.4 102.8h1.07M451.2 105.1h1.07M454.4 105.1h2.14M458.7 105.1h2.14M465.1 105.1h1.07M471.5 105.1h2.14M475.8 105.1h1.07M480.1 105.1h1.07M483.3 105.1h1.07M486.5 105.1h1.07M499.4 105.1h1.07M502.6 105.1h2.14M450.1 107.4h1.07M453.3 107.4h1.07M459.7 107.4h1.07M473.7 107.4h1.07M479.0 107.4h4.28M489.7 107.4h1.07M452.2 109.6h1.07M454.4 109.6h1.07M459.7 109.6h3.21M465.1 109.6h1.07M468.3 109.6h1.07M470.5 109.6h1.07M479.0 109.6h1.07M450.1 111.9h1.07M453.3 111.9h1.07M455.5 111.9h1.07M475.8 111.9h1.07M480.1 111.9h2.14M483.3 111.9h1.07M486.5 111.9h1.07M491.9 111.9h3.21M500.4 111.9h1.07M502.6 111.9h2.14M456.5 114.2h1.07M469.4 114.2h2.14M474.7 114.2h1.07M485.4 114.2h1.07M500.4 114.2h1.07M504.7 114.2h1.07M452.2 116.4h1.07M459.7 116.4h1.07M461.9 116.4h1.07M475.8 116.4h1.07M480.1 116.4h1.07M482.2 116.4h1.07M484.4 116.4h2.14M488.7 116.4h1.07M496.2 116.4h1.07M498.3 116.4h2.14M502.6 116.4h1.07M450.1 118.7h1.07M455.5 118.7h1.07M458.7 118.7h1.07M465.1 118.7h1.07M473.7 118.7h1.07M496.2 118.7h1.07M499.4 118.7h1.07M503.7 118.7h2.14M452.2 120.9h2.14M459.7 120.9h1.07M467.2 120.9h1.07M474.7 120.9h1.07M480.1 120.9h1.07M486.5 120.9h1.07M497.2 120.9h1.07M499.4 120.9h1.07M504.7 120.9h1.07M460.8 123.2h1.07M469.4 123.2h1.07M486.5 123.2h1.07M496.2 123.2h2.14M500.4 123.2h1.07M455.5 125.5h1.07M459.7 125.5h1.07M461.9 125.5h1.07M467.2 125.5h2.14M473.7 125.5h1.07M481.2 125.5h1.07M483.3 125.5h1.07M492.9 125.5h1.07M498.3 125.5h1.07M501.5 125.5h1.07M451.2 127.7h1.07M456.5 127.7h1.07M458.7 127.7h1.07M460.8 127.7h1.07M464.0 127.7h1.07M470.5 127.7h1.07M473.7 127.7h1.07M479.0 127.7h1.07M484.4 127.7h1.07M486.5 127.7h2.14M489.7 127.7h1.07M501.5 127.7h2.14M461.9 130.0h1.07M472.6 130.0h1.07M475.8 130.0h1.07M484.4 130.0h2.14M489.7 130.0h1.07M500.4 130.0h1.07M455.5 132.3h1.07M458.7 132.3h1.07M460.8 132.3h1.07M465.1 132.3h2.14M478.0 132.3h1.07M486.5 132.3h1.07M488.7 132.3h1.07M498.3 132.3h1.07M504.7 132.3h1.07M450.1 134.5h1.07M455.5 134.5h2.14M468.3 134.5h1.07M473.7 134.5h1.07M481.2 134.5h2.14M484.4 134.5h1.07M488.7 134.5h1.07M494.0 134.5h1.07M496.2 134.5h1.07M499.4 134.5h1.07M502.6 134.5h2.14M452.2 136.8h2.14M468.3 136.8h1.07M470.5 136.8h1.07M474.7 136.8h1.07M479.0 136.8h1.07M481.2 136.8h1.07M484.4 136.8h2.14M487.6 136.8h2.14M499.4 136.8h1.07M454.4 139.0h1.07M464.0 139.0h1.07M473.7 139.0h2.14M465.1 141.3h2.14M469.4 141.3h1.07M487.6 141.3h1.07M497.2 141.3h1.07M501.5 141.3h1.07M504.7 141.3h1.07M453.3 143.6h2.14M460.8 143.6h1.07M471.5 143.6h1.07M474.7 143.6h2.14M478.0 143.6h1.07M483.3 143.6h1.07M488.7 143.6h1.07M494.0 143.6h1.07M501.5 143.6h1.07M504.7 143.6h1.07" stroke="rgb(107, 117, 18)" stroke-width="2.31" fill="none"/>
<path d="M363.0 145.8h1.08M365.1 145.8h1.08M367.3 145.8h1.08M371.6 145.8h2.15M388.8 145.8h1.08M391.0 145.8h3.23M395.3 145.8h1.08M397.4 145.8h1.08M400.6 145.8h1.08M416.8 145.8h1.08M422.2 145.8h1.08M426.5 145.8h1.08M434.0 145.8h1.08M436.2 145.8h1.08M442.6 145.8h1.08M363.0 148.1h1.08M370.5 148.1h2.15M380.2 148.1h1.08M383.4 148.1h1.08M400.6 148.1h1.08M402.8 148.1h2.15M408.2 148.1h1.08M413.6 148.1h1.08M419.0 148.1h1.08M428.6 148.1h1.08M431.9 148.1h1.08M436.2 148.1h2.15M442.6 148.1h1.08M363.0 150.3h1.08M365.1 150.3h2.15M377.0 150.3h1.08M379.1 150.3h1.08M383.4 150.3h1.08M387.7 150.3h1.08M389.9 150.3h1.08M392.0 150.3h1.08M394.2 150.3h2.15M401.7 150.3h1.08M414.6 150.3h1.08M425.4 150.3h1.08M435.1 150.3h1.08M440.5 150.3h1.08M357.6 152.6h1.08M366.2 152.6h2.15M377.0 152.6h1.08M384.5 152.6h1.08M388.8 152.6h1.08M395.3 152.6h1.08M402.8 152.6h1.08M409.3 152.6h1.08M430.8 152.6h1.08M439.4 152.6h1.08M361.9 154.8h1.08M371.6 154.8h1.08M377.0 154.8h1.08M382.3 154.8h1.08M389.9 154.8h2.15M396.3 154.8h2.15M403.9 154.8h1.08M407.1 154.8h1.08M411.4 154.8h3.23M415.7 154.8h1.08M431.9 154.8h2.15M438.3 154.8h1.08M359.7 157.1h1.08M365.1 157.1h1.08M378.0 157.1h1.08M388.8 157.1h1.08M392.0 157.1h1.08M398.5 157.1h1.08M403.9 157.1h2.15M435.1 157.1h1.08M439.4 157.1h1.08M367.3 159.3h2.15M373.7 159.3h1.08M380.2 159.3h1.08M382.3 159.3h1.08M384.5 159.3h1.08M386.7 159.3h1.08M392.0 159.3h2.15M395.3 159.3h1.08M399.6 159.3h1.08M402.8 159.3h1.08M409.3 159.3h1.08M412.5 159.3h1.08M416.8 159.3h1.08M421.1 159.3h4.31M428.6 159.3h1.08M431.9 159.3h1.08M372.7 161.6h1.08M377.0 161.6h2.15M386.7 161.6h1.08M401.7 161.6h1.08M410.3 161.6h1.08M412.5 161.6h1.08M437.3 161.6h1.08M439.4 161.6h1.08M359.7 163.9h1.08M361.9 163.9h1.08M364.0 163.9h2.15M370.5 163.9h1.08M374.8 163.9h1.08M378.0 163.9h1.08M380.2 163.9h1.08M385.6 163.9h1.08M389.9 163.9h1.08M395.3 163.9h3.23M401.7 163.9h2.15M407.1 163.9h2.15M412.5 163.9h1.08M421.1 163.9h2.15M425.4 163.9h1.08M434.0 163.9h1.08M436.2 163.9h1.08M439.4 163.9h1.08M363.0 166.1h1.08M365.1 166.1h1.08M372.7 166.1h1.08M382.3 166.1h2.15M395.3 166.1h1.08M398.5 166.1h2.15M402.8 166.1h1.08M408.2 166.1h1.08M413.6 166.1h1.08M431.9 166.1h1.08M435.1 166.1h1.08M444.8 166.1h1.08M370.5 168.4h2.15M377.0 168.4h1.08M379.1 168.4h1.08M382.3 168.4h1.08M386.7 168.4h1.08M391.0 168.4h1.08M395.3 168.4h1.08M397.4 168.4h1.08M405.0 168.4h1.08M426.5 168.4h1.08M430.8 168.4h3.23M439.4 168.4h1.08M360.8 170.6h1.08M365.1 170.6h1.08M369.4 170.6h1.08M374.8 170.6h1.08M384.5 170.6h1.08M387.7 170.6h2.15M400.6 170.6h1.08M405.0 170.6h1.08M412.5 170.6h1.08M431.9 170.6h1.08M363.0 172.9h1.08M377.0 172.9h2.15M384.5 172.9h1.08M387.7 172.9h1.08M402.8 172.9h1.08M408.2 172.9h1.08M416.8 172.9h1.08M422.2 172.9h1.08M425.4 172.9h2.15M431.9 172.9h1.08M435.1 172.9h1.08M439.4 172.9h2.15M359.7 175.1h1.08M374.8 175.1h1.08M378.0 175.1h1.08M382.3 175.1h1.08M391.0 175.1h1.08M394.2 175.1h1.08M403.9 175.1h2.15M412.5 175.1h1.08M421.1 175.1h1.08M429.7 175.1h3.23M355.4 177.4h1.08M366.2 177.4h2.15M371.6 177.4h1.08M378.0 177.4h1.08M381.3 177.4h1.08M383.4 177.4h1.08M403.9 177.4h1.08M406.0 177.4h1.08M412.5 177.4h1.08M414.6 177.4h1.08M425.4 177.4h1.08M434.0 177.4h1.08M442.6 177.4h1.08M365.1 179.6h1.08M371.6 179.6h1.08M373.7 179.6h1.08M379.1 179.6h1.08M386.7 179.6h1.08M391.0 179.6h1.08M393.1 179.6h1.08M401.7 179.6h3.23M413.6 179.6h1.08M422.2 179.6h1.08M431.9 179.6h1.08M434.0 179.6h1.08M436.2 179.6h1.08M363.0 181.9h1.08M367.3 181.9h1.08M378.0 181.9h1.08M380.2 181.9h1.08M385.6 181.9h1.08M387.7 181.9h5.38M401.7 181.9h2.15M406.0 181.9h2.15M430.8 181.9h2.15M365.1 184.1h1.08M374.8 184.1h1.08M377.0 184.1h3.23M382.3 184.1h1.08M387.7 184.1h1.08M395.3 184.1h1.08M437.3 184.1h1.08M369.4 186.4h1.08M373.7 186.4h3.23M378.0 186.4h2.15M382.3 186.4h1.08M384.5 186.4h1.08M386.7 186.4h1.08M393.1 186.4h1.08M399.6 186.4h1.08M409.3 186.4h1.08M415.7 186.4h1.08M425.4 186.4h1.08M428.6 186.4h1.08M430.8 186.4h2.15M439.4 186.4h1.08M442.6 186.4h1.08M359.7 188.6h1.08M363.0 188.6h1.08M370.5 188.6h1.08M380.2 188.6h1.08M384.5 188.6h1.08M386.7 188.6h1.08M395.3 188.6h1.08M408.2 188.6h2.15M413.6 188.6h1.08M426.5 188.6h1.08M440.5 188.6h1.08M442.6 188.6h1.08M444.8 188.6h1.08M359.7 190.9h1.08M366.2 190.9h1.08M374.8 190.9h1.08M377.0 190.9h1.08M391.0 190.9h1.08M400.6 190.9h2.15M405.0 190.9h1.08M415.7 190.9h2.15M425.4 190.9h1.08M363.0 193.2h1.08M371.6 193.2h1.08M377.0 193.2h1.08M382.3 193.2h1.08M384.5 193.2h2.15M392.0 193.2h1.08M405.0 193.2h1.08M408.2 193.2h1.08M414.6 193.2h1.08M417.9 193.2h2.15M422.2 193.2h1.08M436.2 193.2h1.08M438.3 193.2h1.08M359.7 195.4h1.08M363.0 195.4h1.08M369.4 195.4h1.08M374.8 195.4h1.08M378.0 195.4h1.08M382.3 195.4h1.08M387.7 195.4h1.08M392.0 195.4h1.08M402.8 195.4h2.15M414.6 195.4h1.08M416.8 195.4h1.08M426.5 195.4h1.08M360.8 197.7h1.08M382.3 197.7h1.08M393.1 197.7h1.08M406.0 197.7h1.08M408.2 197.7h1.08M412.5 197.7h2.15M416.8 197.7h1.08M422.2 197.7h1.08M425.4 197.7h1.08M431.9 197.7h1.08M436.2 197.7h1.08M442.6 197.7h1.08M364.0 199.9h2.15M385.6 199.9h1.08M391.0 199.9h1.08M398.5 199.9h2.15M401.7 199.9h1.08M408.2 199.9h1.08M413.6 199.9h1.08M419.0 199.9h1.08M424.3 199.9h1.08M439.4 199.9h1.08M367.3 202.2h1.08M375.9 202.2h1.08M380.2 202.2h1.08M385.6 202.2h1.08M405.0 202.2h1.08M412.5 202.2h1.08M422.2 202.2h1.08M425.4 202.2h1.08M442.6 202.2h1.08M369.4 204.4h1.08M393.1 204.4h1.08M397.4 204.4h1.08M403.9 204.4h1.08M422.2 204.4h1.08M431.9 204.4h1.08M436.2 204.4h1.08M439.4 204.4h2.15M374.8 206.7h1.08M382.3 206.7h1.08M384.5 206.7h1.08M391.0 206.7h2.15M396.3 206.7h1.08M400.6 206.7h2.15M403.9 206.7h1.08M412.5 206.7h1.08M419.0 206.7h1.08M445.9 206.7h1.08" stroke="rgb(107, 117, 18)" stroke-width="2.30" fill="none"/>
<path d="M374.8 145.8h1.08M379.1 145.8h1.08M384.5 145.8h1.08M413.6 145.8h1.08M423.3 145.8h1.08M433.0 145.8h1.08M435.1 145.8h1.08M439.4 145.8h1.08M444.8 145.8h1.08M379.1 148.1h1.08M395.3 148.1h1.08M401.7 148.1h1.08M410.3 148.1h1.08M416.8 148.1h1.08M424.3 148.1h1.08M371.6 150.3h1.08M380.2 150.3h1.08M385.6 150.3h1.08M411.4 150.3h1.08M439.4 150.3h1.08M393.1 152.6h1.08M412.5 152.6h1.08M414.6 152.6h1.08M431.9 152.6h1.08M436.2 152.6h1.08M383.4 154.8h2.15M401.7 154.8h1.08M417.9 154.8h1.08M439.4 154.8h1.08M444.8 154.8h1.08M371.6 157.1h1.08M379.1 157.1h1.08M370.5 159.3h1.08M379.1 159.3h1.08M387.7 159.3h1.08M391.0 159.3h1.08M397.4 159.3h1.08M405.0 159.3h1.08M413.6 159.3h2.15M419.0 159.3h1.08M436.2 159.3h1.08M380.2 161.6h1.08M383.4 161.6h1.08M397.4 161.6h1.08M414.6 161.6h1.08M416.8 161.6h1.08M366.2 163.9h1.08M369.4 163.9h1.08M371.6 163.9h1.08M379.1 163.9h1.08M399.6 163.9h1.08M416.8 163.9h1.08M435.1 163.9h1.08M378.0 166.1h1.08M384.5 166.1h1.08M403.9 166.1h1.08M421.1 166.1h2.15M436.2 166.1h1.08M442.6 166.1h1.08M363.0 168.4h1.08M399.6 168.4h1.08M407.1 168.4h2.15M417.9 168.4h1.08M435.1 168.4h1.08M383.4 170.6h1.08M395.3 170.6h1.08M401.7 170.6h1.08M425.4 170.6h1.08M365.1 172.9h1.08M374.8 172.9h1.08M379.1 172.9h1.08M382.3 172.9h2.15M401.7 172.9h1.08M405.0 172.9h1.08M421.1 172.9h1.08M430.8 172.9h1.08M371.6 175.1h2.15M379.1 175.1h1.08M395.3 175.1h1.08M401.7 175.1h1.08M413.6 175.1h1.08M416.8 175.1h1.08M425.4 175.1h1.08M438.3 175.1h1.08M363.0 177.4h1.08M372.7 177.4h1.08M392.0 177.4h1.08M395.3 177.4h1.08M384.5 179.6h1.08M405.0 179.6h1.08M430.8 179.6h1.08M438.3 179.6h1.08M383.4 181.9h1.08M413.6 181.9h1.08M397.4 184.1h1.08M401.7 184.1h1.08M411.4 184.1h1.08M414.6 184.1h1.08M364.0 186.4h1.08M371.6 186.4h1.08M391.0 186.4h1.08M405.0 186.4h2.15M416.8 186.4h1.08M426.5 186.4h1.08M374.8 188.6h1.08M382.3 188.6h1.08M433.0 188.6h1.08M393.1 190.9h1.08M397.4 190.9h1.08M360.8 193.2h1.08M367.3 193.2h1.08M369.4 193.2h1.08M373.7 193.2h1.08M387.7 193.2h1.08M395.3 193.2h1.08M397.4 193.2h1.08M401.7 193.2h1.08M431.9 193.2h1.08M379.1 195.4h1.08M384.5 195.4h1.08M401.7 195.4h1.08M405.0 195.4h1.08M421.1 195.4h1.08M436.2 195.4h1.08M440.5 195.4h1.08M374.8 197.7h1.08M380.2 197.7h1.08M384.5 197.7h1.08M389.9 197.7h1.08M401.7 197.7h1.08M403.9 197.7h1.08M426.5 197.7h1.08M430.8 197.7h1.08M380.2 199.9h3.23M416.8 199.9h1.08M434.0 199.9h1.08M440.5 199.9h1.08M360.8 202.2h1.08M371.6 202.2h1.08M374.8 202.2h1.08M379.1 202.2h1.08M382.3 202.2h2.15M386.7 202.2h1.08M402.8 202.2h1.08M410.3 202.2h1.08M413.6 202.2h1.08M435.1 202.2h1.08M439.4 202.2h1.08M405.0 204.4h1.08M365.1 206.7h1.08M387.7 206.7h1.08M405.0 206.7h1.08M414.6 206.7h1.08M421.1 206.7h2.15M425.4 206.7h1.08M439.4 206.7h2.15" stroke="rgb(152, 168, 26)" stroke-width="2.30" fill="none"/>
<path d="M458.7 55.3h1.07M482.2 55.3h1.07M487.6 55.3h1.07M492.9 55.3h1.07M500.4 55.3h2.14M453.3 57.6h1.07M464.0 57.6h1.07M468.3 57.6h1.07M476.9 57.6h1.07M483.3 57.6h1.07M487.6 57.6h1.07M494.0 57.6h1.07M499.4 57.6h1.07M475.8 59.9h1.07M481.2 59.9h1.07M485.4 59.9h1.07M495.1 59.9h2.14M498.3 59.9h1.07M453.3 62.1h2.14M469.4 62.1h2.14M476.9 62.1h3.21M484.4 62.1h2.14M492.9 62.1h1.07M500.4 62.1h1.07M503.7 62.1h1.07M452.2 64.4h1.07M456.5 64.4h1.07M460.8 64.4h1.07M464.0 64.4h1.07M467.2 64.4h1.07M478.0 64.4h1.07M485.4 64.4h1.07M500.4 64.4h1.07M502.6 64.4h1.07M450.1 66.6h4.28M468.3 66.6h1.07M481.2 66.6h1.07M496.2 66.6h2.14M500.4 66.6h1.07M471.5 68.9h1.07M487.6 68.9h1.07M499.4 68.9h1.07M503.7 68.9h1.07M453.3 71.2h1.07M459.7 71.2h2.14M469.4 71.2h1.07M453.3 73.4h2.14M460.8 73.4h1.07M468.3 73.4h1.07M476.9 73.4h1.07M501.5 73.4h1.07M453.3 75.7h1.07M459.7 75.7h1.07M461.9 75.7h1.07M464.0 75.7h4.28M473.7 75.7h1.07M484.4 75.7h1.07M487.6 75.7h1.07M489.7 75.7h1.07M491.9 75.7h1.07M495.1 75.7h1.07M500.4 75.7h1.07M504.7 75.7h1.07M473.7 78.0h1.07M480.1 78.0h1.07M483.3 78.0h1.07M500.4 78.0h1.07M461.9 80.2h1.07M484.4 80.2h1.07M486.5 80.2h2.14M460.8 82.5h2.14M485.4 82.5h2.14M492.9 82.5h1.07M456.5 84.7h1.07M459.7 84.7h1.07M471.5 84.7h1.07M495.1 84.7h2.14M499.4 84.7h1.07M453.3 87.0h1.07M461.9 87.0h1.07M472.6 87.0h1.07M481.2 87.0h1.07M484.4 87.0h1.07M486.5 87.0h1.07M488.7 87.0h1.07M452.2 89.3h1.07M454.4 89.3h2.14M479.0 89.3h1.07M488.7 89.3h1.07M490.8 89.3h1.07M494.0 89.3h1.07M455.5 91.5h1.07M459.7 91.5h1.07M468.3 91.5h1.07M473.7 91.5h1.07M484.4 91.5h1.07M491.9 91.5h2.14M451.2 93.8h1.07M455.5 93.8h1.07M457.6 93.8h1.07M482.2 93.8h1.07M487.6 93.8h1.07M501.5 93.8h1.07M450.1 96.1h2.14M467.2 96.1h1.07M473.7 96.1h1.07M475.8 96.1h1.07M490.8 96.1h1.07M492.9 96.1h1.07M497.2 96.1h1.07M500.4 96.1h1.07M461.9 98.3h1.07M466.2 98.3h2.14M471.5 98.3h1.07M473.7 98.3h1.07M478.0 98.3h1.07M482.2 98.3h1.07M489.7 98.3h1.07M498.3 98.3h1.07M502.6 98.3h1.07M451.2 100.6h1.07M455.5 100.6h1.07M458.7 100.6h1.07M488.7 100.6h2.14M450.1 102.8h2.14M467.2 102.8h1.07M479.0 102.8h1.07M487.6 102.8h1.07M491.9 102.8h1.07M497.2 102.8h1.07M500.4 102.8h1.07M453.3 105.1h1.07M469.4 105.1h1.07M485.4 105.1h1.07M457.6 107.4h1.07M460.8 107.4h2.14M478.0 107.4h1.07M496.2 107.4h1.07M501.5 107.4h2.14M450.1 109.6h1.07M452.2 111.9h1.07M456.5 111.9h1.07M459.7 111.9h1.07M469.4 111.9h1.07M479.0 111.9h1.07M487.6 111.9h1.07M496.2 111.9h1.07M452.2 114.2h1.07M468.3 114.2h1.07M473.7 114.2h1.07M490.8 114.2h1.07M454.4 116.4h1.07M465.1 116.4h2.14M473.7 116.4h1.07M492.9 116.4h1.07M503.7 116.4h1.07M459.7 118.7h1.07M467.2 118.7h1.07M469.4 118.7h1.07M488.7 118.7h1.07M501.5 118.7h1.07M471.5 120.9h1.07M473.7 120.9h1.07M479.0 120.9h1.07M483.3 120.9h1.07M488.7 120.9h1.07M502.6 120.9h1.07M481.2 123.2h1.07M489.7 123.2h1.07M453.3 125.5h1.07M456.5 125.5h1.07M454.4 127.7h1.07M461.9 127.7h1.07M465.1 127.7h1.07M467.2 127.7h2.14M480.1 127.7h1.07M482.2 127.7h1.07M488.7 127.7h1.07M496.2 127.7h1.07M503.7 127.7h1.07M459.7 130.0h1.07M463.0 130.0h1.07M476.9 130.0h1.07M480.1 130.0h1.07M488.7 130.0h1.07M494.0 130.0h1.07M496.2 130.0h1.07M501.5 130.0h1.07M490.8 132.3h1.07M492.9 132.3h1.07M460.8 134.5h1.07M479.0 134.5h1.07M485.4 134.5h1.07M490.8 134.5h1.07M501.5 134.5h1.07M502.6 136.8h1.07M460.8 139.0h1.07M487.6 139.0h1.07M478.0 141.3h1.07M480.1 141.3h1.07M491.9 141.3h1.07M465.1 143.6h1.07M487.6 143.6h1.07M500.4 143.6h1.07" stroke="rgb(152, 168, 26)" stroke-width="2.31" fill="none"/>
<path d="M389.9 145.8h1.08M374.8 150.3h1.08M371.6 152.6h1.08M397.4 157.1h1.08M413.6 157.1h1.08M374.8 161.6h1.08M379.1 161.6h1.08M405.0 163.9h1.08M413.6 163.9h1.08M383.4 168.4h1.08M392.0 168.4h1.08M425.4 168.4h1.08M436.2 168.4h1.08M363.0 170.6h1.08M360.8 172.9h1.08M397.4 172.9h1.08M393.1 175.1h1.08M439.4 175.1h1.08M373.7 177.4h1.08M380.2 177.4h1.08M435.1 177.4h1.08M426.5 179.6h1.08M372.7 186.4h1.08M383.4 186.4h1.08M395.3 186.4h1.08M401.7 186.4h1.08M443.7 186.4h1.08M360.8 188.6h1.08M391.0 188.6h1.08M403.9 188.6h1.08M435.1 188.6h1.08M365.1 193.2h1.08M412.5 193.2h2.15M366.2 195.4h1.08M383.4 199.9h1.08M436.2 199.9h1.08M395.3 202.2h1.08M414.6 202.2h1.08M379.1 204.4h1.08M442.6 206.7h1.08" stroke="rgb(198, 218, 35)" stroke-width="2.30" fill="none"/>
<path d="M459.7 55.3h1.07M468.3 55.3h1.07M486.5 55.3h1.07M496.2 55.3h1.07M454.4 57.6h2.14M486.5 57.6h1.07M501.5 57.6h1.07M450.1 59.9h1.07M465.1 59.9h1.07M502.6 59.9h1.07M452.2 62.1h1.07M455.5 62.1h2.14M487.6 62.1h1.07M489.7 62.1h1.07M461.9 64.4h1.07M468.3 64.4h2.14M482.2 64.4h1.07M487.6 64.4h1.07M499.4 64.4h1.07M501.5 64.4h1.07M455.5 66.6h1.07M458.7 66.6h1.07M461.9 66.6h1.07M465.1 66.6h1.07M485.4 66.6h1.07M487.6 66.6h1.07M458.7 68.9h1.07M463.0 68.9h1.07M472.6 68.9h1.07M478.0 68.9h1.07M468.3 71.2h1.07M482.2 71.2h1.07M486.5 71.2h2.14M487.6 73.4h1.07M497.2 73.4h2.14M455.5 75.7h2.14M468.3 75.7h1.07M476.9 75.7h2.14M496.2 75.7h1.07M503.7 75.7h1.07M453.3 78.0h1.07M490.8 78.0h1.07M480.1 80.2h1.07M482.2 80.2h1.07M499.4 80.2h1.07M502.6 80.2h1.07M457.6 84.7h1.07M481.2 84.7h1.07M487.6 84.7h1.07M492.9 84.7h1.07M498.3 84.7h1.07M452.2 87.0h1.07M455.5 87.0h1.07M485.4 87.0h1.07M451.2 89.3h1.07M456.5 89.3h1.07M465.1 89.3h1.07M482.2 89.3h1.07M485.4 89.3h1.07M500.4 89.3h1.07M502.6 89.3h1.07M453.3 91.5h1.07M470.5 91.5h1.07M483.3 91.5h1.07M494.0 91.5h1.07M498.3 91.5h1.07M479.0 93.8h1.07M470.5 96.1h1.07M496.2 96.1h1.07M501.5 96.1h1.07M464.0 98.3h1.07M468.3 98.3h1.07M485.4 98.3h1.07M487.6 98.3h1.07M492.9 98.3h1.07M500.4 98.3h1.07M453.3 100.6h1.07M456.5 100.6h1.07M468.3 100.6h1.07M482.2 100.6h1.07M453.3 102.8h1.07M470.5 102.8h1.07M464.0 105.1h1.07M487.6 105.1h1.07M487.6 107.4h1.07M466.2 109.6h1.07M502.6 109.6h1.07M451.2 111.9h1.07M482.2 111.9h1.07M488.7 111.9h1.07M498.3 111.9h1.07M488.7 114.2h1.07M499.4 114.2h1.07M453.3 118.7h1.07M455.5 120.9h2.14M466.2 123.2h1.07M474.7 125.5h1.07M487.6 125.5h1.07M499.4 125.5h1.07M453.3 127.7h1.07M455.5 127.7h1.07M497.2 127.7h1.07M499.4 127.7h2.14M457.6 130.0h1.07M484.4 132.3h1.07M456.5 136.8h1.07M500.4 136.8h1.07M470.5 139.0h1.07M486.5 139.0h1.07M500.4 139.0h1.07M479.0 143.6h1.07" stroke="rgb(198, 218, 35)" stroke-width="2.31" fill="none"/>
<path d="M456.5 148.1h1.07M497.2 154.8h1.07M451.2 159.3h1.07M461.9 166.1h1.07M485.4 168.4h1.07M504.7 170.6h1.07M483.3 172.9h1.07M453.3 175.1h1.07M466.2 175.1h1.07M461.9 177.4h1.07M479.0 177.4h1.07M482.2 177.4h1.07M498.3 179.6h1.07M500.4 179.6h1.07M480.1 181.9h1.07M501.5 193.2h1.07M456.5 197.7h1.07M467.2 206.7h1.07M492.9 206.7h1.07" stroke="rgb(150, 160, 120)" stroke-width="2.30" fill="none"/>
</g>
<rect x="448.90" y="54.20" width="1.40" height="153.60" fill="#eeeef2"/>
<rect x="352.00" y="215.80" width="99.10" height="13.90" fill="#c2e3e4"/>
<rect x="451.10" y="215.80" width="56.20" height="13.90" fill="#f2c8d4"/>
<path d="M362.2 215.8v13.9M368.9 215.8v13.9M377.6 215.8v13.9M387.2 215.8v13.9M396.5 215.8v13.9M407.0 215.8v13.9M417.2 215.8v13.9M427.7 215.8v13.9M432.8 215.8v13.9M440.5 215.8v13.9M448.4 215.8v13.9M453.8 215.8v13.9M458.8 215.8v13.9M468.8 215.8v13.9M479.7 215.8v13.9M489.4 215.8v13.9M496.3 215.8v13.9M505.5 215.8v13.9" stroke="#fff" stroke-opacity="0.55" stroke-width="0.7"/>
<text x="390.5" y="226.2" font-size="8.7" fill="#1d2d2d" textLength="19" lengthAdjust="spacingAndGlyphs" stroke="#1d2d2d" stroke-width="0.16">EMK</text>
<text x="468.7" y="226.2" font-size="8.6" fill="#2a1a22" textLength="15" lengthAdjust="spacingAndGlyphs" stroke="#2a1a22" stroke-width="0.16">IMP</text>
<rect x="352.00" y="233.10" width="32.10" height="14.80" fill="#c4e4e4"/>
<rect x="384.10" y="233.10" width="42.50" height="14.80" fill="#bcc2e6"/>
<rect x="426.60" y="233.10" width="17.60" height="14.80" fill="#f4d8a6"/>
<rect x="444.20" y="233.10" width="6.80" height="14.80" fill="#f2c8d4"/>
<rect x="451.00" y="233.10" width="5.30" height="14.80" fill="#c4e4e4"/>
<rect x="456.30" y="233.10" width="5.20" height="14.80" fill="#bcc2e6"/>
<rect x="461.50" y="233.10" width="16.50" height="14.80" fill="#f4d8a6"/>
<rect x="478.00" y="233.10" width="29.30" height="14.80" fill="#f2c8d4"/>
<path d="M362.2 233.1v14.8M368.9 233.1v14.8M377.6 233.1v14.8M387.2 233.1v14.8M396.5 233.1v14.8M407.0 233.1v14.8M417.2 233.1v14.8M427.7 233.1v14.8M432.8 233.1v14.8M440.5 233.1v14.8M448.4 233.1v14.8M453.8 233.1v14.8M458.8 233.1v14.8M468.8 233.1v14.8M479.7 233.1v14.8M489.4 233.1v14.8M496.3 233.1v14.8M505.5 233.1v14.8" stroke="#fff" stroke-opacity="0.55" stroke-width="0.7"/>
<text x="288.8" y="243.9" font-size="8.9" textLength="55.4" lengthAdjust="spacingAndGlyphs" stroke="#1a1a1a" stroke-width="0.16">WHO subtype</text>
<text x="352.9" y="258.5" font-size="8.9" textLength="55.1" lengthAdjust="spacingAndGlyphs" stroke="#1a1a1a" stroke-width="0.16">WHO subtype</text>
<rect x="352.60" y="263.30" width="56.20" height="1.10" fill="#333"/>
<rect x="352.10" y="271.00" width="13.30" height="12.90" fill="#a8d8da"/>
<text x="371.2" y="280.3" font-size="8.45" stroke="#1a1a1a" stroke-width="0.16">MDS-SLD</text>
<rect x="352.10" y="291.80" width="13.30" height="12.90" fill="#5a6cbc"/>
<text x="371.2" y="301.1" font-size="8.45" stroke="#1a1a1a" stroke-width="0.16">MDS-RS-SLD</text>
<rect x="439.90" y="271.00" width="13.60" height="13.10" fill="#e4a24a"/>
<text x="460" y="280.3" font-size="8.45" stroke="#1a1a1a" stroke-width="0.16">MDS-EB-1</text>
<rect x="439.90" y="291.80" width="13.60" height="13.10" fill="#df8fb6"/>
<text x="460" y="301.1" font-size="8.45" stroke="#1a1a1a" stroke-width="0.16">MDS-EB-2</text>
<text x="7.9" y="416.2" font-size="13.4" font-weight="bold" fill="#000" stroke="#000" stroke-width="0.16">C</text>
<text x="89.6" y="430.3" font-size="9" font-weight="bold" textLength="131.4" lengthAdjust="spacingAndGlyphs" stroke="#1a1a1a" stroke-width="0.16">Overall Survival in the Test Set</text>
<text x="79.8" y="441.1" font-size="9" font-weight="bold" textLength="152.7" lengthAdjust="spacingAndGlyphs" stroke="#1a1a1a" stroke-width="0.16">(Bone Marrow CD34+ Cell Samples)</text>
<rect x="63.00" y="447.00" width="1.60" height="156.80" fill="#111"/>
<rect x="63.00" y="602.10" width="182.64" height="1.60" fill="#111"/>
<rect x="60.30" y="452.10" width="3.00" height="1.20" fill="#111"/>
<text x="56.8" y="455.7" font-size="8.6" text-anchor="end" stroke="#1a1a1a" stroke-width="0.16">1</text>
<rect x="60.30" y="488.20" width="3.00" height="1.20" fill="#111"/>
<text x="56.8" y="491.8" font-size="8.6" text-anchor="end" stroke="#1a1a1a" stroke-width="0.16">0.75</text>
<rect x="60.30" y="524.30" width="3.00" height="1.20" fill="#111"/>
<text x="56.8" y="527.9" font-size="8.6" text-anchor="end" stroke="#1a1a1a" stroke-width="0.16">0.50</text>
<rect x="60.30" y="560.40" width="3.00" height="1.20" fill="#111"/>
<text x="56.8" y="564.0" font-size="8.6" text-anchor="end" stroke="#1a1a1a" stroke-width="0.16">0.25</text>
<rect x="60.30" y="596.50" width="3.00" height="1.20" fill="#111"/>
<text x="56.8" y="600.1" font-size="8.6" text-anchor="end" stroke="#1a1a1a" stroke-width="0.16">0</text>
<rect x="63.20" y="603.00" width="1.20" height="3.00" fill="#111"/>
<text x="63.8" y="617.6" font-size="8.6" text-anchor="middle" stroke="#1a1a1a" stroke-width="0.16">0</text>
<rect x="93.09" y="603.00" width="1.20" height="3.00" fill="#111"/>
<text x="93.69" y="617.6" font-size="8.6" text-anchor="middle" stroke="#1a1a1a" stroke-width="0.16">20</text>
<rect x="122.98" y="603.00" width="1.20" height="3.00" fill="#111"/>
<text x="123.58" y="617.6" font-size="8.6" text-anchor="middle" stroke="#1a1a1a" stroke-width="0.16">40</text>
<rect x="152.87" y="603.00" width="1.20" height="3.00" fill="#111"/>
<text x="153.47" y="617.6" font-size="8.6" text-anchor="middle" stroke="#1a1a1a" stroke-width="0.16">60</text>
<rect x="182.76" y="603.00" width="1.20" height="3.00" fill="#111"/>
<text x="183.36" y="617.6" font-size="8.6" text-anchor="middle" stroke="#1a1a1a" stroke-width="0.16">80</text>
<rect x="212.65" y="603.00" width="1.20" height="3.00" fill="#111"/>
<text x="213.25" y="617.6" font-size="8.6" text-anchor="middle" stroke="#1a1a1a" stroke-width="0.16">100</text>
<rect x="242.54" y="603.00" width="1.20" height="3.00" fill="#111"/>
<text x="243.14" y="617.6" font-size="8.6" text-anchor="middle" stroke="#1a1a1a" stroke-width="0.16">120</text>
<text transform="translate(34.2,524.9) rotate(-90)" font-size="10.2" text-anchor="middle" textLength="64.3" lengthAdjust="spacingAndGlyphs">Overall survival</text>
<text x="138" y="631.7" font-size="10.5" textLength="31.6" lengthAdjust="spacingAndGlyphs" stroke="#1a1a1a" stroke-width="0.16">Months</text>
<path d="M63.8 452.7 L65.5 452.7 L65.5 454.5 L67.0 454.5 L67.0 456.0 L68.5 456.0 L68.5 457.5 L70.0 457.5 L70.0 459.0 L71.5 459.0 L71.5 460.5 L74.0 460.5 L74.0 462.0 L76.5 462.0 L76.5 463.5 L79.0 463.5 L79.0 465.5 L80.5 465.5 L80.5 468.0 L82.0 468.0 L82.0 470.0 L83.5 470.0 L83.5 472.5 L85.0 472.5 L85.0 475.0 L87.0 475.0 L87.0 477.0 L90.0 477.0 L90.0 478.5 L95.0 478.5 L95.0 479.8 L99.0 479.8 L99.0 481.5 L104.0 481.5 L104.0 483.0 L109.0 483.0 L109.0 484.5 L112.0 484.5 L112.0 486.5 L115.0 486.5 L115.0 489.0 L117.0 489.0 L117.0 491.5 L119.0 491.5 L119.0 494.0 L121.0 494.0 L121.0 497.0 L123.0 497.0 L123.0 500.0 L126.0 500.0 L126.0 502.5 L130.0 502.5 L130.0 505.0 L133.0 505.0 L133.0 506.5 L138.0 506.5 L138.0 508.5 L142.0 508.5 L142.0 512.0 L143.5 512.0 L143.5 515.5 L150.0 515.5 L150.0 516.2 L157.0 516.2 L157.0 522.3 L166.5 522.3 L166.5 530.3 L217.0 530.3" stroke="#34507f" stroke-width="1.8" fill="none" stroke-linejoin="miter"/>
<path d="M70.0 455.0v5M77.0 459.5v5M84.0 467.5v5M93.0 476.0v5M101.0 477.3v5M107.0 479.0v5M113.0 482.0v5M125.0 494.5v5M131.0 500.0v5M135.0 502.5v5M140.0 504.0v5M152.0 513.0v5M155.0 513.0v5M161.0 519.8v5M174.0 527.8v5M188.0 527.8v5M190.0 527.8v5M217.0 527.8v5" stroke="#34507f" stroke-width="1.2"/>
<path d="M63.8 452.7 L65.0 452.7 L65.0 455.0 L66.5 455.0 L66.5 457.5 L68.0 457.5 L68.0 460.5 L70.0 460.5 L70.0 462.5 L72.0 462.5 L72.0 465.0 L74.0 465.0 L74.0 468.5 L75.5 468.5 L75.5 472.0 L77.0 472.0 L77.0 476.5 L78.5 476.5 L78.5 481.0 L80.0 481.0 L80.0 485.0 L81.5 485.0 L81.5 489.5 L83.0 489.5 L83.0 495.0 L84.0 495.0 L84.0 503.0 L85.0 503.0 L85.0 509.0 L86.0 509.0 L86.0 516.0 L87.0 516.0 L87.0 523.0 L94.6 523.0 L94.6 527.7 L97.5 527.7 L97.5 535.4 L108.0 535.4 L108.0 539.2 L110.5 539.2 L110.5 543.8 L116.5 543.8 L116.5 553.8 L131.0 553.8 L131.0 562.3 L144.2 562.3 L144.2 573.8 L149.0 573.8" stroke="#a3163d" stroke-width="1.8" fill="none" stroke-linejoin="miter"/>
<path d="M72.0 460.0v5M75.0 466.0v5M84.0 502.5v5M85.5 506.5v5M95.5 525.2v5M107.0 532.9v5M121.0 551.3v5M124.0 551.3v5M126.0 551.3v5M134.0 559.8v5M149.0 571.3v5" stroke="#a3163d" stroke-width="1.2"/>
<text x="190.8" y="517.7" font-size="8.2" fill="#34507f" textLength="18.1" lengthAdjust="spacingAndGlyphs" stroke="#34507f" stroke-width="0.16">EMK</text>
<text x="191.3" y="577.4" font-size="8.2" fill="#a3163d" textLength="14.3" lengthAdjust="spacingAndGlyphs" stroke="#a3163d" stroke-width="0.16">IMP</text>
<text x="192.3" y="553.4" font-size="8.2" font-style="italic" fill="#111" stroke="#111" stroke-width="0.16">P</text>
<text x="197.5" y="553.4" font-size="8.2" fill="#111" textLength="24.8" lengthAdjust="spacingAndGlyphs" stroke="#111" stroke-width="0.16">&lt;0.001</text>
<text x="20.9" y="632.6" font-size="8.8" font-weight="bold" fill="#111" textLength="45.6" lengthAdjust="spacingAndGlyphs" stroke="#111" stroke-width="0.16">No. at Risk</text>
<text x="20.9" y="645.6" font-size="8.8" fill="#111" textLength="19" lengthAdjust="spacingAndGlyphs" stroke="#111" stroke-width="0.16">EMK</text>
<text x="20.9" y="658.7" font-size="8.6" fill="#111" textLength="15" lengthAdjust="spacingAndGlyphs" stroke="#111" stroke-width="0.16">IMP</text>
<text x="63.8" y="645.6" font-size="9" text-anchor="middle" fill="#111" stroke="#111" stroke-width="0.16">116</text>
<text x="63.8" y="658.7" font-size="9" text-anchor="middle" fill="#111" stroke="#111" stroke-width="0.16">67</text>
<text x="93.8" y="645.6" font-size="9" text-anchor="middle" fill="#111" stroke="#111" stroke-width="0.16">66</text>
<text x="93.8" y="658.7" font-size="9" text-anchor="middle" fill="#111" stroke="#111" stroke-width="0.16">19</text>
<text x="123.4" y="645.6" font-size="9" text-anchor="middle" fill="#111" stroke="#111" stroke-width="0.16">43</text>
<text x="123.4" y="658.7" font-size="9" text-anchor="middle" fill="#111" stroke="#111" stroke-width="0.16">6</text>
<text x="153.2" y="645.6" font-size="9" text-anchor="middle" fill="#111" stroke="#111" stroke-width="0.16">15</text>
<text x="183" y="645.6" font-size="9" text-anchor="middle" fill="#111" stroke="#111" stroke-width="0.16">5</text>
<text x="212.5" y="645.6" font-size="9" text-anchor="middle" fill="#111" stroke="#111" stroke-width="0.16">1</text>
<text x="274.3" y="416.6" font-size="13.4" font-weight="bold" fill="#000" textLength="8.9" lengthAdjust="spacingAndGlyphs" stroke="#000" stroke-width="0.16">D</text>
<text x="335" y="430.2" font-size="9" font-weight="bold" textLength="173.2" lengthAdjust="spacingAndGlyphs" stroke="#1a1a1a" stroke-width="0.16">Leukemic Transformation in the Test Set</text>
<text x="345.75" y="440.8" font-size="9" font-weight="bold" textLength="151.5" lengthAdjust="spacingAndGlyphs" stroke="#1a1a1a" stroke-width="0.16">(Bone Marrow CD34+ Cell Samples)</text>
<rect x="331.20" y="447.00" width="1.60" height="156.80" fill="#111"/>
<rect x="331.20" y="602.10" width="179.30" height="1.60" fill="#111"/>
<rect x="328.50" y="452.10" width="3.00" height="1.20" fill="#111"/>
<text x="325" y="455.7" font-size="9.0" text-anchor="end" stroke="#1a1a1a" stroke-width="0.16">1</text>
<rect x="328.50" y="488.22" width="3.00" height="1.20" fill="#111"/>
<text x="325" y="491.825" font-size="9.0" text-anchor="end" stroke="#1a1a1a" stroke-width="0.16">0.75</text>
<rect x="328.50" y="524.35" width="3.00" height="1.20" fill="#111"/>
<text x="325" y="527.95" font-size="9.0" text-anchor="end" stroke="#1a1a1a" stroke-width="0.16">0.50</text>
<rect x="328.50" y="560.48" width="3.00" height="1.20" fill="#111"/>
<text x="325" y="564.075" font-size="9.0" text-anchor="end" stroke="#1a1a1a" stroke-width="0.16">0.25</text>
<rect x="328.50" y="596.60" width="3.00" height="1.20" fill="#111"/>
<text x="325" y="600.2" font-size="9.0" text-anchor="end" stroke="#1a1a1a" stroke-width="0.16">0</text>
<rect x="337.80" y="603.00" width="1.20" height="3.00" fill="#111"/>
<text x="338.4" y="617.6" font-size="9.0" text-anchor="middle" stroke="#1a1a1a" stroke-width="0.16">0</text>
<rect x="365.50" y="603.00" width="1.20" height="3.00" fill="#111"/>
<text x="366.09999999999997" y="617.6" font-size="9.0" text-anchor="middle" stroke="#1a1a1a" stroke-width="0.16">20</text>
<rect x="393.20" y="603.00" width="1.20" height="3.00" fill="#111"/>
<text x="393.79999999999995" y="617.6" font-size="9.0" text-anchor="middle" stroke="#1a1a1a" stroke-width="0.16">40</text>
<rect x="420.90" y="603.00" width="1.20" height="3.00" fill="#111"/>
<text x="421.5" y="617.6" font-size="9.0" text-anchor="middle" stroke="#1a1a1a" stroke-width="0.16">60</text>
<rect x="448.60" y="603.00" width="1.20" height="3.00" fill="#111"/>
<text x="449.2" y="617.6" font-size="9.0" text-anchor="middle" stroke="#1a1a1a" stroke-width="0.16">80</text>
<rect x="476.30" y="603.00" width="1.20" height="3.00" fill="#111"/>
<text x="476.9" y="617.6" font-size="9.0" text-anchor="middle" stroke="#1a1a1a" stroke-width="0.16">100</text>
<rect x="504.00" y="603.00" width="1.20" height="3.00" fill="#111"/>
<text x="504.59999999999997" y="617.6" font-size="9.0" text-anchor="middle" stroke="#1a1a1a" stroke-width="0.16">120</text>
<text transform="translate(299.5,524.95) rotate(-90)" font-size="10.2" text-anchor="middle" textLength="105.5" lengthAdjust="spacingAndGlyphs">Leukemic transformation</text>
<text x="405.4" y="632" font-size="10.5" textLength="32.5" lengthAdjust="spacingAndGlyphs" stroke="#1a1a1a" stroke-width="0.16">Months</text>
<path d="M339.0 598.6 L339.5 598.6 L339.5 595.5 L340.5 595.5 L340.5 588.0 L341.5 588.0 L341.5 580.0 L342.5 580.0 L342.5 573.0 L343.5 573.0 L343.5 567.0 L345.0 567.0 L345.0 563.5 L347.5 563.5 L347.5 561.0 L349.5 561.0 L349.5 558.0 L351.5 558.0 L351.5 555.5 L353.5 555.5 L353.5 552.5 L355.5 552.5 L355.5 549.0 L357.0 549.0 L357.0 545.5 L358.5 545.5 L358.5 542.0 L364.5 542.0 L364.5 538.0 L366.0 538.0 L366.0 534.5 L368.0 534.5 L368.0 531.0 L369.4 531.0 L369.4 527.9 L383.5 527.9 L383.5 524.6 L386.5 524.6 L386.5 520.5 L398.5 520.5 L398.5 517.6 L404.3 517.6 L404.3 513.2 L414.0 513.2 L414.0 509.6 L415.1 509.6 L415.1 503.3" stroke="#a3163d" stroke-width="1.8" fill="none" stroke-linejoin="miter"/>
<path d="M346.0 561.0v5M350.0 555.5v5M354.0 550.0v5M357.5 543.0v5M362.0 539.5v5M378.0 525.4v5M380.0 525.4v5M392.0 518.0v5M395.0 518.0v5M402.0 515.1v5M413.0 510.7v5" stroke="#a3163d" stroke-width="1.2"/>
<path d="M339.0 598.6 L340.5 598.6 L340.5 596.0 L342.0 596.0 L342.0 594.0 L344.5 594.0 L344.5 592.3 L347.5 592.3 L347.5 590.8 L351.0 590.8 L351.0 589.5 L355.0 589.5 L355.0 588.0 L359.0 588.0 L359.0 587.0 L364.0 587.0 L364.0 585.8 L369.0 585.8 L369.0 584.0 L381.0 584.0 L381.0 582.6 L390.0 582.6 L390.0 581.5 L400.0 581.5 L400.0 580.5 L411.5 580.5 L411.5 578.5 L415.0 578.5 L415.0 576.8 L440.2 576.8" stroke="#34507f" stroke-width="1.8" fill="none" stroke-linejoin="miter"/>
<path d="M342.0 593.5v5M346.0 589.8v5M349.0 588.3v5M352.0 587.0v5M356.0 585.5v5M360.0 584.5v5M366.0 583.3v5M371.0 581.5v5M378.0 581.5v5M384.0 580.1v5M387.0 580.1v5M392.0 579.0v5M395.0 579.0v5M398.0 579.0v5M402.0 578.0v5M405.0 578.0v5M408.0 578.0v5M410.0 578.0v5M417.0 574.3v5M420.0 574.3v5M424.0 574.3v5M427.0 574.3v5M440.2 574.3v5" stroke="#34507f" stroke-width="1.2"/>
<rect x="337.60" y="593.00" width="3.40" height="6.50" fill="#a3163d"/>
<text x="438.4" y="504.7" font-size="8.2" fill="#a3163d" textLength="14.3" lengthAdjust="spacingAndGlyphs" stroke="#a3163d" stroke-width="0.16">IMP</text>
<text x="439.3" y="533.8" font-size="8.2" font-style="italic" fill="#111" stroke="#111" stroke-width="0.16">P</text>
<text x="444.5" y="533.8" font-size="8.2" fill="#111" textLength="24.4" lengthAdjust="spacingAndGlyphs" stroke="#111" stroke-width="0.16">&lt;0.001</text>
<text x="438.4" y="563.4" font-size="8.2" fill="#34507f" textLength="17.9" lengthAdjust="spacingAndGlyphs" stroke="#34507f" stroke-width="0.16">EMK</text>
<text x="288" y="632.5" font-size="8.8" font-weight="bold" fill="#111" textLength="45.6" lengthAdjust="spacingAndGlyphs" stroke="#111" stroke-width="0.16">No. at Risk</text>
<text x="288" y="645.5" font-size="8.8" fill="#111" textLength="19" lengthAdjust="spacingAndGlyphs" stroke="#111" stroke-width="0.16">EMK</text>
<text x="288" y="658.7" font-size="8.6" fill="#111" textLength="15" lengthAdjust="spacingAndGlyphs" stroke="#111" stroke-width="0.16">IMP</text>
<text x="338.5" y="645.5" font-size="9" text-anchor="middle" fill="#111" stroke="#111" stroke-width="0.16">91</text>
<text x="338.5" y="658.7" font-size="9" text-anchor="middle" fill="#111" stroke="#111" stroke-width="0.16">63</text>
<text x="366.2" y="645.5" font-size="9" text-anchor="middle" fill="#111" stroke="#111" stroke-width="0.16">50</text>
<text x="366.2" y="658.7" font-size="9" text-anchor="middle" fill="#111" stroke="#111" stroke-width="0.16">16</text>
<text x="393.8" y="645.5" font-size="9" text-anchor="middle" fill="#111" stroke="#111" stroke-width="0.16">31</text>
<text x="393.8" y="658.7" font-size="9" text-anchor="middle" fill="#111" stroke="#111" stroke-width="0.16">6</text>
<text x="421.2" y="645.5" font-size="9" text-anchor="middle" fill="#111" stroke="#111" stroke-width="0.16">7</text>
<rect x="0.00" y="0.00" width="520.00" height="1.30" fill="#000"/>
<rect x="0.00" y="0.00" width="1.30" height="669.00" fill="#000"/>
<rect x="518.20" y="0.00" width="1.80" height="669.00" fill="#000"/>
<rect x="0.00" y="667.20" width="520.00" height="1.80" fill="#000"/>
</svg>
</body></html>
